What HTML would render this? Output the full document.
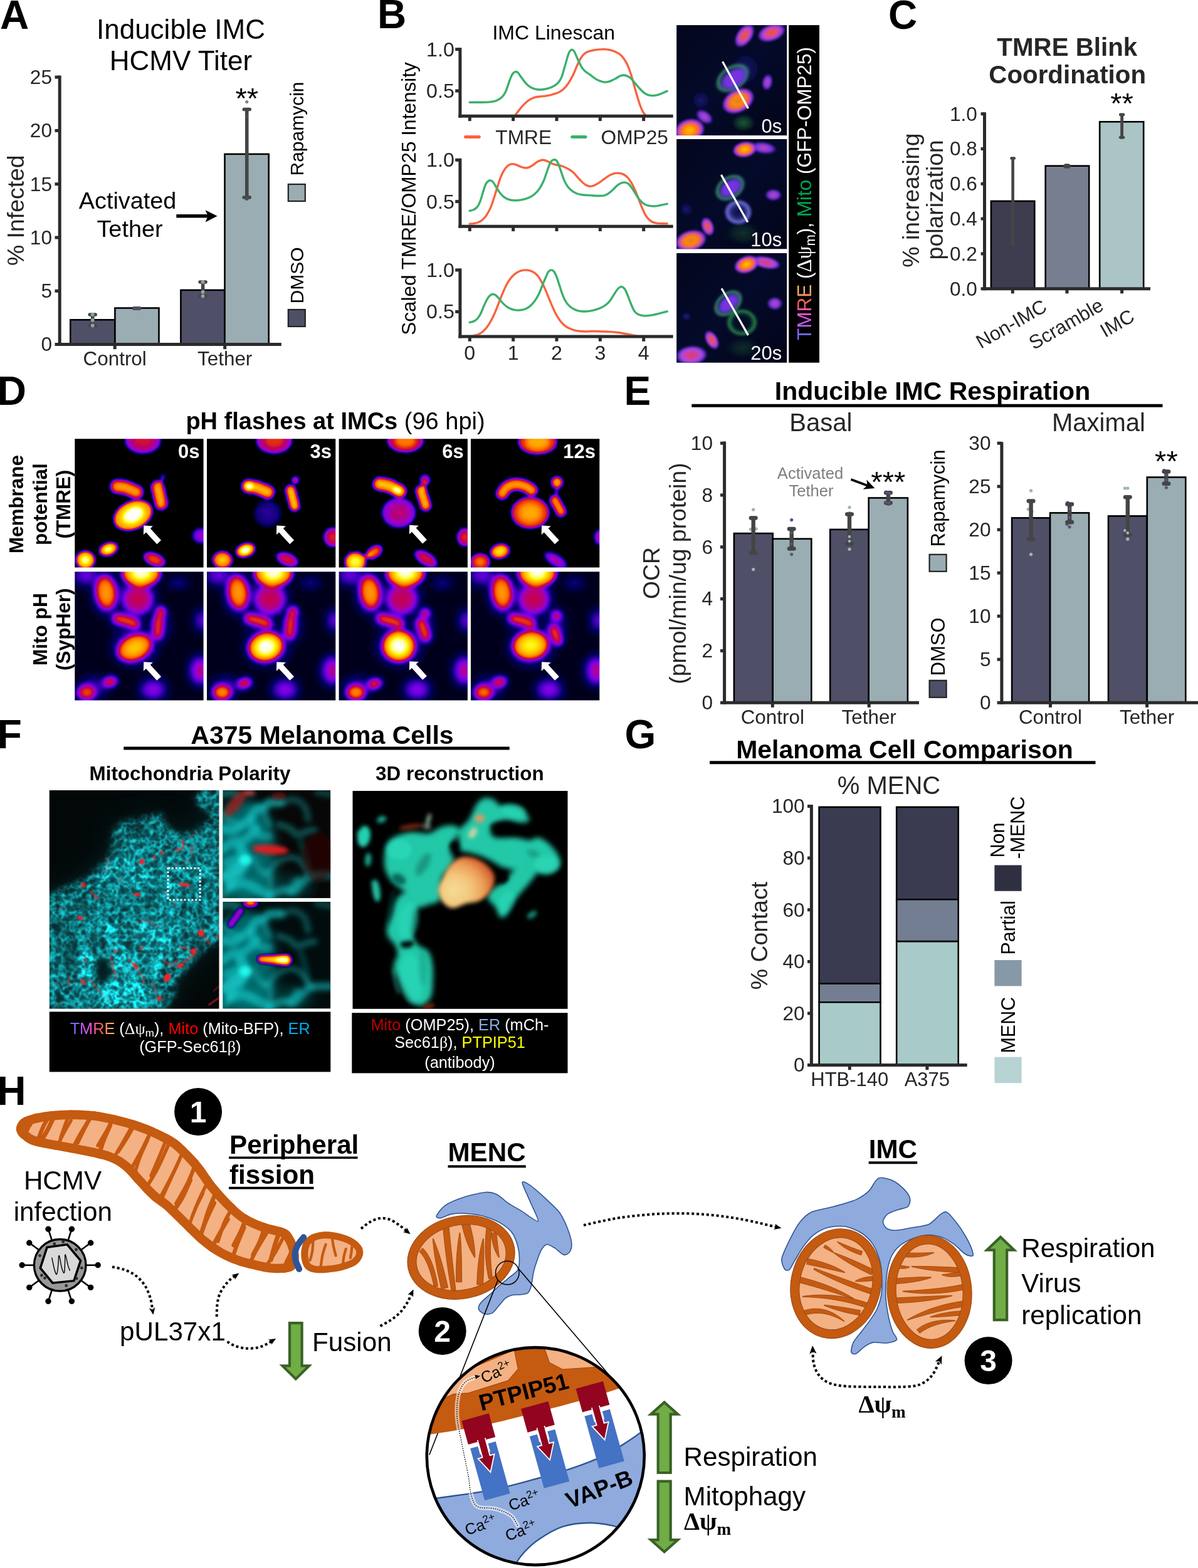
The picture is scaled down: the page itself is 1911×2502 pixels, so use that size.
<!DOCTYPE html>
<html lang="en">
<head>
<meta charset="utf-8">
<title>Figure</title>
<style>
html,body{margin:0;padding:0;background:#fff;}
body{width:1911px;height:2502px;overflow:hidden;}
svg{display:block;font-family:"Liberation Sans",sans-serif;}
</style>
</head>
<body>
<svg width="1911" height="2502" viewBox="0 0 1911 2502">
<defs>
<radialGradient id="bHot"><stop offset="0" stop-color="#ffc400"/><stop offset="0.3" stop-color="#ff9a00"/><stop offset="0.55" stop-color="#f56a20"/><stop offset="0.72" stop-color="#c840d0"/><stop offset="0.86" stop-color="#7a35e8" stop-opacity="0.85"/><stop offset="1" stop-color="#3a20c0" stop-opacity="0"/></radialGradient>
<radialGradient id="bOr"><stop offset="0" stop-color="#f07818"/><stop offset="0.35" stop-color="#f58a10"/><stop offset="0.58" stop-color="#ee6a30"/><stop offset="0.74" stop-color="#c040d0"/><stop offset="0.87" stop-color="#7a35e8" stop-opacity="0.8"/><stop offset="1" stop-color="#3a20c0" stop-opacity="0"/></radialGradient>
<radialGradient id="bRed"><stop offset="0" stop-color="#e8553c"/><stop offset="0.3" stop-color="#e25060"/><stop offset="0.55" stop-color="#c845c8"/><stop offset="0.78" stop-color="#8438e6" stop-opacity="0.9"/><stop offset="1" stop-color="#3a20c0" stop-opacity="0"/></radialGradient>
<radialGradient id="bMag"><stop offset="0" stop-color="#d83a70"/><stop offset="0.35" stop-color="#d040a0"/><stop offset="0.6" stop-color="#b048e0"/><stop offset="0.8" stop-color="#7c3ae8" stop-opacity="0.85"/><stop offset="1" stop-color="#3a20c0" stop-opacity="0"/></radialGradient>
<radialGradient id="bPur"><stop offset="0" stop-color="#7a30e0"/><stop offset="0.5" stop-color="#7434e0"/><stop offset="0.75" stop-color="#6a3ad8" stop-opacity="0.85"/><stop offset="1" stop-color="#3a30c0" stop-opacity="0"/></radialGradient>
<radialGradient id="bPurR"><stop offset="0" stop-color="#c04890"/><stop offset="0.3" stop-color="#a040d8"/><stop offset="0.65" stop-color="#7a35e8" stop-opacity="0.9"/><stop offset="1" stop-color="#3a20c0" stop-opacity="0"/></radialGradient>
<radialGradient id="bBlu"><stop offset="0" stop-color="#2a1ca8" stop-opacity="0.9"/><stop offset="0.6" stop-color="#1a1a80" stop-opacity="0.5"/><stop offset="1" stop-color="#101060" stop-opacity="0"/></radialGradient>
<radialGradient id="bGrn"><stop offset="0" stop-color="#1f6a38" stop-opacity="0.85"/><stop offset="0.6" stop-color="#185030" stop-opacity="0.5"/><stop offset="1" stop-color="#0a2a20" stop-opacity="0"/></radialGradient>
<radialGradient id="bGrnRim"><stop offset="0" stop-color="#4fa88a" stop-opacity="0"/><stop offset="0.55" stop-color="#4fa88a" stop-opacity="0"/><stop offset="0.78" stop-color="#4aa080" stop-opacity="0.75"/><stop offset="0.9" stop-color="#2f8060" stop-opacity="0.45"/><stop offset="1" stop-color="#104030" stop-opacity="0"/></radialGradient>
<radialGradient id="bRing"><stop offset="0" stop-color="#3030a0" stop-opacity="0.2"/><stop offset="0.45" stop-color="#4040b0" stop-opacity="0.5"/><stop offset="0.75" stop-color="#7070d8" stop-opacity="0.95"/><stop offset="0.9" stop-color="#5858c0" stop-opacity="0.6"/><stop offset="1" stop-color="#202080" stop-opacity="0"/></radialGradient>
<radialGradient id="bGRing"><stop offset="0" stop-color="#1a6a3a" stop-opacity="0"/><stop offset="0.5" stop-color="#1a6a3a" stop-opacity="0.1"/><stop offset="0.78" stop-color="#2c9650" stop-opacity="0.8"/><stop offset="0.9" stop-color="#207840" stop-opacity="0.5"/><stop offset="1" stop-color="#104030" stop-opacity="0"/></radialGradient>
<linearGradient id="bTM" gradientUnits="userSpaceOnUse" x1="0" y1="0" x2="89" y2="0"><stop offset="0.1" stop-color="#7669f8"/><stop offset="0.42" stop-color="#f050f0"/><stop offset="0.68" stop-color="#f25a52"/><stop offset="0.92" stop-color="#f6ba68"/></linearGradient>
<filter id="bBlur" x="-10%" y="-10%" width="120%" height="120%"><feGaussianBlur stdDeviation="1.7"/></filter>
<linearGradient id="bBg" x1="0" y1="0" x2="1" y2="1"><stop offset="0" stop-color="#03061c"/><stop offset="0.5" stop-color="#040a2a"/><stop offset="1" stop-color="#020418"/></linearGradient>
<clipPath id="bClip0"><rect x="1079.2" y="40.1" width="176" height="176"/></clipPath>
<clipPath id="bClip1"><rect x="1079.2" y="222" width="176" height="175.3"/></clipPath>
<clipPath id="bClip2"><rect x="1079.2" y="403.9" width="176" height="174.8"/></clipPath>
<filter id="fireA" filterUnits="userSpaceOnUse" x="0" y="680" width="980" height="460" color-interpolation-filters="sRGB"><feGaussianBlur stdDeviation="2.3"/><feComponentTransfer><feFuncR type="table" tableValues="0 0 0 0.1 0.19 0.29 0.38 0.48 0.57 0.64 0.68 0.72 0.76 0.81 0.85 0.9 0.94 0.99 1 1 1 1 1 1 1 1 1 1 1 1 1 1"/><feFuncG type="table" tableValues="0 0 0 0 0 0 0 0 0 0 0 0 0 0.05 0.14 0.22 0.31 0.4 0.46 0.52 0.58 0.63 0.69 0.75 0.8 0.86 0.92 0.97 1 1 1 1"/><feFuncB type="table" tableValues="0 0.24 0.38 0.51 0.65 0.75 0.86 0.89 0.82 0.71 0.59 0.48 0.36 0.25 0.14 0.02 0 0 0 0 0 0 0 0 0 0 0 0.14 0.38 0.63 0.87 1"/><feFuncA type="linear" slope="0" intercept="1"/></feComponentTransfer></filter>
<filter id="fireB" filterUnits="userSpaceOnUse" x="0" y="680" width="980" height="460" color-interpolation-filters="sRGB"><feGaussianBlur stdDeviation="4"/><feComponentTransfer><feFuncR type="table" tableValues="0 0 0 0.1 0.19 0.29 0.38 0.48 0.57 0.64 0.68 0.72 0.76 0.81 0.85 0.9 0.94 0.99 1 1 1 1 1 1 1 1 1 1 1 1 1 1"/><feFuncG type="table" tableValues="0 0 0 0 0 0 0 0 0 0 0 0 0 0.05 0.14 0.22 0.31 0.4 0.46 0.52 0.58 0.63 0.69 0.75 0.8 0.86 0.92 0.97 1 1 1 1"/><feFuncB type="table" tableValues="0 0.24 0.38 0.51 0.65 0.75 0.86 0.89 0.82 0.71 0.59 0.48 0.36 0.25 0.14 0.02 0 0 0 0 0 0 0 0 0 0 0 0.14 0.38 0.63 0.87 1"/><feFuncA type="linear" slope="0" intercept="1"/></feComponentTransfer></filter>
<filter id="dHaze" x="-50%" y="-50%" width="200%" height="200%"><feGaussianBlur stdDeviation="7"/></filter>
<filter id="dS1" x="-60%" y="-60%" width="220%" height="220%"><feGaussianBlur stdDeviation="1.6"/></filter>
<filter id="dS2" x="-60%" y="-60%" width="220%" height="220%"><feGaussianBlur stdDeviation="3"/></filter>
<filter id="dS3" x="-60%" y="-60%" width="220%" height="220%"><feGaussianBlur stdDeviation="5"/></filter>
<clipPath id="dc00"><rect x="119.3" y="700.3" width="205.3" height="205.3"/></clipPath>
<clipPath id="dc01"><rect x="330" y="700.3" width="205.3" height="205.3"/></clipPath>
<clipPath id="dc02"><rect x="540.6" y="700.3" width="205.3" height="205.3"/></clipPath>
<clipPath id="dc03"><rect x="751" y="700.3" width="205.3" height="205.3"/></clipPath>
<clipPath id="dc10"><rect x="119.3" y="912.2" width="205.3" height="205.3"/></clipPath>
<clipPath id="dc11"><rect x="330" y="912.2" width="205.3" height="205.3"/></clipPath>
<clipPath id="dc12"><rect x="540.6" y="912.2" width="205.3" height="205.3"/></clipPath>
<clipPath id="dc13"><rect x="751" y="912.2" width="205.3" height="205.3"/></clipPath>
<filter id="fER" filterUnits="userSpaceOnUse" x="48.8" y="1231" width="330.6" height="408.6" color-interpolation-filters="sRGB"><feTurbulence type="fractalNoise" baseFrequency="0.07" numOctaves="3" seed="11" result="n"/><feComponentTransfer in="n" result="l"><feFuncR type="table" tableValues="0 0 0 0 0 0 0 0 0 0 0 0 0 0 0 0 0 0 0.25 0.8 1 0.8 0.25 0 0 0 0 0 0 0 0 0 0 0 0 0 0 0 0 0 0"/><feFuncG type="table" tableValues="0 0 0 0 0 0 0 0 0 0 0 0 0 0 0 0 0 0 0.25 0.8 1 0.8 0.25 0 0 0 0 0 0 0 0 0 0 0 0 0 0 0 0 0 0"/><feFuncB type="table" tableValues="0 0 0 0.1 0.5 0.9 0.5 0.1 0 0 0"/><feFuncA type="linear" slope="0" intercept="1"/></feComponentTransfer><feColorMatrix in="l" type="matrix" values="0.04 0.04 0.02 0 0  0.5 0.5 0.25 0 0.06  0.52 0.52 0.26 0 0.07  0 0 0 0 1" result="c"/><feGaussianBlur in="c" stdDeviation="1.15" result="cb"/><feGaussianBlur in="SourceGraphic" stdDeviation="5" result="m"/><feGaussianBlur in="SourceGraphic" stdDeviation="22" result="m2"/><feComposite in="cb" in2="m" operator="arithmetic" k1="1.75" k2="0" k3="0.04" k4="0" result="r1"/><feColorMatrix in="m2" type="matrix" values="0.02 0 0 0 0.008  0 0.22 0 0 0.03  0 0 0.24 0 0.032  0 0 0 0 1" result="hz"/><feComposite in="r1" in2="hz" operator="arithmetic" k1="0" k2="1" k3="1" k4="0"/><feComponentTransfer><feFuncA type="linear" slope="0" intercept="1"/></feComponentTransfer></filter>
<filter id="fERz" filterUnits="userSpaceOnUse" x="345.3" y="1251" width="192" height="368.6" color-interpolation-filters="sRGB"><feTurbulence type="fractalNoise" baseFrequency="0.022" numOctaves="2" seed="5" result="n"/><feComponentTransfer in="n" result="l"><feFuncR type="table" tableValues="0 0 0 0 0 0 0 0 0.2 0.75 1 0.75 0.2 0 0 0 0 0 0 0 0"/><feFuncG type="table" tableValues="0 0 0 0 0 0 0 0 0.2 0.75 1 0.75 0.2 0 0 0 0 0 0 0 0"/><feFuncB type="table" tableValues="0 0 0 0.1 0.4 0.7 0.4 0.1 0 0 0"/><feFuncA type="linear" slope="0" intercept="1"/></feComponentTransfer><feColorMatrix in="l" type="matrix" values="0 0 0 0 0  0.6 0.6 0.18 0 0.03  0.62 0.62 0.19 0 0.04  0 0 0 0 1" result="c"/><feGaussianBlur in="c" stdDeviation="3" result="cb"/><feGaussianBlur in="SourceGraphic" stdDeviation="9" result="m"/><feComposite in="cb" in2="m" operator="arithmetic" k1="1.9" k2="0" k3="0.06" k4="0"/><feComponentTransfer><feFuncA type="linear" slope="0" intercept="1"/></feComponentTransfer></filter>
<linearGradient id="fTM" gradientUnits="userSpaceOnUse" x1="112" y1="0" x2="183" y2="0"><stop offset="0.1" stop-color="#7669f8"/><stop offset="0.42" stop-color="#f050f0"/><stop offset="0.68" stop-color="#f25a52"/><stop offset="0.92" stop-color="#f6ba68"/></linearGradient>
<filter id="fB1" x="-50%" y="-50%" width="200%" height="200%"><feGaussianBlur stdDeviation="0.9"/></filter>
<filter id="fB2" x="-50%" y="-50%" width="200%" height="200%"><feGaussianBlur stdDeviation="3"/></filter>
<filter id="fB4" x="-50%" y="-50%" width="200%" height="200%"><feGaussianBlur stdDeviation="4.5"/></filter>
<filter id="fB8" x="-50%" y="-50%" width="200%" height="200%"><feGaussianBlur stdDeviation="9"/></filter>
<filter id="fFire" filterUnits="userSpaceOnUse" x="345.3" y="1428.8" width="192" height="190.8" color-interpolation-filters="sRGB"><feGaussianBlur stdDeviation="2.7" result="b"/><feColorMatrix in="b" type="matrix" values="0 0 0 1 0  0 0 0 1 0  0 0 0 1 0  0 0 0 0 1" result="g"/><feComponentTransfer in="g" result="c"><feFuncR type="table" tableValues="0 0 0 0.1 0.19 0.29 0.38 0.48 0.57 0.64 0.68 0.72 0.76 0.81 0.85 0.9 0.94 0.99 1 1 1 1 1 1 1 1 1 1 1 1 1 1"/><feFuncG type="table" tableValues="0 0 0 0 0 0 0 0 0 0 0 0 0 0.05 0.14 0.22 0.31 0.4 0.46 0.52 0.58 0.63 0.69 0.75 0.8 0.86 0.92 0.97 1 1 1 1"/><feFuncB type="table" tableValues="0 0.24 0.38 0.51 0.65 0.75 0.86 0.89 0.82 0.71 0.59 0.48 0.36 0.25 0.14 0.02 0 0 0 0 0 0 0 0 0 0 0 0.14 0.38 0.63 0.87 1"/></feComponentTransfer><feComponentTransfer in="b" result="a"><feFuncA type="table" tableValues="0 0.9 1 1 1 1 1 1"/></feComponentTransfer><feComposite in="c" in2="a" operator="in"/></filter>
<clipPath id="fcM"><rect x="78.8" y="1261" width="270.6" height="348.6"/></clipPath>
<clipPath id="fcZ1"><rect x="355.3" y="1261" width="172" height="172.2"/></clipPath>
<clipPath id="fcZ2"><rect x="355.3" y="1438.8" width="172" height="170.8"/></clipPath>
<clipPath id="fcT"><rect x="562.5" y="1262" width="343" height="347.8"/></clipPath>
<linearGradient id="fTeal" x1="0" y1="0" x2="1" y2="1"><stop offset="0" stop-color="#3fd4b4"/><stop offset="0.5" stop-color="#2fbf9f"/><stop offset="1" stop-color="#239a84"/></linearGradient>
<radialGradient id="fOr" cx="0.28" cy="0.66" r="0.85"><stop offset="0" stop-color="#f5dc96"/><stop offset="0.35" stop-color="#f3c77c"/><stop offset="0.62" stop-color="#ec9f58"/><stop offset="0.82" stop-color="#d86a34"/><stop offset="1" stop-color="#a83418"/></radialGradient>
</defs>
<rect width="1911" height="2502" fill="#fff"/>
<g id="pA">
<text x="0" y="45.6" font-size="64" fill="#000" font-weight="bold">A</text>
<text x="288.5" y="61.6" font-size="44" fill="#000" text-anchor="middle">Inducible IMC</text>
<text x="288.4" y="111.9" font-size="44" fill="#000" text-anchor="middle">HCMV Titer</text>
<text font-size="37.4" fill="#262626" text-anchor="middle" transform="translate(38.4 335.7) rotate(-90)">% Infected</text>
<rect x="112.3" y="510.3" width="71.1" height="39.3" fill="#4f5067" stroke="#000" stroke-width="2.6"/>
<rect x="183.4" y="491.53" width="70.1" height="58.07" fill="#9aadb2" stroke="#000" stroke-width="2.6"/>
<rect x="288.4" y="462.87" width="70.1" height="86.73" fill="#4f5067" stroke="#000" stroke-width="2.6"/>
<rect x="358.5" y="245.87" width="70.2" height="303.73" fill="#9aadb2" stroke="#000" stroke-width="2.6"/>
<line x1="147.7" y1="502" x2="147.7" y2="519.5" stroke="#454545" stroke-width="5.6"/><line x1="143.25" y1="502" x2="152.15" y2="502" stroke="#454545" stroke-width="5.6" stroke-linecap="round"/><line x1="143.25" y1="519.5" x2="152.15" y2="519.5" stroke="#454545" stroke-width="5.6" stroke-linecap="round"/>
<circle cx="147.7" cy="502" r="2.9" fill="#8ca2a8"/>
<circle cx="147.7" cy="511" r="2.9" fill="#8ca2a8"/>
<circle cx="147.7" cy="519.5" r="2.9" fill="#8ca2a8"/>
<line x1="218.2" y1="492" x2="218.2" y2="492" stroke="#454545" stroke-width="5.6"/><line x1="213.75" y1="492" x2="222.65" y2="492" stroke="#454545" stroke-width="5.6" stroke-linecap="round"/><line x1="213.75" y1="492" x2="222.65" y2="492" stroke="#454545" stroke-width="5.6" stroke-linecap="round"/>
<circle cx="215.7" cy="492" r="2.9" fill="#4f5067"/>
<circle cx="220.7" cy="492" r="2.9" fill="#4f5067"/>
<line x1="323.6" y1="450" x2="323.6" y2="472.5" stroke="#454545" stroke-width="5.6"/><line x1="319.15" y1="450" x2="328.05" y2="450" stroke="#454545" stroke-width="5.6" stroke-linecap="round"/><line x1="319.15" y1="472.5" x2="328.05" y2="472.5" stroke="#454545" stroke-width="5.6" stroke-linecap="round"/>
<circle cx="323.6" cy="450" r="2.9" fill="#8ca2a8"/>
<circle cx="323.6" cy="466" r="2.9" fill="#8ca2a8"/>
<circle cx="323.6" cy="472.5" r="2.9" fill="#8ca2a8"/>
<line x1="393.75" y1="174.5" x2="393.75" y2="315" stroke="#454545" stroke-width="5.6"/><line x1="389.3" y1="174.5" x2="398.2" y2="174.5" stroke="#454545" stroke-width="5.6" stroke-linecap="round"/><line x1="389.3" y1="315" x2="398.2" y2="315" stroke="#454545" stroke-width="5.6" stroke-linecap="round"/>
<circle cx="393.75" cy="162.5" r="2.6" fill="#7d7f9b"/>
<circle cx="393.75" cy="186" r="2.4" fill="#4a4a66"/>
<circle cx="393.75" cy="317" r="2.9" fill="#4a4a66"/>
<line x1="95.2" y1="120.5" x2="95.2" y2="552.1" stroke="#2b2b2b" stroke-width="5"/>
<line x1="87.5" y1="549.6" x2="448.8" y2="549.6" stroke="#2b2b2b" stroke-width="5"/>
<text x="83" y="560.4" font-size="31.6" fill="#262626" text-anchor="end">0</text>
<line x1="87.5" y1="464.3" x2="95.2" y2="464.3" stroke="#2b2b2b" stroke-width="5"/>
<text x="83" y="475.1" font-size="31.6" fill="#262626" text-anchor="end">5</text>
<line x1="87.5" y1="379" x2="95.2" y2="379" stroke="#2b2b2b" stroke-width="5"/>
<text x="83" y="389.8" font-size="31.6" fill="#262626" text-anchor="end">10</text>
<line x1="87.5" y1="293.7" x2="95.2" y2="293.7" stroke="#2b2b2b" stroke-width="5"/>
<text x="83" y="304.5" font-size="31.6" fill="#262626" text-anchor="end">15</text>
<line x1="87.5" y1="208.4" x2="95.2" y2="208.4" stroke="#2b2b2b" stroke-width="5"/>
<text x="83" y="219.2" font-size="31.6" fill="#262626" text-anchor="end">20</text>
<line x1="87.5" y1="123.1" x2="95.2" y2="123.1" stroke="#2b2b2b" stroke-width="5"/>
<text x="83" y="133.9" font-size="31.6" fill="#262626" text-anchor="end">25</text>
<line x1="183.2" y1="549.6" x2="183.2" y2="557.2" stroke="#2b2b2b" stroke-width="5"/>
<text x="183.2" y="583.2" font-size="31.4" fill="#262626" text-anchor="middle">Control</text>
<line x1="358.7" y1="549.6" x2="358.7" y2="557.2" stroke="#2b2b2b" stroke-width="5"/>
<text x="358.7" y="583.2" font-size="31.4" fill="#262626" text-anchor="middle">Tether</text>
<text x="203.6" y="333" font-size="37.8" fill="#000" text-anchor="middle">Activated</text>
<text x="207" y="377.7" font-size="37.8" fill="#000" text-anchor="middle">Tether</text>
<line x1="281.3" y1="344.8" x2="333" y2="344.8" stroke="#000" stroke-width="5.4"/>
<path d="M346.6 344.8 L327.6 335.2 L331.8 344.8 L327.6 354.4 Z" fill="#000"/>
<text x="393.75" y="172.6" font-size="47" fill="#000" text-anchor="middle">**</text>
<rect x="459.8" y="494" width="27" height="27" fill="#4f5067" stroke="#222" stroke-width="2.2"/>
<text font-size="30" fill="#000" transform="translate(484 484.5) rotate(-90)">DMSO</text>
<rect x="459.8" y="294" width="27" height="27" fill="#9aadb2" stroke="#222" stroke-width="2.2"/>
<text font-size="30" fill="#000" transform="translate(484 280.5) rotate(-90)">Rapamycin</text>
</g>
<g id="pB">
<text x="602" y="45.4" font-size="64" fill="#000" font-weight="bold">B</text>
<text x="883.2" y="63.2" font-size="32" fill="#000" text-anchor="middle">IMC Linescan</text>
<text font-size="31.5" fill="#000" text-anchor="middle" transform="translate(662.6 317) rotate(-90)">Scaled TMRE/OMP25 Intensity</text>
<clipPath id="bpc1"><rect x="736" y="72.7" width="345" height="110.2"/></clipPath>
<g clip-path="url(#bpc1)" fill="none" stroke-width="3.4" stroke-linecap="round" stroke-linejoin="round">
<path d="M822.57 182.83C823.56 181.54 826.42 177.69 828.51 175.12C830.61 172.55 832.55 169.98 835.12 167.41C837.69 164.84 840.99 161.72 843.93 159.7C846.87 157.68 849.8 156.25 852.74 155.3C855.68 154.34 858.61 154.34 861.55 153.98C864.49 153.61 867.42 153.54 870.36 153.1C873.29 152.66 876.23 152.07 879.17 151.33C882.1 150.6 885.41 149.68 887.98 148.69C890.55 147.7 892.38 146.86 894.58 145.39C896.79 143.92 898.99 142.27 901.19 139.88C903.39 137.5 905.6 134.56 907.8 131.07C910 127.58 912.2 123.55 914.41 118.96C916.61 114.37 918.99 107.95 921.01 103.54C923.03 99.14 924.68 95.47 926.52 92.53C928.35 89.59 930.01 87.65 932.03 85.92C934.04 84.2 936.06 83.17 938.63 82.18C941.2 81.19 944.51 80.53 947.44 79.98C950.38 79.43 953.32 79.1 956.25 78.88C959.19 78.65 962.13 78.47 965.06 78.65C968 78.84 971.12 79.32 973.87 79.98C976.62 80.64 979.01 81.44 981.58 82.62C984.15 83.79 986.9 85.01 989.29 87.02C991.67 89.04 993.88 91.8 995.9 94.73C997.91 97.67 999.57 100.42 1001.4 104.64C1003.24 108.86 1005.26 114.92 1006.91 120.06C1008.56 125.2 1009.84 130.34 1011.31 135.48C1012.78 140.62 1014.07 145.39 1015.72 150.89C1017.37 156.4 1019.57 163.92 1021.22 168.51C1022.87 173.1 1024.34 176.04 1025.63 178.42C1026.91 180.81 1028.38 182.09 1028.93 182.83" stroke="#f9633f"/>
<path d="M749.23 163.23C752.53 163.23 763.54 163.34 769.05 163.23C774.55 163.12 778.59 162.97 782.26 162.57C785.93 162.16 788.14 161.94 791.07 160.8C794.01 159.67 797.31 158.12 799.88 155.74C802.45 153.35 804.47 150.6 806.49 146.49C808.51 142.38 810.34 135.48 811.99 131.07C813.65 126.67 815.11 122.63 816.4 120.06C817.68 117.49 818.6 116.57 819.7 115.66C820.8 114.74 821.91 114.48 823.01 114.55C824.11 114.63 825.03 114.81 826.31 116.1C827.6 117.38 828.88 119.77 830.72 122.26C832.55 124.76 835.12 128.5 837.32 131.07C839.52 133.64 841.73 135.99 843.93 137.68C846.13 139.37 848.33 140.36 850.54 141.2C852.74 142.05 854.57 142.49 857.14 142.74C859.71 143 863.02 143.04 865.95 142.74C868.89 142.45 871.83 141.9 874.76 140.98C877.7 140.07 881 138.71 883.57 137.24C886.14 135.77 888.16 134.49 890.18 132.17C892.2 129.86 894.03 127.22 895.69 123.36C897.34 119.51 898.62 114 900.09 109.05C901.56 104.09 903.21 97.85 904.5 93.63C905.78 89.41 906.59 86.11 907.8 83.72C909.01 81.33 910.48 79.68 911.76 79.32C913.05 78.95 914.33 80.05 915.51 81.52C916.68 82.99 917.53 85.37 918.81 88.13C920.1 90.88 921.75 94.92 923.22 98.04C924.68 101.16 925.97 104.28 927.62 106.85C929.27 109.42 930.92 111.43 933.13 113.45C935.33 115.47 938.08 116.94 940.84 118.96C943.59 120.98 947.08 123.91 949.64 125.57C952.21 127.22 953.87 127.95 956.25 128.87C958.64 129.79 961.76 130.78 963.96 131.07C966.16 131.37 967.45 131.07 969.47 130.63C971.49 130.19 973.87 129.38 976.07 128.43C978.28 127.47 980.48 126.12 982.68 124.91C984.88 123.69 987.16 121.97 989.29 121.16C991.42 120.35 993.44 119.95 995.45 120.06C997.47 120.17 999.49 120.9 1001.4 121.82C1003.31 122.74 1004.89 123.66 1006.91 125.57C1008.93 127.47 1011.31 130.7 1013.51 133.27C1015.72 135.84 1017.92 138.6 1020.12 140.98C1022.32 143.37 1024.53 145.86 1026.73 147.59C1028.93 149.32 1030.77 150.49 1033.34 151.33C1035.91 152.18 1039.21 152.73 1042.15 152.66C1045.08 152.58 1048.39 151.63 1050.96 150.89C1053.52 150.16 1055.36 149.17 1057.56 148.25C1059.76 147.33 1063.07 145.86 1064.17 145.39" stroke="#3bb06d"/>
</g>
<line x1="733.9" y1="76.2" x2="733.9" y2="187.8" stroke="#2b2b2b" stroke-width="5"/>
<line x1="731.4" y1="185.3" x2="1073.7" y2="185.3" stroke="#2b2b2b" stroke-width="5"/>
<line x1="726.2" y1="78.7" x2="733.9" y2="78.7" stroke="#2b2b2b" stroke-width="5"/>
<text x="724.8" y="89.6" font-size="32.2" fill="#262626" text-anchor="end">1.0</text>
<line x1="726.2" y1="145" x2="733.9" y2="145" stroke="#2b2b2b" stroke-width="5"/>
<text x="724.8" y="155.9" font-size="32.2" fill="#262626" text-anchor="end">0.5</text>
<line x1="749.3" y1="185.3" x2="749.3" y2="193.1" stroke="#2b2b2b" stroke-width="5"/>
<line x1="818.65" y1="185.3" x2="818.65" y2="193.1" stroke="#2b2b2b" stroke-width="5"/>
<line x1="888" y1="185.3" x2="888" y2="193.1" stroke="#2b2b2b" stroke-width="5"/>
<line x1="957.35" y1="185.3" x2="957.35" y2="193.1" stroke="#2b2b2b" stroke-width="5"/>
<line x1="1026.7" y1="185.3" x2="1026.7" y2="193.1" stroke="#2b2b2b" stroke-width="5"/>
<clipPath id="bpc2"><rect x="736" y="249.3" width="345" height="109.5"/></clipPath>
<g clip-path="url(#bpc2)" fill="none" stroke-width="3.4" stroke-linecap="round" stroke-linejoin="round">
<path d="M749.23 357.23C750.33 357.12 753.63 356.94 755.83 356.57C758.04 356.21 760.24 355.91 762.44 355.03C764.64 354.15 766.85 353.12 769.05 351.29C771.25 349.45 773.45 347.25 775.66 344.02C777.86 340.79 780.24 336.49 782.26 331.91C784.28 327.32 785.93 321.99 787.77 316.49C789.6 310.98 791.44 304.56 793.27 298.87C795.11 293.18 796.95 286.94 798.78 282.35C800.62 277.76 802.45 274.28 804.29 271.34C806.12 268.4 807.96 266.31 809.79 264.73C811.63 263.15 813.65 262.35 815.3 261.87C816.95 261.39 818.05 261.58 819.7 261.87C821.36 262.16 823.19 262.86 825.21 263.63C827.23 264.4 829.61 265.76 831.82 266.49C834.02 267.23 836.4 267.96 838.42 268.04C840.44 268.11 841.91 267.74 843.93 266.93C845.95 266.13 848.33 264.66 850.54 263.19C852.74 261.72 854.94 259.41 857.14 258.13C859.35 256.84 861.92 255.92 863.75 255.48C865.59 255.04 866.5 255.15 868.16 255.48C869.81 255.81 871.64 256.55 873.66 257.46C875.68 258.38 878.07 260.07 880.27 260.99C882.47 261.91 884.49 262.42 886.88 262.97C889.26 263.52 892.2 263.63 894.58 264.29C896.97 264.95 898.99 265.94 901.19 266.93C903.39 267.93 905.6 268.88 907.8 270.24C910 271.6 912.2 273.06 914.41 275.08C916.61 277.1 918.81 279.93 921.01 282.35C923.22 284.77 925.42 287.53 927.62 289.62C929.82 291.71 931.84 293.62 934.23 294.91C936.61 296.19 939.55 297.22 941.94 297.33C944.32 297.44 946.16 296.59 948.54 295.57C950.93 294.54 953.5 293 956.25 291.16C959.01 289.33 962.13 286.57 965.06 284.55C968 282.54 971.12 280.41 973.87 279.05C976.62 277.69 979.19 276.85 981.58 276.41C983.97 275.96 985.98 276.07 988.19 276.41C990.39 276.74 992.78 277.4 994.79 278.39C996.81 279.38 998.28 280.22 1000.3 282.35C1002.32 284.48 1004.89 287.86 1006.91 291.16C1008.93 294.46 1010.58 298.14 1012.41 302.17C1014.25 306.21 1016.08 310.8 1017.92 315.39C1019.75 319.98 1021.59 325.3 1023.43 329.7C1025.26 334.11 1027.1 338.51 1028.93 341.82C1030.77 345.12 1032.42 347.43 1034.44 349.52C1036.46 351.62 1038.66 353.23 1041.04 354.37C1043.43 355.51 1046 355.95 1048.75 356.35C1051.51 356.76 1054.99 356.72 1057.56 356.79C1060.13 356.87 1063.07 356.79 1064.17 356.79" stroke="#f9633f"/>
<path d="M749.23 336.31C750.33 336.02 753.81 335.58 755.83 334.55C757.85 333.52 759.69 332.24 761.34 330.14C762.99 328.05 764.28 325.74 765.74 321.99C767.21 318.25 768.68 312.27 770.15 307.68C771.62 303.09 773.09 297.58 774.55 294.46C776.02 291.34 777.67 290.06 778.96 288.96C780.24 287.86 781.05 287.67 782.26 287.86C783.47 288.04 784.76 288.41 786.23 290.06C787.7 291.71 789.35 295.02 791.07 297.77C792.8 300.52 794.56 303.9 796.58 306.58C798.6 309.26 800.8 311.94 803.19 313.85C805.57 315.75 808.14 317.04 810.89 318.03C813.65 319.02 816.77 319.57 819.7 319.79C822.64 320.01 825.58 319.72 828.51 319.35C831.45 318.98 834.39 318.43 837.32 317.59C840.26 316.75 843.38 315.75 846.13 314.29C848.89 312.82 851.45 310.98 853.84 308.78C856.23 306.58 858.25 304.38 860.45 301.07C862.65 297.77 865.04 293.55 867.05 288.96C869.07 284.37 870.91 278.13 872.56 273.54C874.21 268.95 875.68 264.26 876.97 261.43C878.25 258.6 878.98 257.68 880.27 256.58C881.55 255.48 883.32 254.75 884.67 254.82C886.03 254.9 887.21 255.37 888.42 257.02C889.63 258.68 890.73 261.61 891.94 264.73C893.15 267.85 894.33 271.89 895.69 275.74C897.04 279.6 898.44 284.19 900.09 287.86C901.74 291.53 903.58 295.02 905.6 297.77C907.62 300.52 909.82 302.54 912.2 304.38C914.59 306.21 916.98 307.68 919.91 308.78C922.85 309.88 926.34 310.51 929.82 310.98C933.31 311.46 936.8 311.39 940.84 311.64C944.87 311.9 950.38 312.45 954.05 312.52C957.72 312.6 960.29 312.6 962.86 312.08C965.43 311.57 967.08 310.91 969.47 309.44C971.85 307.97 974.79 305.4 977.17 303.27C979.56 301.15 981.58 298.5 983.78 296.67C985.98 294.83 988.19 293.18 990.39 292.26C992.59 291.34 994.98 290.98 997 291.16C999.02 291.34 1000.67 291.9 1002.5 293.36C1004.34 294.83 1006.17 297.4 1008.01 299.97C1009.84 302.54 1011.5 305.66 1013.51 308.78C1015.53 311.9 1017.92 316.01 1020.12 318.69C1022.32 321.37 1024.53 323.32 1026.73 324.86C1028.93 326.4 1030.77 327.24 1033.34 327.94C1035.91 328.64 1039.21 329.01 1042.15 329.04C1045.08 329.08 1048.39 328.57 1050.96 328.16C1053.52 327.76 1055.36 327.1 1057.56 326.62C1059.76 326.14 1063.07 325.52 1064.17 325.3" stroke="#3bb06d"/>
</g>
<line x1="733.9" y1="252.8" x2="733.9" y2="363.7" stroke="#2b2b2b" stroke-width="5"/>
<line x1="731.4" y1="361.2" x2="1073.7" y2="361.2" stroke="#2b2b2b" stroke-width="5"/>
<line x1="726.2" y1="255.3" x2="733.9" y2="255.3" stroke="#2b2b2b" stroke-width="5"/>
<text x="724.8" y="266.2" font-size="32.2" fill="#262626" text-anchor="end">1.0</text>
<line x1="726.2" y1="321.6" x2="733.9" y2="321.6" stroke="#2b2b2b" stroke-width="5"/>
<text x="724.8" y="332.5" font-size="32.2" fill="#262626" text-anchor="end">0.5</text>
<line x1="749.3" y1="361.2" x2="749.3" y2="369" stroke="#2b2b2b" stroke-width="5"/>
<line x1="818.65" y1="361.2" x2="818.65" y2="369" stroke="#2b2b2b" stroke-width="5"/>
<line x1="888" y1="361.2" x2="888" y2="369" stroke="#2b2b2b" stroke-width="5"/>
<line x1="957.35" y1="361.2" x2="957.35" y2="369" stroke="#2b2b2b" stroke-width="5"/>
<line x1="1026.7" y1="361.2" x2="1026.7" y2="369" stroke="#2b2b2b" stroke-width="5"/>
<clipPath id="bpc3"><rect x="736" y="424.9" width="345" height="109.6"/></clipPath>
<g clip-path="url(#bpc3)" fill="none" stroke-width="3.4" stroke-linecap="round" stroke-linejoin="round">
<path d="M754.73 535.54C756.02 535.24 760.05 534.69 762.44 533.77C764.83 532.86 766.85 531.76 769.05 530.03C771.25 528.31 773.45 526.18 775.66 523.42C777.86 520.67 780.06 517.37 782.26 513.51C784.46 509.66 786.67 505.25 788.87 500.3C791.07 495.34 793.27 489.29 795.48 483.78C797.68 478.27 799.88 472.4 802.08 467.26C804.29 462.12 806.49 456.98 808.69 452.95C810.89 448.91 812.91 445.9 815.3 443.04C817.68 440.17 820.44 437.6 823.01 435.77C825.58 433.93 828.15 432.83 830.72 432.02C833.28 431.22 835.85 430.92 838.42 430.92C840.99 430.92 843.75 431.29 846.13 432.02C848.52 432.76 850.72 433.86 852.74 435.33C854.76 436.8 856.41 438.45 858.25 440.83C860.08 443.22 861.92 446.34 863.75 449.64C865.59 452.95 867.42 456.62 869.26 460.66C871.09 464.69 872.93 469.46 874.76 473.87C876.6 478.27 878.43 482.86 880.27 487.08C882.1 491.31 883.76 495.34 885.78 499.2C887.79 503.05 890.18 507.09 892.38 510.21C894.58 513.33 896.79 515.83 898.99 517.92C901.19 520.01 903.03 521.37 905.6 522.76C908.17 524.16 911.47 525.37 914.41 526.29C917.34 527.2 919.91 527.83 923.22 528.27C926.52 528.71 930.56 528.89 934.23 528.93C937.9 528.97 941.2 528.49 945.24 528.49C949.28 528.49 954.05 528.78 958.45 528.93C962.86 529.08 967.26 529.11 971.67 529.37C976.07 529.63 980.85 529.99 984.88 530.47C988.92 530.95 992.22 531.57 995.9 532.23C999.57 532.89 1003.6 533.81 1006.91 534.44C1010.21 535.06 1014.25 535.72 1015.72 535.98" stroke="#f9633f"/>
<path d="M749.23 514.39C750.33 514.1 753.81 513.59 755.83 512.63C757.85 511.68 759.5 510.72 761.34 508.67C763.17 506.61 765.01 503.9 766.85 500.3C768.68 496.7 770.52 491.12 772.35 487.08C774.19 483.05 776.13 478.83 777.86 476.07C779.58 473.32 781.23 471.67 782.7 470.57C784.17 469.46 785.27 469.35 786.67 469.46C788.06 469.57 789.42 469.94 791.07 471.23C792.72 472.51 794.56 474.9 796.58 477.17C798.6 479.45 800.8 482.57 803.19 484.88C805.57 487.19 808.14 489.47 810.89 491.05C813.65 492.63 816.77 493.69 819.7 494.35C822.64 495.01 825.58 495.2 828.51 495.01C831.45 494.83 834.57 494.28 837.32 493.25C840.08 492.22 842.46 490.97 845.03 488.85C847.6 486.72 850.35 483.71 852.74 480.48C855.13 477.25 857.33 473.5 859.35 469.46C861.37 465.43 863.02 460.66 864.85 456.25C866.69 451.85 868.71 446.78 870.36 443.04C872.01 439.29 873.29 435.8 874.76 433.79C876.23 431.77 877.7 431.03 879.17 430.92C880.64 430.81 882.1 431.29 883.57 433.13C885.04 434.96 886.51 438.26 887.98 441.93C889.45 445.61 890.73 450.19 892.38 455.15C894.03 460.1 896.05 467.08 897.89 471.67C899.72 476.26 901.38 479.67 903.39 482.68C905.41 485.69 907.43 487.71 910 489.73C912.57 491.75 915.51 493.58 918.81 494.79C922.11 496 926.15 496.74 929.82 496.99C933.49 497.25 937.16 496.88 940.84 496.33C944.51 495.78 948.18 494.94 951.85 493.69C955.52 492.44 959.56 490.86 962.86 488.85C966.16 486.83 969.1 484.44 971.67 481.58C974.24 478.71 976.07 474.97 978.28 471.67C980.48 468.36 983.05 464.03 984.88 461.76C986.72 459.48 988 458.67 989.29 458.01C990.57 457.35 991.31 457.17 992.59 457.79C993.88 458.42 995.53 459.44 997 461.76C998.46 464.07 999.75 467.63 1001.4 471.67C1003.05 475.7 1005.07 481.76 1006.91 485.98C1008.74 490.2 1010.39 494.32 1012.41 496.99C1014.43 499.67 1016.27 500.89 1019.02 502.06C1021.77 503.23 1025.44 503.9 1028.93 504.04C1032.42 504.19 1036.27 503.57 1039.94 502.94C1043.61 502.32 1046.92 501.29 1050.96 500.3C1054.99 499.31 1061.97 497.55 1064.17 496.99" stroke="#3bb06d"/>
</g>
<line x1="733.9" y1="428.4" x2="733.9" y2="539.4" stroke="#2b2b2b" stroke-width="5"/>
<line x1="731.4" y1="536.9" x2="1073.7" y2="536.9" stroke="#2b2b2b" stroke-width="5"/>
<line x1="726.2" y1="430.9" x2="733.9" y2="430.9" stroke="#2b2b2b" stroke-width="5"/>
<text x="724.8" y="441.8" font-size="32.2" fill="#262626" text-anchor="end">1.0</text>
<line x1="726.2" y1="497.4" x2="733.9" y2="497.4" stroke="#2b2b2b" stroke-width="5"/>
<text x="724.8" y="508.3" font-size="32.2" fill="#262626" text-anchor="end">0.5</text>
<line x1="749.3" y1="536.9" x2="749.3" y2="544.7" stroke="#2b2b2b" stroke-width="5"/>
<line x1="818.65" y1="536.9" x2="818.65" y2="544.7" stroke="#2b2b2b" stroke-width="5"/>
<line x1="888" y1="536.9" x2="888" y2="544.7" stroke="#2b2b2b" stroke-width="5"/>
<line x1="957.35" y1="536.9" x2="957.35" y2="544.7" stroke="#2b2b2b" stroke-width="5"/>
<line x1="1026.7" y1="536.9" x2="1026.7" y2="544.7" stroke="#2b2b2b" stroke-width="5"/>
<text x="749.3" y="573.8" font-size="32.2" fill="#262626" text-anchor="middle">0</text>
<text x="818.65" y="573.8" font-size="32.2" fill="#262626" text-anchor="middle">1</text>
<text x="888" y="573.8" font-size="32.2" fill="#262626" text-anchor="middle">2</text>
<text x="957.35" y="573.8" font-size="32.2" fill="#262626" text-anchor="middle">3</text>
<text x="1026.7" y="573.8" font-size="32.2" fill="#262626" text-anchor="middle">4</text>
<line x1="742.5" y1="218.6" x2="764.3" y2="218.6" stroke="#f9633f" stroke-width="5" stroke-linecap="round"/>
<text x="790.3" y="229.8" font-size="31.7" fill="#262626">TMRE</text>
<line x1="912.7" y1="218.6" x2="934" y2="218.6" stroke="#3bb06d" stroke-width="5" stroke-linecap="round"/>
<text x="958.5" y="229.8" font-size="31.7" fill="#262626">OMP25</text>
<rect x="1258.2" y="40.1" width="48.8" height="538.6" fill="#000"/>
<rect x="1079.2" y="40.1" width="176" height="176" fill="url(#bBg)"/>
<rect x="1079.2" y="222" width="176" height="175.3" fill="url(#bBg)"/>
<rect x="1079.2" y="403.9" width="176" height="174.8" fill="url(#bBg)"/>
<g clip-path="url(#bClip0)"><g filter="url(#bBlur)">
<ellipse cx="1190" cy="110" rx="26" ry="30" fill="url(#bBlu)" opacity="0.6"/>
<ellipse cx="1118" cy="160" rx="16" ry="16" fill="url(#bBlu)" opacity="0.7"/>
<ellipse cx="1186" cy="196" rx="20" ry="15" fill="url(#bGrn)"/>
<ellipse cx="1168.5" cy="124.5" rx="32" ry="21" fill="url(#bGrnRim)" transform="rotate(-35 1168.5 124.5)"/>
<ellipse cx="1187.6" cy="56.8" rx="22" ry="13" fill="url(#bRed)" transform="rotate(-55 1187.6 56.8)"/>
<ellipse cx="1230.7" cy="52.3" rx="24" ry="14" fill="url(#bRed)" transform="rotate(-20 1230.7 52.3)"/>
<ellipse cx="1170.5" cy="125.5" rx="26" ry="15.5" fill="url(#bPur)" transform="rotate(-35 1170.5 125.5)"/>
<ellipse cx="1224" cy="131.2" rx="14" ry="9" fill="url(#bPurR)" transform="rotate(-80 1224 131.2)"/>
<ellipse cx="1177.5" cy="161" rx="28" ry="19" fill="url(#bOr)" transform="rotate(-28 1177.5 161)"/>
<ellipse cx="1123.6" cy="186.3" rx="16" ry="10" fill="url(#bPurR)" transform="rotate(35 1123.6 186.3)"/>
<ellipse cx="1100" cy="208" rx="25" ry="19" fill="url(#bHot)" transform="rotate(-15 1100 208)"/>
</g></g>
<g clip-path="url(#bClip1)"><g filter="url(#bBlur)">
<ellipse cx="1095" cy="334" rx="12" ry="12" fill="url(#bBlu)" opacity="0.7"/>
<ellipse cx="1185" cy="372" rx="30" ry="20" fill="url(#bGrn)" opacity="0.5"/>
<ellipse cx="1164.5" cy="299.5" rx="28" ry="20" fill="url(#bGrnRim)" transform="rotate(-35 1164.5 299.5)"/>
<ellipse cx="1177.5" cy="338.5" rx="23" ry="21" fill="url(#bRing)"/>
<ellipse cx="1165.5" cy="300" rx="22" ry="14" fill="url(#bPur)" transform="rotate(-35 1165.5 300)"/>
<ellipse cx="1218" cy="236" rx="22" ry="10" fill="url(#bPurR)" transform="rotate(8 1218 236)"/>
<ellipse cx="1188" cy="238.5" rx="20" ry="13" fill="url(#bHot)" transform="rotate(-10 1188 238.5)"/>
<ellipse cx="1233.7" cy="311" rx="14" ry="10" fill="url(#bPurR)"/>
<ellipse cx="1128.8" cy="361.5" rx="16" ry="10" fill="url(#bRed)" transform="rotate(70 1128.8 361.5)"/>
<ellipse cx="1102" cy="384" rx="26" ry="17" fill="url(#bOr)" transform="rotate(-15 1102 384)"/>
</g></g>
<g clip-path="url(#bClip2)"><g filter="url(#bBlur)">
<ellipse cx="1095" cy="505" rx="8" ry="7" fill="url(#bBlu)"/>
<ellipse cx="1185" cy="555" rx="30" ry="18" fill="url(#bGrn)" opacity="0.45"/>
<ellipse cx="1161.5" cy="484" rx="28" ry="19" fill="url(#bGrnRim)" transform="rotate(-40 1161.5 484)"/>
<ellipse cx="1183.5" cy="514.5" rx="26" ry="23" fill="url(#bGRing)"/>
<ellipse cx="1162.3" cy="484.3" rx="22" ry="13" fill="url(#bPur)" transform="rotate(-40 1162.3 484.3)"/>
<ellipse cx="1222" cy="419" rx="24" ry="10" fill="url(#bMag)" transform="rotate(12 1222 419)"/>
<ellipse cx="1191" cy="422" rx="21" ry="14" fill="url(#bHot)" transform="rotate(-20 1191 422)"/>
<ellipse cx="1236" cy="484.3" rx="13" ry="11" fill="url(#bPurR)"/>
<ellipse cx="1135.5" cy="542.5" rx="17" ry="10" fill="url(#bRed)" transform="rotate(60 1135.5 542.5)"/>
<ellipse cx="1103" cy="567" rx="26" ry="16" fill="url(#bMag)" transform="rotate(-5 1103 567)"/>
</g></g>
<line x1="1152.6" y1="98.2" x2="1193.5" y2="172.9" stroke="#fff" stroke-width="3.2"/>
<line x1="1150.4" y1="278.9" x2="1192.8" y2="354.5" stroke="#fff" stroke-width="3.2"/>
<line x1="1151.1" y1="460.2" x2="1193.5" y2="534.9" stroke="#fff" stroke-width="3.2"/>
<text x="1247.3" y="212.3" font-size="31" fill="#fff" text-anchor="end">0s</text>
<text x="1247.3" y="392.8" font-size="31" fill="#fff" text-anchor="end">10s</text>
<text x="1247.3" y="573.6" font-size="31" fill="#fff" text-anchor="end">20s</text>
<text transform="translate(1294 543) rotate(-90)" font-size="31.5" fill="#fff"><tspan fill="url(#bTM)">TMRE</tspan><tspan> (</tspan><tspan font-family="'Liberation Serif', serif" font-size="33">Δψ</tspan><tspan font-size="22" dy="6">m</tspan><tspan dy="-6">), </tspan><tspan fill="#00a651">Mito</tspan><tspan> (GFP-OMP25)</tspan></text>
</g>
<g id="pC">
<text x="1417" y="46.1" font-size="64" fill="#000" font-weight="bold">C</text>
<text x="1702.3" y="89.3" font-size="40.3" fill="#262626" text-anchor="middle" font-weight="bold">TMRE Blink</text>
<text x="1702.7" y="133.3" font-size="40.3" fill="#262626" text-anchor="middle" font-weight="bold">Coordination</text>
<text font-size="37.4" fill="#262626" text-anchor="middle" transform="translate(1466.4 319.6) rotate(-90)">% increasing</text>
<text font-size="37.4" fill="#262626" text-anchor="middle" transform="translate(1503.9 318.8) rotate(-90)">polarization</text>
<rect x="1580.9" y="320.9" width="69.4" height="139.8" fill="#3d3d4f" stroke="#000" stroke-width="2.6"/>
<rect x="1667.7" y="264.7" width="69.5" height="196" fill="#767e8f" stroke="#000" stroke-width="2.6"/>
<rect x="1754.2" y="194.3" width="70" height="266.4" fill="#abc4c5" stroke="#000" stroke-width="2.6"/>
<line x1="1615.6" y1="252.5" x2="1615.6" y2="390" stroke="#454545" stroke-width="4.6"/><line x1="1613.4" y1="252.5" x2="1617.8" y2="252.5" stroke="#454545" stroke-width="4.6" stroke-linecap="round"/><line x1="1613.4" y1="390" x2="1617.8" y2="390" stroke="#454545" stroke-width="4.6" stroke-linecap="round"/>
<line x1="1702" y1="265" x2="1702" y2="265" stroke="#454545" stroke-width="7"/><line x1="1700" y1="265" x2="1704" y2="265" stroke="#454545" stroke-width="7" stroke-linecap="round"/><line x1="1700" y1="265" x2="1704" y2="265" stroke="#454545" stroke-width="7" stroke-linecap="round"/>
<line x1="1789.6" y1="183" x2="1789.6" y2="219.3" stroke="#454545" stroke-width="4.8"/><line x1="1787.25" y1="183" x2="1791.95" y2="183" stroke="#454545" stroke-width="4.8" stroke-linecap="round"/><line x1="1787.25" y1="219.3" x2="1791.95" y2="219.3" stroke="#454545" stroke-width="4.8" stroke-linecap="round"/>
<line x1="1570.5" y1="179.2" x2="1570.5" y2="463.2" stroke="#2b2b2b" stroke-width="5"/>
<line x1="1564.6" y1="460.7" x2="1835" y2="460.7" stroke="#2b2b2b" stroke-width="5"/>
<text x="1558.8" y="471.5" font-size="31.6" fill="#262626" text-anchor="end">0.0</text>
<line x1="1564.6" y1="404.9" x2="1570.5" y2="404.9" stroke="#2b2b2b" stroke-width="5"/>
<text x="1558.8" y="415.7" font-size="31.6" fill="#262626" text-anchor="end">0.2</text>
<line x1="1564.6" y1="349.1" x2="1570.5" y2="349.1" stroke="#2b2b2b" stroke-width="5"/>
<text x="1558.8" y="359.9" font-size="31.6" fill="#262626" text-anchor="end">0.4</text>
<line x1="1564.6" y1="293.3" x2="1570.5" y2="293.3" stroke="#2b2b2b" stroke-width="5"/>
<text x="1558.8" y="304.1" font-size="31.6" fill="#262626" text-anchor="end">0.6</text>
<line x1="1564.6" y1="237.5" x2="1570.5" y2="237.5" stroke="#2b2b2b" stroke-width="5"/>
<text x="1558.8" y="248.3" font-size="31.6" fill="#262626" text-anchor="end">0.8</text>
<line x1="1564.6" y1="181.7" x2="1570.5" y2="181.7" stroke="#2b2b2b" stroke-width="5"/>
<text x="1558.8" y="192.5" font-size="31.6" fill="#262626" text-anchor="end">1.0</text>
<line x1="1615.3" y1="460.7" x2="1615.3" y2="468.3" stroke="#2b2b2b" stroke-width="5"/>
<text transform="translate(1613 516.5) rotate(-30)" font-size="31" fill="#262626" text-anchor="middle" y="11">Non-IMC</text>
<line x1="1702" y1="460.7" x2="1702" y2="468.3" stroke="#2b2b2b" stroke-width="5"/>
<text transform="translate(1700.3 516.5) rotate(-30)" font-size="31" fill="#262626" text-anchor="middle" y="11">Scramble</text>
<line x1="1789.6" y1="460.7" x2="1789.6" y2="468.3" stroke="#2b2b2b" stroke-width="5"/>
<text transform="translate(1781.8 515.5) rotate(-30)" font-size="31" fill="#262626" text-anchor="middle" y="11">IMC</text>
<text x="1789.5" y="180.6" font-size="47" fill="#000" text-anchor="middle">**</text>
</g>
<g id="pD">
<text x="-4.2" y="645.6" font-size="64" fill="#000" font-weight="bold">D</text>
<text x="296.4" y="684.9" font-size="38"><tspan font-weight="bold">pH flashes at IMCs</tspan> (96 hpi)</text>
<text font-size="31.4" fill="#000" text-anchor="middle" font-weight="bold" transform="translate(37 804.6) rotate(-90)">Membrane</text>
<text font-size="31.4" fill="#000" text-anchor="middle" font-weight="bold" transform="translate(74.8 804.6) rotate(-90)">potential</text>
<text font-size="31.4" fill="#000" text-anchor="middle" font-weight="bold" transform="translate(112 804.6) rotate(-90)">(TMRE)</text>
<text font-size="31.6" fill="#000" text-anchor="middle" font-weight="bold" transform="translate(74.6 1004.2) rotate(-90)">Mito pH</text>
<text font-size="31.6" fill="#000" text-anchor="middle" font-weight="bold" transform="translate(112.2 1004.2) rotate(-90)">(SypHer)</text>
<g clip-path="url(#dc00)">
<g filter="url(#fireA)">
<rect x="107.3" y="688.3" width="229.3" height="229.3" fill="#000"/>
<g transform="translate(119.3 700.3)">
<ellipse cx="108.7" cy="3" rx="28" ry="20" fill="#fff" fill-opacity="0.28"/><ellipse cx="108.7" cy="3" rx="17.36" ry="12.4" fill="#fff" fill-opacity="0.2" filter="url(#dS2)"/><path d="M68 76C70 76.25 75 76 80 77.5C85 79 95 83.75 98 85" fill="none" stroke="#fff" stroke-opacity="0.44" stroke-width="22" stroke-linecap="round" stroke-linejoin="round"/><path d="M68 76C70 76.25 75 76 80 77.5C85 79 95 83.75 98 85" fill="none" stroke="#fff" stroke-opacity="0.4" stroke-width="11" stroke-linecap="round" filter="url(#dS1)"/><path d="M132 77 L138 103" fill="none" stroke="#fff" stroke-opacity="0.46" stroke-width="20" stroke-linecap="round" stroke-linejoin="round"/><path d="M132 77 L138 103" fill="none" stroke="#fff" stroke-opacity="0.44" stroke-width="10" stroke-linecap="round" filter="url(#dS1)"/><path d="M136 72 L141.5 59" fill="none" stroke="#fff" stroke-opacity="0.2" stroke-width="4" stroke-linecap="round" stroke-linejoin="round"/><path d="M136 72 L141.5 59" fill="none" stroke="#fff" stroke-opacity="0.13" stroke-width="2" stroke-linecap="round" filter="url(#dS1)"/><ellipse cx="93" cy="121.8" rx="31.5" ry="21.5" fill="#fff" fill-opacity="0.66" transform="rotate(-24 93 121.8)"/><ellipse cx="93" cy="121.8" rx="19.53" ry="13.33" fill="#fff" fill-opacity="1" transform="rotate(-24 93 121.8)" filter="url(#dS3)"/><ellipse cx="95" cy="119" rx="12" ry="7" fill="#fff" fill-opacity="0.66" transform="rotate(-30 95 119)"/><ellipse cx="95" cy="119" rx="12" ry="7" fill="#fff" fill-opacity="1" transform="rotate(-30 95 119)" filter="url(#dS2)"/><ellipse cx="17" cy="193.3" rx="14.5" ry="13.5" fill="#fff" fill-opacity="0.64"/><ellipse cx="17" cy="193.3" rx="8.7" ry="8.1" fill="#fff" fill-opacity="0.92" filter="url(#dS2)"/><ellipse cx="53.7" cy="176" rx="14.5" ry="9.5" fill="#fff" fill-opacity="0.61" transform="rotate(-20 53.7 176)"/><ellipse cx="53.7" cy="176" rx="8.7" ry="5.7" fill="#fff" fill-opacity="0.82" transform="rotate(-20 53.7 176)" filter="url(#dS1)"/><ellipse cx="127" cy="192.5" rx="18" ry="10" fill="#fff" fill-opacity="0.33" transform="rotate(22 127 192.5)"/><ellipse cx="127" cy="192.5" rx="11.16" ry="6.2" fill="#fff" fill-opacity="0.25" transform="rotate(22 127 192.5)" filter="url(#dS1)"/><ellipse cx="202" cy="154.5" rx="14" ry="12" fill="#fff" fill-opacity="0.18"/><ellipse cx="202" cy="154.5" rx="8.68" ry="7.44" fill="#fff" fill-opacity="0.11" filter="url(#dS2)"/>
</g></g>
<g transform="translate(229.3 838.6) rotate(-42.5)"><path d="M0 0 L10.2 10.5 L4.6 10.5 L4.6 36 L-4.6 36 L-4.6 10.5 L-10.2 10.5 Z" fill="#fff"/></g>
<text x="318.4" y="730.7" font-size="31" fill="#fff" text-anchor="end" font-weight="bold">0s</text>
</g>
<g clip-path="url(#dc01)">
<g filter="url(#fireA)">
<rect x="318" y="688.3" width="229.3" height="229.3" fill="#000"/>
<g transform="translate(330 700.3)">
<ellipse cx="107.4" cy="3" rx="28" ry="20" fill="#fff" fill-opacity="0.31"/><ellipse cx="107.4" cy="3" rx="17.36" ry="12.4" fill="#fff" fill-opacity="0.23" filter="url(#dS2)"/><path d="M66 75.5C68.33 75.92 74.83 76.42 80 78C85.17 79.58 94.17 83.83 97 85" fill="none" stroke="#fff" stroke-opacity="0.49" stroke-width="21" stroke-linecap="round" stroke-linejoin="round"/><path d="M66 75.5C68.33 75.92 74.83 76.42 80 78C85.17 79.58 94.17 83.83 97 85" fill="none" stroke="#fff" stroke-opacity="0.49" stroke-width="10.5" stroke-linecap="round" filter="url(#dS1)"/><ellipse cx="67.5" cy="75.5" rx="7" ry="6" fill="#fff" fill-opacity="0.59"/><ellipse cx="67.5" cy="75.5" rx="7" ry="6" fill="#fff" fill-opacity="0.75" filter="url(#dS1)"/><path d="M133.5 82 L140 107" fill="none" stroke="#fff" stroke-opacity="0.5" stroke-width="16" stroke-linecap="round" stroke-linejoin="round"/><path d="M133.5 82 L140 107" fill="none" stroke="#fff" stroke-opacity="0.52" stroke-width="8" stroke-linecap="round" filter="url(#dS1)"/><ellipse cx="141" cy="66" rx="5.5" ry="5.5" fill="#fff" fill-opacity="0.28"/><ellipse cx="141" cy="66" rx="3.41" ry="3.41" fill="#fff" fill-opacity="0.2" filter="url(#dS1)"/><ellipse cx="97" cy="119" rx="21" ry="21" fill="#fff" fill-opacity="0.08"/><ellipse cx="97" cy="119" rx="13.02" ry="13.02" fill="#fff" fill-opacity="0.04" filter="url(#dS3)"/><ellipse cx="24.9" cy="193.3" rx="15" ry="13" fill="#fff" fill-opacity="0.51"/><ellipse cx="24.9" cy="193.3" rx="9.3" ry="8.06" fill="#fff" fill-opacity="0.55" filter="url(#dS2)"/><ellipse cx="61.5" cy="177.6" rx="15" ry="10" fill="#fff" fill-opacity="0.66" transform="rotate(-20 61.5 177.6)"/><ellipse cx="61.5" cy="177.6" rx="9" ry="6" fill="#fff" fill-opacity="1" transform="rotate(-20 61.5 177.6)" filter="url(#dS1)"/><ellipse cx="128.3" cy="192.5" rx="18" ry="10" fill="#fff" fill-opacity="0.28" transform="rotate(22 128.3 192.5)"/><ellipse cx="128.3" cy="192.5" rx="11.16" ry="6.2" fill="#fff" fill-opacity="0.2" transform="rotate(22 128.3 192.5)" filter="url(#dS1)"/><ellipse cx="201" cy="157" rx="14" ry="15" fill="#fff" fill-opacity="0.3"/><ellipse cx="201" cy="157" rx="8.68" ry="9.3" fill="#fff" fill-opacity="0.22" filter="url(#dS2)"/>
</g></g>
<g transform="translate(441.3 838.6) rotate(-42.5)"><path d="M0 0 L10.2 10.5 L4.6 10.5 L4.6 36 L-4.6 36 L-4.6 10.5 L-10.2 10.5 Z" fill="#fff"/></g>
<text x="529.1" y="730.7" font-size="31" fill="#fff" text-anchor="end" font-weight="bold">3s</text>
</g>
<g clip-path="url(#dc02)">
<g filter="url(#fireA)">
<rect x="528.6" y="688.3" width="229.3" height="229.3" fill="#000"/>
<g transform="translate(540.6 700.3)">
<ellipse cx="106" cy="3" rx="28" ry="18" fill="#fff" fill-opacity="0.38"/><ellipse cx="106" cy="3" rx="17.36" ry="11.16" fill="#fff" fill-opacity="0.32" filter="url(#dS2)"/><path d="M65 72C67.5 72.5 74.67 73.08 80 75C85.33 76.92 94.17 82.08 97 83.5" fill="none" stroke="#fff" stroke-opacity="0.5" stroke-width="21" stroke-linecap="round" stroke-linejoin="round"/><path d="M65 72C67.5 72.5 74.67 73.08 80 75C85.33 76.92 94.17 82.08 97 83.5" fill="none" stroke="#fff" stroke-opacity="0.52" stroke-width="10.5" stroke-linecap="round" filter="url(#dS1)"/><ellipse cx="93" cy="82" rx="7" ry="5" fill="#fff" fill-opacity="0.59" transform="rotate(20 93 82)"/><ellipse cx="93" cy="82" rx="7" ry="5" fill="#fff" fill-opacity="0.75" transform="rotate(20 93 82)" filter="url(#dS1)"/><path d="M131 83 L138.5 106" fill="none" stroke="#fff" stroke-opacity="0.48" stroke-width="17" stroke-linecap="round" stroke-linejoin="round"/><path d="M131 83 L138.5 106" fill="none" stroke="#fff" stroke-opacity="0.47" stroke-width="8.5" stroke-linecap="round" filter="url(#dS1)"/><ellipse cx="137.5" cy="65.5" rx="8" ry="8" fill="#fff" fill-opacity="0.24"/><ellipse cx="137.5" cy="65.5" rx="4.96" ry="4.96" fill="#fff" fill-opacity="0.16" filter="url(#dS1)"/><path d="M137 70 L134 80" fill="none" stroke="#fff" stroke-opacity="0.24" stroke-width="8" stroke-linecap="round" stroke-linejoin="round"/><path d="M137 70 L134 80" fill="none" stroke="#fff" stroke-opacity="0.16" stroke-width="4" stroke-linecap="round" filter="url(#dS1)"/><ellipse cx="95.6" cy="117.9" rx="26.5" ry="23.5" fill="#fff" fill-opacity="0.24"/><ellipse cx="95.6" cy="117.9" rx="16.43" ry="14.57" fill="#fff" fill-opacity="0.16" filter="url(#dS3)"/><ellipse cx="26.2" cy="196.4" rx="16" ry="15" fill="#fff" fill-opacity="0.59"/><ellipse cx="26.2" cy="196.4" rx="11.2" ry="10.5" fill="#fff" fill-opacity="0.75" filter="url(#dS2)"/><ellipse cx="56.3" cy="180.7" rx="14" ry="9" fill="#fff" fill-opacity="0.37" transform="rotate(-35 56.3 180.7)"/><ellipse cx="56.3" cy="180.7" rx="8.68" ry="5.58" fill="#fff" fill-opacity="0.3" transform="rotate(-35 56.3 180.7)" filter="url(#dS1)"/><path d="M40 190 L50 184" fill="none" stroke="#fff" stroke-opacity="0.26" stroke-width="7" stroke-linecap="round" stroke-linejoin="round"/><path d="M40 190 L50 184" fill="none" stroke="#fff" stroke-opacity="0.18" stroke-width="3.5" stroke-linecap="round" filter="url(#dS1)"/><ellipse cx="138.8" cy="191.2" rx="20" ry="10" fill="#fff" fill-opacity="0.28" transform="rotate(32 138.8 191.2)"/><ellipse cx="138.8" cy="191.2" rx="12.4" ry="6.2" fill="#fff" fill-opacity="0.2" transform="rotate(32 138.8 191.2)" filter="url(#dS1)"/><ellipse cx="201" cy="157" rx="12" ry="14" fill="#fff" fill-opacity="0.31"/><ellipse cx="201" cy="157" rx="7.44" ry="8.68" fill="#fff" fill-opacity="0.23" filter="url(#dS2)"/>
</g></g>
<g transform="translate(653.2 837.8) rotate(-42.5)"><path d="M0 0 L10.2 10.5 L4.6 10.5 L4.6 36 L-4.6 36 L-4.6 10.5 L-10.2 10.5 Z" fill="#fff"/></g>
<text x="739.7" y="730.7" font-size="31" fill="#fff" text-anchor="end" font-weight="bold">6s</text>
</g>
<g clip-path="url(#dc03)">
<g filter="url(#fireA)">
<rect x="739" y="688.3" width="229.3" height="229.3" fill="#000"/>
<g transform="translate(751 700.3)">
<ellipse cx="106.6" cy="5" rx="30" ry="19" fill="#fff" fill-opacity="0.46"/><ellipse cx="106.6" cy="5" rx="18.6" ry="11.78" fill="#fff" fill-opacity="0.44" filter="url(#dS2)"/><path d="M50 87C51.33 85.33 54.33 79.42 58 77C61.67 74.58 67 72.67 72 72.5C77 72.33 83.83 74.42 88 76C92.17 77.58 95.5 81 97 82" fill="none" stroke="#fff" stroke-opacity="0.44" stroke-width="19" stroke-linecap="round" stroke-linejoin="round"/><path d="M50 87C51.33 85.33 54.33 79.42 58 77C61.67 74.58 67 72.67 72 72.5C77 72.33 83.83 74.42 88 76C92.17 77.58 95.5 81 97 82" fill="none" stroke="#fff" stroke-opacity="0.4" stroke-width="9.5" stroke-linecap="round" filter="url(#dS1)"/><ellipse cx="137.5" cy="69.4" rx="9" ry="9" fill="#fff" fill-opacity="0.45"/><ellipse cx="137.5" cy="69.4" rx="5.58" ry="5.58" fill="#fff" fill-opacity="0.42" filter="url(#dS1)"/><path d="M134 98 L144 116" fill="none" stroke="#fff" stroke-opacity="0.41" stroke-width="16" stroke-linecap="round" stroke-linejoin="round"/><path d="M134 98 L144 116" fill="none" stroke="#fff" stroke-opacity="0.36" stroke-width="8" stroke-linecap="round" filter="url(#dS1)"/><path d="M138 78 L136 90" fill="none" stroke="#fff" stroke-opacity="0.2" stroke-width="4" stroke-linecap="round" stroke-linejoin="round"/><path d="M138 78 L136 90" fill="none" stroke="#fff" stroke-opacity="0.13" stroke-width="2" stroke-linecap="round" filter="url(#dS1)"/><ellipse cx="94.8" cy="117.9" rx="29.5" ry="24.5" fill="#fff" fill-opacity="0.46"/><ellipse cx="94.8" cy="117.9" rx="18.29" ry="15.19" fill="#fff" fill-opacity="0.44" filter="url(#dS3)"/><ellipse cx="15" cy="196.4" rx="15" ry="13" fill="#fff" fill-opacity="0.38"/><ellipse cx="15" cy="196.4" rx="9.3" ry="8.06" fill="#fff" fill-opacity="0.32" filter="url(#dS2)"/><ellipse cx="46.4" cy="179.4" rx="15" ry="11" fill="#fff" fill-opacity="0.54" transform="rotate(-15 46.4 179.4)"/><ellipse cx="46.4" cy="179.4" rx="9.3" ry="6.82" fill="#fff" fill-opacity="0.61" transform="rotate(-15 46.4 179.4)" filter="url(#dS1)"/><ellipse cx="135.4" cy="193.8" rx="20" ry="9" fill="#fff" fill-opacity="0.2" transform="rotate(32 135.4 193.8)"/><ellipse cx="135.4" cy="193.8" rx="12.4" ry="5.58" fill="#fff" fill-opacity="0.13" transform="rotate(32 135.4 193.8)" filter="url(#dS1)"/><ellipse cx="205" cy="157" rx="8" ry="12" fill="#fff" fill-opacity="0.2"/><ellipse cx="205" cy="157" rx="4.96" ry="7.44" fill="#fff" fill-opacity="0.13" filter="url(#dS1)"/>
</g></g>
<g transform="translate(864.1 838.6) rotate(-42.5)"><path d="M0 0 L10.2 10.5 L4.6 10.5 L4.6 36 L-4.6 36 L-4.6 10.5 L-10.2 10.5 Z" fill="#fff"/></g>
<text x="950.1" y="730.7" font-size="31" fill="#fff" text-anchor="end" font-weight="bold">12s</text>
</g>
<g clip-path="url(#dc10)">
<g filter="url(#fireB)">
<rect x="107.3" y="900.2" width="229.3" height="229.3" fill="#040404"/>
<g transform="translate(119.3 912.2)">
<ellipse cx="100" cy="40" rx="26" ry="24" fill="#fff" fill-opacity="0.2" filter="url(#dHaze)"/><ellipse cx="50" cy="35" rx="18" ry="30" fill="#fff" fill-opacity="0.2" filter="url(#dHaze)"/><ellipse cx="18" cy="6" rx="18" ry="12" fill="#fff" fill-opacity="0.22" filter="url(#dHaze)"/><ellipse cx="96" cy="120" rx="34" ry="28" fill="#fff" fill-opacity="0.12" filter="url(#dHaze)"/><ellipse cx="125" cy="188" rx="18" ry="13" fill="#fff" fill-opacity="0.27" filter="url(#dHaze)"/><ellipse cx="200" cy="158" rx="13" ry="20" fill="#fff" fill-opacity="0.36" filter="url(#dHaze)"/><ellipse cx="204" cy="78" rx="9" ry="14" fill="#fff" fill-opacity="0.26" filter="url(#dHaze)"/><ellipse cx="165" cy="18" rx="12" ry="5" fill="#fff" fill-opacity="0.18" filter="url(#dHaze)"/><ellipse cx="135" cy="86" rx="12" ry="24" fill="#fff" fill-opacity="0.14" filter="url(#dHaze)"/><ellipse cx="82" cy="78" rx="24" ry="10" fill="#fff" fill-opacity="0.14" filter="url(#dHaze)"/><ellipse cx="30" cy="185" rx="20" ry="14" fill="#fff" fill-opacity="0.14" filter="url(#dHaze)"/><ellipse cx="101" cy="46" rx="23" ry="23" fill="#fff" fill-opacity="0.17"/><ellipse cx="101" cy="46" rx="13.8" ry="13.8" fill="#fff" fill-opacity="0.09" filter="url(#dS3)"/><ellipse cx="106" cy="2" rx="30" ry="21" fill="#fff" fill-opacity="0.64"/><ellipse cx="106" cy="2" rx="18" ry="12.6" fill="#fff" fill-opacity="0.92" filter="url(#dS2)"/><ellipse cx="49.8" cy="33" rx="16" ry="27" fill="#fff" fill-opacity="0.38" transform="rotate(-8 49.8 33)"/><ellipse cx="49.8" cy="33" rx="9.92" ry="16.74" fill="#fff" fill-opacity="0.31" transform="rotate(-8 49.8 33)" filter="url(#dS2)"/><path d="M68 74.5C70.33 75.08 77.33 76.5 82 78C86.67 79.5 93.67 82.58 96 83.5" fill="none" stroke="#fff" stroke-opacity="0.33" stroke-width="16" stroke-linecap="round" stroke-linejoin="round"/><path d="M68 74.5C70.33 75.08 77.33 76.5 82 78C86.67 79.5 93.67 82.58 96 83.5" fill="none" stroke="#fff" stroke-opacity="0.25" stroke-width="8" stroke-linecap="round" filter="url(#dS1)"/><ellipse cx="137.5" cy="63.6" rx="8" ry="8" fill="#fff" fill-opacity="0.33"/><ellipse cx="137.5" cy="63.6" rx="4.96" ry="4.96" fill="#fff" fill-opacity="0.25" filter="url(#dS1)"/><path d="M134 76 L131.5 100" fill="none" stroke="#fff" stroke-opacity="0.32" stroke-width="16" stroke-linecap="round" stroke-linejoin="round"/><path d="M134 76 L131.5 100" fill="none" stroke="#fff" stroke-opacity="0.24" stroke-width="8" stroke-linecap="round" filter="url(#dS1)"/><ellipse cx="95.6" cy="121.3" rx="28.5" ry="19.5" fill="#fff" fill-opacity="0.48" transform="rotate(-25 95.6 121.3)"/><ellipse cx="95.6" cy="121.3" rx="17.67" ry="12.09" fill="#fff" fill-opacity="0.47" transform="rotate(-25 95.6 121.3)" filter="url(#dS2)"/><ellipse cx="18.3" cy="193" rx="15" ry="12" fill="#fff" fill-opacity="0.33"/><ellipse cx="18.3" cy="193" rx="9.3" ry="7.44" fill="#fff" fill-opacity="0.25" filter="url(#dS2)"/><ellipse cx="56.3" cy="175.7" rx="12" ry="8" fill="#fff" fill-opacity="0.33" transform="rotate(-15 56.3 175.7)"/><ellipse cx="56.3" cy="175.7" rx="7.44" ry="4.96" fill="#fff" fill-opacity="0.25" transform="rotate(-15 56.3 175.7)" filter="url(#dS1)"/>
</g></g>
<g transform="translate(229.3 1056.2) rotate(-42.5)"><path d="M0 0 L10.2 10.5 L4.6 10.5 L4.6 36 L-4.6 36 L-4.6 10.5 L-10.2 10.5 Z" fill="#fff"/></g>
</g>
<g clip-path="url(#dc11)">
<g filter="url(#fireB)">
<rect x="318" y="900.2" width="229.3" height="229.3" fill="#040404"/>
<g transform="translate(330 912.2)">
<ellipse cx="100" cy="40" rx="26" ry="24" fill="#fff" fill-opacity="0.2" filter="url(#dHaze)"/><ellipse cx="50" cy="35" rx="18" ry="30" fill="#fff" fill-opacity="0.2" filter="url(#dHaze)"/><ellipse cx="18" cy="6" rx="18" ry="12" fill="#fff" fill-opacity="0.22" filter="url(#dHaze)"/><ellipse cx="96" cy="120" rx="34" ry="28" fill="#fff" fill-opacity="0.12" filter="url(#dHaze)"/><ellipse cx="125" cy="188" rx="18" ry="13" fill="#fff" fill-opacity="0.27" filter="url(#dHaze)"/><ellipse cx="200" cy="158" rx="13" ry="20" fill="#fff" fill-opacity="0.36" filter="url(#dHaze)"/><ellipse cx="204" cy="78" rx="9" ry="14" fill="#fff" fill-opacity="0.26" filter="url(#dHaze)"/><ellipse cx="165" cy="18" rx="12" ry="5" fill="#fff" fill-opacity="0.18" filter="url(#dHaze)"/><ellipse cx="135" cy="86" rx="12" ry="24" fill="#fff" fill-opacity="0.14" filter="url(#dHaze)"/><ellipse cx="82" cy="78" rx="24" ry="10" fill="#fff" fill-opacity="0.14" filter="url(#dHaze)"/><ellipse cx="30" cy="185" rx="20" ry="14" fill="#fff" fill-opacity="0.14" filter="url(#dHaze)"/><ellipse cx="101" cy="46" rx="23" ry="23" fill="#fff" fill-opacity="0.17"/><ellipse cx="101" cy="46" rx="13.8" ry="13.8" fill="#fff" fill-opacity="0.09" filter="url(#dS3)"/><ellipse cx="106" cy="2" rx="30" ry="21" fill="#fff" fill-opacity="0.64"/><ellipse cx="106" cy="2" rx="18" ry="12.6" fill="#fff" fill-opacity="0.92" filter="url(#dS2)"/><ellipse cx="49.8" cy="33" rx="16" ry="27" fill="#fff" fill-opacity="0.38" transform="rotate(-8 49.8 33)"/><ellipse cx="49.8" cy="33" rx="9.92" ry="16.74" fill="#fff" fill-opacity="0.31" transform="rotate(-8 49.8 33)" filter="url(#dS2)"/><path d="M68 74.5C70.33 75.08 77.33 76.5 82 78C86.67 79.5 93.67 82.58 96 83.5" fill="none" stroke="#fff" stroke-opacity="0.33" stroke-width="16" stroke-linecap="round" stroke-linejoin="round"/><path d="M68 74.5C70.33 75.08 77.33 76.5 82 78C86.67 79.5 93.67 82.58 96 83.5" fill="none" stroke="#fff" stroke-opacity="0.25" stroke-width="8" stroke-linecap="round" filter="url(#dS1)"/><ellipse cx="137.5" cy="63.6" rx="8" ry="8" fill="#fff" fill-opacity="0.33"/><ellipse cx="137.5" cy="63.6" rx="4.96" ry="4.96" fill="#fff" fill-opacity="0.25" filter="url(#dS1)"/><path d="M134 76 L131.5 100" fill="none" stroke="#fff" stroke-opacity="0.32" stroke-width="16" stroke-linecap="round" stroke-linejoin="round"/><path d="M134 76 L131.5 100" fill="none" stroke="#fff" stroke-opacity="0.24" stroke-width="8" stroke-linecap="round" filter="url(#dS1)"/><ellipse cx="94.3" cy="120" rx="27" ry="22" fill="#fff" fill-opacity="0.66" transform="rotate(-15 94.3 120)"/><ellipse cx="94.3" cy="120" rx="16.74" ry="13.64" fill="#fff" fill-opacity="1" transform="rotate(-15 94.3 120)" filter="url(#dS3)"/><ellipse cx="94.3" cy="120" rx="10" ry="9" fill="#fff" fill-opacity="0.66"/><ellipse cx="94.3" cy="120" rx="10" ry="9" fill="#fff" fill-opacity="1" filter="url(#dS2)"/><ellipse cx="24" cy="193" rx="15" ry="12" fill="#fff" fill-opacity="0.41"/><ellipse cx="24" cy="193" rx="9.3" ry="7.44" fill="#fff" fill-opacity="0.36" filter="url(#dS2)"/><ellipse cx="60" cy="178" rx="12" ry="8" fill="#fff" fill-opacity="0.33" transform="rotate(-15 60 178)"/><ellipse cx="60" cy="178" rx="7.44" ry="4.96" fill="#fff" fill-opacity="0.25" transform="rotate(-15 60 178)" filter="url(#dS1)"/>
</g></g>
<g transform="translate(441.3 1056.2) rotate(-42.5)"><path d="M0 0 L10.2 10.5 L4.6 10.5 L4.6 36 L-4.6 36 L-4.6 10.5 L-10.2 10.5 Z" fill="#fff"/></g>
</g>
<g clip-path="url(#dc12)">
<g filter="url(#fireB)">
<rect x="528.6" y="900.2" width="229.3" height="229.3" fill="#040404"/>
<g transform="translate(540.6 912.2)">
<ellipse cx="100" cy="40" rx="26" ry="24" fill="#fff" fill-opacity="0.2" filter="url(#dHaze)"/><ellipse cx="50" cy="35" rx="18" ry="30" fill="#fff" fill-opacity="0.2" filter="url(#dHaze)"/><ellipse cx="18" cy="6" rx="18" ry="12" fill="#fff" fill-opacity="0.22" filter="url(#dHaze)"/><ellipse cx="96" cy="120" rx="34" ry="28" fill="#fff" fill-opacity="0.12" filter="url(#dHaze)"/><ellipse cx="125" cy="188" rx="18" ry="13" fill="#fff" fill-opacity="0.27" filter="url(#dHaze)"/><ellipse cx="200" cy="158" rx="13" ry="20" fill="#fff" fill-opacity="0.36" filter="url(#dHaze)"/><ellipse cx="204" cy="78" rx="9" ry="14" fill="#fff" fill-opacity="0.26" filter="url(#dHaze)"/><ellipse cx="165" cy="18" rx="12" ry="5" fill="#fff" fill-opacity="0.18" filter="url(#dHaze)"/><ellipse cx="135" cy="86" rx="12" ry="24" fill="#fff" fill-opacity="0.14" filter="url(#dHaze)"/><ellipse cx="82" cy="78" rx="24" ry="10" fill="#fff" fill-opacity="0.14" filter="url(#dHaze)"/><ellipse cx="30" cy="185" rx="20" ry="14" fill="#fff" fill-opacity="0.14" filter="url(#dHaze)"/><ellipse cx="101" cy="46" rx="23" ry="23" fill="#fff" fill-opacity="0.17"/><ellipse cx="101" cy="46" rx="13.8" ry="13.8" fill="#fff" fill-opacity="0.09" filter="url(#dS3)"/><ellipse cx="106" cy="2" rx="30" ry="21" fill="#fff" fill-opacity="0.64"/><ellipse cx="106" cy="2" rx="18" ry="12.6" fill="#fff" fill-opacity="0.92" filter="url(#dS2)"/><ellipse cx="49.8" cy="33" rx="16" ry="27" fill="#fff" fill-opacity="0.38" transform="rotate(-8 49.8 33)"/><ellipse cx="49.8" cy="33" rx="9.92" ry="16.74" fill="#fff" fill-opacity="0.31" transform="rotate(-8 49.8 33)" filter="url(#dS2)"/><path d="M68 74.5C70.33 75.08 77.33 76.5 82 78C86.67 79.5 93.67 82.58 96 83.5" fill="none" stroke="#fff" stroke-opacity="0.33" stroke-width="16" stroke-linecap="round" stroke-linejoin="round"/><path d="M68 74.5C70.33 75.08 77.33 76.5 82 78C86.67 79.5 93.67 82.58 96 83.5" fill="none" stroke="#fff" stroke-opacity="0.25" stroke-width="8" stroke-linecap="round" filter="url(#dS1)"/><ellipse cx="138" cy="66" rx="7" ry="7" fill="#fff" fill-opacity="0.3"/><ellipse cx="138" cy="66" rx="4.34" ry="4.34" fill="#fff" fill-opacity="0.22" filter="url(#dS1)"/><path d="M131 82 L139 104" fill="none" stroke="#fff" stroke-opacity="0.32" stroke-width="16" stroke-linecap="round" stroke-linejoin="round"/><path d="M131 82 L139 104" fill="none" stroke="#fff" stroke-opacity="0.24" stroke-width="8" stroke-linecap="round" filter="url(#dS1)"/><ellipse cx="95.5" cy="118.5" rx="25" ry="24" fill="#fff" fill-opacity="0.66"/><ellipse cx="95.5" cy="118.5" rx="15.5" ry="14.88" fill="#fff" fill-opacity="1" filter="url(#dS3)"/><ellipse cx="95.5" cy="118.5" rx="10" ry="9" fill="#fff" fill-opacity="0.66"/><ellipse cx="95.5" cy="118.5" rx="10" ry="9" fill="#fff" fill-opacity="1" filter="url(#dS2)"/><ellipse cx="27" cy="193" rx="15" ry="12" fill="#fff" fill-opacity="0.41"/><ellipse cx="27" cy="193" rx="9.3" ry="7.44" fill="#fff" fill-opacity="0.36" filter="url(#dS2)"/><ellipse cx="57" cy="179" rx="12" ry="8" fill="#fff" fill-opacity="0.34" transform="rotate(-15 57 179)"/><ellipse cx="57" cy="179" rx="7.44" ry="4.96" fill="#fff" fill-opacity="0.27" transform="rotate(-15 57 179)" filter="url(#dS1)"/>
</g></g>
<g transform="translate(653.2 1055.2) rotate(-42.5)"><path d="M0 0 L10.2 10.5 L4.6 10.5 L4.6 36 L-4.6 36 L-4.6 10.5 L-10.2 10.5 Z" fill="#fff"/></g>
</g>
<g clip-path="url(#dc13)">
<g filter="url(#fireB)">
<rect x="739" y="900.2" width="229.3" height="229.3" fill="#040404"/>
<g transform="translate(751 912.2)">
<ellipse cx="100" cy="40" rx="26" ry="24" fill="#fff" fill-opacity="0.2" filter="url(#dHaze)"/><ellipse cx="50" cy="35" rx="18" ry="30" fill="#fff" fill-opacity="0.2" filter="url(#dHaze)"/><ellipse cx="18" cy="6" rx="18" ry="12" fill="#fff" fill-opacity="0.22" filter="url(#dHaze)"/><ellipse cx="96" cy="120" rx="34" ry="28" fill="#fff" fill-opacity="0.12" filter="url(#dHaze)"/><ellipse cx="125" cy="188" rx="18" ry="13" fill="#fff" fill-opacity="0.27" filter="url(#dHaze)"/><ellipse cx="200" cy="158" rx="13" ry="20" fill="#fff" fill-opacity="0.36" filter="url(#dHaze)"/><ellipse cx="204" cy="78" rx="9" ry="14" fill="#fff" fill-opacity="0.26" filter="url(#dHaze)"/><ellipse cx="165" cy="18" rx="12" ry="5" fill="#fff" fill-opacity="0.18" filter="url(#dHaze)"/><ellipse cx="135" cy="86" rx="12" ry="24" fill="#fff" fill-opacity="0.14" filter="url(#dHaze)"/><ellipse cx="82" cy="78" rx="24" ry="10" fill="#fff" fill-opacity="0.14" filter="url(#dHaze)"/><ellipse cx="30" cy="185" rx="20" ry="14" fill="#fff" fill-opacity="0.14" filter="url(#dHaze)"/><ellipse cx="101" cy="46" rx="23" ry="23" fill="#fff" fill-opacity="0.17"/><ellipse cx="101" cy="46" rx="13.8" ry="13.8" fill="#fff" fill-opacity="0.09" filter="url(#dS3)"/><ellipse cx="106" cy="2" rx="30" ry="21" fill="#fff" fill-opacity="0.64"/><ellipse cx="106" cy="2" rx="18" ry="12.6" fill="#fff" fill-opacity="0.92" filter="url(#dS2)"/><ellipse cx="49.8" cy="33" rx="16" ry="27" fill="#fff" fill-opacity="0.38" transform="rotate(-8 49.8 33)"/><ellipse cx="49.8" cy="33" rx="9.92" ry="16.74" fill="#fff" fill-opacity="0.31" transform="rotate(-8 49.8 33)" filter="url(#dS2)"/><path d="M68 74.5C70.33 75.08 77.33 76.5 82 78C86.67 79.5 93.67 82.58 96 83.5" fill="none" stroke="#fff" stroke-opacity="0.33" stroke-width="16" stroke-linecap="round" stroke-linejoin="round"/><path d="M68 74.5C70.33 75.08 77.33 76.5 82 78C86.67 79.5 93.67 82.58 96 83.5" fill="none" stroke="#fff" stroke-opacity="0.25" stroke-width="8" stroke-linecap="round" filter="url(#dS1)"/><ellipse cx="137" cy="70" rx="7.5" ry="7.5" fill="#fff" fill-opacity="0.28"/><ellipse cx="137" cy="70" rx="4.65" ry="4.65" fill="#fff" fill-opacity="0.2" filter="url(#dS1)"/><path d="M132 93 L139 110" fill="none" stroke="#fff" stroke-opacity="0.32" stroke-width="16" stroke-linecap="round" stroke-linejoin="round"/><path d="M132 93 L139 110" fill="none" stroke="#fff" stroke-opacity="0.24" stroke-width="8" stroke-linecap="round" filter="url(#dS1)"/><ellipse cx="95.5" cy="117.5" rx="28" ry="22" fill="#fff" fill-opacity="0.57" transform="rotate(-8 95.5 117.5)"/><ellipse cx="95.5" cy="117.5" rx="17.36" ry="13.64" fill="#fff" fill-opacity="0.68" transform="rotate(-8 95.5 117.5)" filter="url(#dS3)"/><ellipse cx="20" cy="193" rx="15" ry="12" fill="#fff" fill-opacity="0.37"/><ellipse cx="20" cy="193" rx="9.3" ry="7.44" fill="#fff" fill-opacity="0.3" filter="url(#dS2)"/><ellipse cx="46" cy="176" rx="12" ry="8" fill="#fff" fill-opacity="0.3" transform="rotate(-15 46 176)"/><ellipse cx="46" cy="176" rx="7.44" ry="4.96" fill="#fff" fill-opacity="0.22" transform="rotate(-15 46 176)" filter="url(#dS1)"/>
</g></g>
<g transform="translate(864.1 1056.2) rotate(-42.5)"><path d="M0 0 L10.2 10.5 L4.6 10.5 L4.6 36 L-4.6 36 L-4.6 10.5 L-10.2 10.5 Z" fill="#fff"/></g>
</g>
</g>
<g id="pE">
<text x="995.4" y="646" font-size="64" fill="#000" font-weight="bold">E</text>
<text x="1487.5" y="637.6" font-size="41" fill="#000" text-anchor="middle" font-weight="bold">Inducible IMC Respiration</text>
<line x1="1103.3" y1="647.2" x2="1854.5" y2="647.2" stroke="#000" stroke-width="4.9"/>
<text x="1309.3" y="688.2" font-size="40" fill="#262626" text-anchor="middle">Basal</text>
<text x="1752.5" y="688.2" font-size="40" fill="#262626" text-anchor="middle">Maximal</text>
<text font-size="37.4" fill="#262626" text-anchor="middle" transform="translate(1052 914.5) rotate(-90)">OCR</text>
<text font-size="37.4" fill="#262626" text-anchor="middle" transform="translate(1093.6 915) rotate(-90)">(pmol/min/ug protein)</text>
<rect x="1170.9" y="851.1" width="61.8" height="270.1" fill="#4f5067" stroke="#000" stroke-width="2.6"/>
<rect x="1232.7" y="859.8" width="61.6" height="261.4" fill="#9aadb2" stroke="#000" stroke-width="2.6"/>
<rect x="1324.2" y="844.9" width="61.5" height="276.3" fill="#4f5067" stroke="#000" stroke-width="2.6"/>
<rect x="1385.7" y="794.5" width="62.2" height="326.7" fill="#9aadb2" stroke="#000" stroke-width="2.6"/>
<circle cx="1201.7" cy="813.2" r="2.6" fill="#9db5ba"/>
<circle cx="1197.3" cy="844.6" r="2.6" fill="#9db5ba"/>
<circle cx="1206.2" cy="843.8" r="2.6" fill="#9db5ba"/>
<circle cx="1201.7" cy="908.6" r="2.6" fill="#9db5ba"/>
<circle cx="1262.7" cy="829.6" r="2.6" fill="#55567a"/>
<circle cx="1262.7" cy="884.6" r="2.6" fill="#55567a"/>
<circle cx="1355" cy="809.6" r="2.6" fill="#9db5ba"/>
<circle cx="1355" cy="818.5" r="2.6" fill="#9db5ba"/>
<circle cx="1355" cy="876.3" r="2.6" fill="#9db5ba"/>
<circle cx="1413.5" cy="785" r="2.6" fill="#55567a"/>
<circle cx="1417" cy="804.5" r="2.6" fill="#55567a"/>
<line x1="1201.7" y1="826.5" x2="1201.7" y2="882.5" stroke="#454545" stroke-width="6.4"/><line x1="1197.9" y1="826.5" x2="1205.5" y2="826.5" stroke="#454545" stroke-width="6.4" stroke-linecap="round"/><line x1="1197.9" y1="882.5" x2="1205.5" y2="882.5" stroke="#454545" stroke-width="6.4" stroke-linecap="round"/>
<line x1="1262.7" y1="844" x2="1262.7" y2="875.5" stroke="#454545" stroke-width="6.4"/><line x1="1258.9" y1="844" x2="1266.5" y2="844" stroke="#454545" stroke-width="6.4" stroke-linecap="round"/><line x1="1258.9" y1="875.5" x2="1266.5" y2="875.5" stroke="#454545" stroke-width="6.4" stroke-linecap="round"/>
<line x1="1355" y1="820.5" x2="1355" y2="867.5" stroke="#454545" stroke-width="6.4"/><line x1="1351.2" y1="820.5" x2="1358.8" y2="820.5" stroke="#454545" stroke-width="6.4" stroke-linecap="round"/><line x1="1351.2" y1="867.5" x2="1358.8" y2="867.5" stroke="#454545" stroke-width="6.4" stroke-linecap="round"/>
<line x1="1416.9" y1="786.3" x2="1416.9" y2="802.5" stroke="#454545" stroke-width="6.4"/><line x1="1413.1" y1="786.3" x2="1420.7" y2="786.3" stroke="#454545" stroke-width="6.4" stroke-linecap="round"/><line x1="1413.1" y1="802.5" x2="1420.7" y2="802.5" stroke="#454545" stroke-width="6.4" stroke-linecap="round"/>
<circle cx="1262.7" cy="850" r="2.3" fill="#55567a"/>
<circle cx="1262.7" cy="868" r="2.3" fill="#55567a"/>
<circle cx="1355" cy="856.4" r="2.3" fill="#9db5ba"/>
<circle cx="1355" cy="863.5" r="2.3" fill="#9db5ba"/>
<circle cx="1415" cy="786" r="2.3" fill="#55567a"/>
<circle cx="1418.5" cy="787" r="2.3" fill="#55567a"/>
<circle cx="1413.5" cy="801.5" r="2.3" fill="#55567a"/>
<circle cx="1418" cy="802.5" r="2.3" fill="#55567a"/>
<line x1="1155.6" y1="704.6" x2="1155.6" y2="1123.7" stroke="#2b2b2b" stroke-width="5"/>
<line x1="1149" y1="1121.2" x2="1466" y2="1121.2" stroke="#2b2b2b" stroke-width="5"/>
<text x="1137" y="1132" font-size="31.6" fill="#262626" text-anchor="end">0</text>
<line x1="1149" y1="1038.4" x2="1155.6" y2="1038.4" stroke="#2b2b2b" stroke-width="5"/>
<text x="1137" y="1049.2" font-size="31.6" fill="#262626" text-anchor="end">2</text>
<line x1="1149" y1="955.6" x2="1155.6" y2="955.6" stroke="#2b2b2b" stroke-width="5"/>
<text x="1137" y="966.4" font-size="31.6" fill="#262626" text-anchor="end">4</text>
<line x1="1149" y1="872.8" x2="1155.6" y2="872.8" stroke="#2b2b2b" stroke-width="5"/>
<text x="1137" y="883.6" font-size="31.6" fill="#262626" text-anchor="end">6</text>
<line x1="1149" y1="790" x2="1155.6" y2="790" stroke="#2b2b2b" stroke-width="5"/>
<text x="1137" y="800.8" font-size="31.6" fill="#262626" text-anchor="end">8</text>
<line x1="1149" y1="707.2" x2="1155.6" y2="707.2" stroke="#2b2b2b" stroke-width="5"/>
<text x="1137" y="718" font-size="31.6" fill="#262626" text-anchor="end">10</text>
<line x1="1232.3" y1="1121.2" x2="1232.3" y2="1128.8" stroke="#2b2b2b" stroke-width="5"/>
<text x="1232.3" y="1155.3" font-size="31.4" fill="#262626" text-anchor="middle">Control</text>
<line x1="1386.2" y1="1121.2" x2="1386.2" y2="1128.8" stroke="#2b2b2b" stroke-width="5"/>
<text x="1386.2" y="1155.3" font-size="31.4" fill="#262626" text-anchor="middle">Tether</text>
<text x="1292.5" y="764.1" font-size="25.6" fill="#7f7f7f" text-anchor="middle">Activated</text>
<text x="1294" y="791.8" font-size="25.6" fill="#7f7f7f" text-anchor="middle">Tether</text>
<line x1="1357.4" y1="765" x2="1385" y2="775.2" stroke="#000" stroke-width="3.6"/>
<g transform="translate(1395.4 779) rotate(20.3)"><path d="M0 0 L-17 -8.2 L-12.5 0 L-17 8.2 Z" fill="#000"/></g>
<text x="1416.8" y="784.8" font-size="47" fill="#000" text-anchor="middle">***</text>
<rect x="1482.6" y="884.8" width="27" height="27" fill="#9aadb2" stroke="#222" stroke-width="2.2"/>
<text font-size="31" fill="#000" transform="translate(1506.8 872.5) rotate(-90)">Rapamycin</text>
<rect x="1482.6" y="1085.8" width="27" height="27" fill="#4f5067" stroke="#222" stroke-width="2.2"/>
<text font-size="31" fill="#000" transform="translate(1506.8 1078.5) rotate(-90)">DMSO</text>
<rect x="1614.1" y="826.4" width="60.9" height="294.8" fill="#4f5067" stroke="#000" stroke-width="2.6"/>
<rect x="1675.1" y="818.4" width="62" height="302.8" fill="#9aadb2" stroke="#000" stroke-width="2.6"/>
<rect x="1768" y="823.4" width="61.7" height="297.8" fill="#4f5067" stroke="#000" stroke-width="2.6"/>
<rect x="1829.8" y="761.5" width="61.5" height="359.7" fill="#9aadb2" stroke="#000" stroke-width="2.6"/>
<circle cx="1644.6" cy="782.9" r="2.6" fill="#9db5ba"/>
<circle cx="1640.2" cy="812.6" r="2.6" fill="#9db5ba"/>
<circle cx="1646.1" cy="816.2" r="2.6" fill="#9db5ba"/>
<circle cx="1644.6" cy="837" r="2.6" fill="#9db5ba"/>
<circle cx="1644.6" cy="884.6" r="2.6" fill="#9db5ba"/>
<circle cx="1703" cy="802" r="2.6" fill="#55567a"/>
<circle cx="1709.5" cy="805" r="2.6" fill="#55567a"/>
<circle cx="1702" cy="836.5" r="2.6" fill="#55567a"/>
<circle cx="1706" cy="840.8" r="2.6" fill="#55567a"/>
<circle cx="1794.3" cy="779" r="2.6" fill="#9db5ba"/>
<circle cx="1798.8" cy="779" r="2.6" fill="#9db5ba"/>
<circle cx="1798.8" cy="860.2" r="2.6" fill="#9db5ba"/>
<circle cx="1857" cy="750.5" r="2.6" fill="#55567a"/>
<circle cx="1862" cy="752" r="2.6" fill="#55567a"/>
<circle cx="1860.4" cy="778" r="2.6" fill="#55567a"/>
<line x1="1644.6" y1="799.5" x2="1644.6" y2="860.5" stroke="#454545" stroke-width="6.4"/><line x1="1640.8" y1="799.5" x2="1648.4" y2="799.5" stroke="#454545" stroke-width="6.4" stroke-linecap="round"/><line x1="1640.8" y1="860.5" x2="1648.4" y2="860.5" stroke="#454545" stroke-width="6.4" stroke-linecap="round"/>
<line x1="1706.2" y1="804.5" x2="1706.2" y2="833.3" stroke="#454545" stroke-width="6.4"/><line x1="1702.4" y1="804.5" x2="1710" y2="804.5" stroke="#454545" stroke-width="6.4" stroke-linecap="round"/><line x1="1702.4" y1="833.3" x2="1710" y2="833.3" stroke="#454545" stroke-width="6.4" stroke-linecap="round"/>
<line x1="1798.8" y1="793.2" x2="1798.8" y2="853.2" stroke="#454545" stroke-width="6.4"/><line x1="1795" y1="793.2" x2="1802.6" y2="793.2" stroke="#454545" stroke-width="6.4" stroke-linecap="round"/><line x1="1795" y1="853.2" x2="1802.6" y2="853.2" stroke="#454545" stroke-width="6.4" stroke-linecap="round"/>
<line x1="1860.4" y1="752.5" x2="1860.4" y2="771.8" stroke="#454545" stroke-width="6.4"/><line x1="1856.6" y1="752.5" x2="1864.2" y2="752.5" stroke="#454545" stroke-width="6.4" stroke-linecap="round"/><line x1="1856.6" y1="771.8" x2="1864.2" y2="771.8" stroke="#454545" stroke-width="6.4" stroke-linecap="round"/>
<circle cx="1794.3" cy="846.5" r="2.3" fill="#9db5ba"/>
<circle cx="1798.8" cy="850.4" r="2.3" fill="#9db5ba"/>
<circle cx="1706.2" cy="812" r="2.3" fill="#55567a"/>
<circle cx="1706.2" cy="826" r="2.3" fill="#55567a"/>
<circle cx="1860.4" cy="758" r="2.3" fill="#55567a"/>
<circle cx="1860.4" cy="766" r="2.3" fill="#55567a"/>
<line x1="1597.9" y1="705.2" x2="1597.9" y2="1123.7" stroke="#2b2b2b" stroke-width="5"/>
<line x1="1590.6" y1="1121.2" x2="1911" y2="1121.2" stroke="#2b2b2b" stroke-width="5"/>
<text x="1580.5" y="1132" font-size="31.6" fill="#262626" text-anchor="end">0</text>
<line x1="1590.6" y1="1052.2" x2="1597.9" y2="1052.2" stroke="#2b2b2b" stroke-width="5"/>
<text x="1580.5" y="1063" font-size="31.6" fill="#262626" text-anchor="end">5</text>
<line x1="1590.6" y1="983.2" x2="1597.9" y2="983.2" stroke="#2b2b2b" stroke-width="5"/>
<text x="1580.5" y="994" font-size="31.6" fill="#262626" text-anchor="end">10</text>
<line x1="1590.6" y1="914.2" x2="1597.9" y2="914.2" stroke="#2b2b2b" stroke-width="5"/>
<text x="1580.5" y="925" font-size="31.6" fill="#262626" text-anchor="end">15</text>
<line x1="1590.6" y1="845.2" x2="1597.9" y2="845.2" stroke="#2b2b2b" stroke-width="5"/>
<text x="1580.5" y="856" font-size="31.6" fill="#262626" text-anchor="end">20</text>
<line x1="1590.6" y1="776.2" x2="1597.9" y2="776.2" stroke="#2b2b2b" stroke-width="5"/>
<text x="1580.5" y="787" font-size="31.6" fill="#262626" text-anchor="end">25</text>
<line x1="1590.6" y1="707.2" x2="1597.9" y2="707.2" stroke="#2b2b2b" stroke-width="5"/>
<text x="1580.5" y="718" font-size="31.6" fill="#262626" text-anchor="end">30</text>
<line x1="1675.5" y1="1121.2" x2="1675.5" y2="1128.8" stroke="#2b2b2b" stroke-width="5"/>
<text x="1675.5" y="1155.3" font-size="31.4" fill="#262626" text-anchor="middle">Control</text>
<line x1="1829.6" y1="1121.2" x2="1829.6" y2="1128.8" stroke="#2b2b2b" stroke-width="5"/>
<text x="1829.6" y="1155.3" font-size="31.4" fill="#262626" text-anchor="middle">Tether</text>
<text x="1860.4" y="752.2" font-size="47" fill="#000" text-anchor="middle">**</text>
</g>
<g id="pF">
<text x="-4.2" y="1194.1" font-size="64" fill="#000" font-weight="bold">F</text>
<text x="514" y="1186.7" font-size="41" fill="#000" text-anchor="middle" font-weight="bold">A375 Melanoma Cells</text>
<line x1="197.3" y1="1194" x2="812.7" y2="1194" stroke="#000" stroke-width="4.9"/>
<text x="303" y="1245" font-size="31.4" fill="#000" text-anchor="middle" font-weight="bold">Mitochondria Polarity</text>
<text x="733.4" y="1245" font-size="31.4" fill="#000" text-anchor="middle" font-weight="bold">3D reconstruction</text>
<g clip-path="url(#fcM)">
<rect x="78.8" y="1261" width="270.6" height="348.6" fill="#020b0d"/>
<g filter="url(#fER)">
<rect x="48.8" y="1231" width="330.6" height="408.6" fill="#000"/>
<path d="M63.1 1437.98C65.4 1412.34 74.83 1430.73 80.36 1427.62C85.88 1424.51 98.31 1417.67 104.52 1414.68C110.74 1411.68 120.52 1408.29 126.97 1405.18C133.41 1402.07 147.56 1395.51 152.86 1391.37C158.15 1387.23 163.22 1379.4 166.67 1374.11C170.12 1368.82 176.91 1357.88 178.75 1351.67C180.59 1345.45 178.41 1332.8 180.48 1327.5C182.55 1322.21 188.76 1314.73 194.29 1311.97C199.81 1309.2 213.85 1308.63 221.91 1306.79C229.96 1304.95 248.95 1296.77 254.71 1298.16C260.46 1299.54 260.92 1312.77 265.06 1317.14C269.21 1321.52 279.56 1330.03 285.78 1330.95C291.99 1331.87 305.92 1326.58 311.67 1324.05C317.43 1321.52 325.25 1315.42 328.93 1311.97C332.62 1308.51 340.67 1301.38 339.29 1298.16C337.91 1294.93 322.26 1291.25 318.58 1287.8C314.89 1284.35 310.75 1275.94 311.67 1272.26C312.59 1268.58 321.8 1263.17 325.48 1260.18C329.16 1257.19 333.77 1251.2 339.29 1249.82C344.81 1248.44 363.23 1218.89 366.91 1249.82C370.59 1280.75 368.75 1448.56 366.91 1481.79C365.07 1515.02 358.85 1494.22 353.1 1499.05C347.35 1503.88 330.89 1512.05 323.75 1518.04C316.62 1524.02 305.34 1537.26 299.59 1543.93C293.83 1550.61 283.59 1561.88 280.6 1568.1C277.61 1574.31 279.45 1585.24 277.15 1590.54C274.84 1595.83 266.79 1603.89 263.34 1607.8C259.88 1611.71 277.95 1618.27 251.25 1619.88C224.55 1621.5 88.18 1644.14 63.1 1619.88C38.01 1595.63 60.79 1463.61 63.1 1437.98Z" fill="#6e6e6e"/>
<ellipse cx="199.47" cy="1585.36" rx="40" ry="22" fill="#fff" fill-opacity="0.5"/>
<ellipse cx="139.05" cy="1540.48" rx="14" ry="26" fill="#fff" fill-opacity="0.5"/>
<ellipse cx="190.84" cy="1537.03" rx="16" ry="18" fill="#fff" fill-opacity="0.35"/>
<ellipse cx="177.03" cy="1480.06" rx="14" ry="12" fill="#fff" fill-opacity="0.4"/>
<ellipse cx="208.1" cy="1389.65" rx="36" ry="22" fill="#fff" fill-opacity="0.25"/>
<ellipse cx="163.22" cy="1393.1" rx="14" ry="12" fill="#fff" fill-opacity="0.3"/>
<ellipse cx="277.15" cy="1418.99" rx="10" ry="10" fill="#fff" fill-opacity="0.4"/>
<ellipse cx="225.36" cy="1516.31" rx="60" ry="40" fill="#fff" fill-opacity="0.15"/>
<ellipse cx="259.88" cy="1481.79" rx="40" ry="30" fill="#fff" fill-opacity="0.12"/>
<ellipse cx="164.08" cy="1547.38" rx="14" ry="21" fill="#000" fill-opacity="1"/>
<ellipse cx="111.43" cy="1526.67" rx="10" ry="30" fill="#000" fill-opacity="0.55"/>
<ellipse cx="189.11" cy="1486.97" rx="6" ry="6" fill="#000" fill-opacity="0.8"/>
<ellipse cx="133.87" cy="1443.81" rx="7" ry="6" fill="#000" fill-opacity="0.7"/>
<ellipse cx="221.91" cy="1512.86" rx="6" ry="6" fill="#000" fill-opacity="0.7"/>
<ellipse cx="173.57" cy="1467.98" rx="6" ry="5" fill="#000" fill-opacity="0.7"/>
<ellipse cx="92.44" cy="1481.79" rx="10" ry="14" fill="#000" fill-opacity="0.5"/>
<ellipse cx="242.62" cy="1447.26" rx="5" ry="4" fill="#000" fill-opacity="0.6"/>
<ellipse cx="244.35" cy="1427.62" rx="7" ry="5" fill="#000" fill-opacity="0.6"/>
<ellipse cx="294.41" cy="1447.26" rx="8" ry="5" fill="#000" fill-opacity="0.5"/>
<ellipse cx="225.36" cy="1324.05" rx="12" ry="8" fill="#000" fill-opacity="0.6"/>
<ellipse cx="334.11" cy="1344.76" rx="8" ry="8" fill="#000" fill-opacity="0.5"/>
</g>
<g filter="url(#fB1)" fill="#f2212a" stroke="#e8262e" stroke-linecap="round" fill-opacity="0.95">
<ellipse cx="226.22" cy="1374.97" rx="4.4" ry="3.8" fill-opacity="1" stroke="none" transform="rotate(-30 226.22 1374.97)"/>
<ellipse cx="246.07" cy="1368.07" rx="2.6" ry="2.6" fill-opacity="0.9" stroke="none" transform="rotate(0 246.07 1368.07)"/>
<ellipse cx="258.16" cy="1360.64" rx="2.4" ry="3.4" fill-opacity="0.9" stroke="none" transform="rotate(20 258.16 1360.64)"/>
<ellipse cx="218.46" cy="1427.1" rx="6" ry="2.8" fill-opacity="0.9" stroke="none" transform="rotate(8 218.46 1427.1)"/>
<ellipse cx="133.01" cy="1412.43" rx="4.2" ry="4.6" fill-opacity="0.7" stroke="none" transform="rotate(0 133.01 1412.43)"/>
<ellipse cx="294.41" cy="1411.74" rx="9.5" ry="2.8" fill-opacity="1" stroke="none" transform="rotate(8 294.41 1411.74)"/>
<ellipse cx="127.83" cy="1464.87" rx="5" ry="3" fill-opacity="0.95" stroke="none" transform="rotate(15 127.83 1464.87)"/>
<ellipse cx="320.65" cy="1488.69" rx="5.5" ry="5" fill-opacity="1" stroke="none" transform="rotate(0 320.65 1488.69)"/>
<ellipse cx="309.08" cy="1518.04" rx="4.5" ry="5" fill-opacity="0.95" stroke="none" transform="rotate(0 309.08 1518.04)"/>
<ellipse cx="287.85" cy="1540.48" rx="6" ry="3.6" fill-opacity="1" stroke="none" transform="rotate(-25 287.85 1540.48)"/>
<ellipse cx="266.79" cy="1559.81" rx="5" ry="7" fill-opacity="1" stroke="none" transform="rotate(30 266.79 1559.81)"/>
<ellipse cx="254.19" cy="1593.3" rx="3.6" ry="3.6" fill-opacity="1" stroke="none" transform="rotate(0 254.19 1593.3)"/>
<ellipse cx="132.49" cy="1566.72" rx="5.5" ry="3" fill-opacity="0.9" stroke="none" transform="rotate(40 132.49 1566.72)"/>
<ellipse cx="215.87" cy="1541.34" rx="7" ry="2.6" fill-opacity="0.9" stroke="none" transform="rotate(50 215.87 1541.34)"/>
<ellipse cx="228.81" cy="1566.37" rx="2" ry="2.6" fill-opacity="0.9" stroke="none" transform="rotate(0 228.81 1566.37)"/>
<ellipse cx="279.22" cy="1442.43" rx="2" ry="2" fill-opacity="0.7" stroke="none" transform="rotate(0 279.22 1442.43)"/>
<ellipse cx="190.84" cy="1403.8" rx="2" ry="1.6" fill-opacity="0.8" stroke="none" transform="rotate(0 190.84 1403.8)"/>
<ellipse cx="263.34" cy="1425.03" rx="1.6" ry="2" fill-opacity="0.7" stroke="none" transform="rotate(0 263.34 1425.03)"/>
<ellipse cx="135.6" cy="1531.85" rx="2.5" ry="3.5" fill-opacity="0.5" stroke="none" transform="rotate(0 135.6 1531.85)"/>
<ellipse cx="183.93" cy="1517.17" rx="2.5" ry="3" fill-opacity="0.8" stroke="none" transform="rotate(0 183.93 1517.17)"/>
<ellipse cx="225.36" cy="1512.86" rx="2" ry="4" fill-opacity="0.8" stroke="none" transform="rotate(20 225.36 1512.86)"/>
<path d="M290.96 1341.31C291.3 1342.75 293.55 1347.64 293.03 1349.94C292.51 1352.24 290.06 1354.03 287.85 1355.12C285.63 1356.21 281.09 1356.27 279.74 1356.5" fill="none" stroke-width="2.8" stroke-opacity="0.9"/>
<path d="M306.49 1349.94C306.35 1351.81 305.77 1359.29 305.63 1361.16" fill="none" stroke-width="2.2" stroke-opacity="0.8"/>
<path d="M301.31 1337.86C303.62 1335.99 312.82 1328.51 315.12 1326.64" fill="none" stroke-width="1.2" stroke-opacity="0.5"/>
<path d="M169.26 1368.93C170.03 1370.94 174.29 1376.99 173.92 1381.01C173.54 1385.04 168.16 1391.08 167.01 1393.1" fill="none" stroke-width="1.5" stroke-opacity="0.7"/>
<path d="M144.23 1423.31C146.24 1424.89 154.3 1431.22 156.31 1432.8" fill="none" stroke-width="2.4" stroke-opacity="0.8"/>
<path d="M218.46 1470.57C221.33 1470.48 230.11 1468.7 235.72 1470.05C241.33 1471.4 249.38 1477.24 252.12 1478.68" fill="none" stroke-width="1.6" stroke-opacity="0.7"/>
<path d="M177.03 1526.67C177.6 1529.55 179.1 1538.46 180.48 1543.93C181.86 1549.4 184.51 1556.88 185.31 1559.47" fill="none" stroke-width="2.2" stroke-opacity="0.8"/>
<path d="M204.65 1530.12C207.23 1533.29 215.87 1543.93 220.18 1549.11C224.5 1554.29 228.81 1559.18 230.54 1561.19" fill="none" stroke-width="1.6" stroke-opacity="0.7"/>
<path d="M261.61 1530.12C263.19 1531.85 267.51 1540.19 271.1 1540.48C274.7 1540.77 281.17 1533.29 283.19 1531.85" fill="none" stroke-width="2" stroke-opacity="0.8"/>
<path d="M284.91 1511.13C287.07 1511.56 293.69 1511.56 297.86 1513.72C302.03 1515.88 307.93 1522.35 309.94 1524.08" fill="none" stroke-width="2" stroke-opacity="0.75"/>
<path d="M294.41 1535.3C296.71 1533.43 305.92 1525.95 308.22 1524.08" fill="none" stroke-width="2.6" stroke-opacity="0.8"/>
<path d="M142.5 1562.92C144.23 1564.93 149.26 1571.12 152.86 1575C156.45 1578.89 162.21 1584.35 164.08 1586.22" fill="none" stroke-width="1.8" stroke-opacity="0.75"/>
<path d="M109.7 1557.74C109.88 1560.33 110.57 1570.69 110.74 1573.28" fill="none" stroke-width="2" stroke-opacity="0.7"/>
<path d="M242.62 1566.37C243.77 1569.54 248.38 1582.2 249.53 1585.36" fill="none" stroke-width="1.8" stroke-opacity="0.75"/>
<path d="M325.48 1493.87C326.92 1495.88 332.67 1503.94 334.11 1505.95" fill="none" stroke-width="3" stroke-opacity="0.55"/>
<path d="M333.25 1603.49C336.13 1601.47 347.63 1593.42 350.51 1591.4" fill="none" stroke-width="2.2" stroke-opacity="0.8"/>
<path d="M340.15 1581.91C341.88 1580.33 348.78 1574 350.51 1572.41" fill="none" stroke-width="1.6" stroke-opacity="0.6"/>
<path d="M346.2 1492.14C346.48 1493.01 347.63 1496.46 347.92 1497.32" fill="none" stroke-width="2" stroke-opacity="0.8"/>
<path d="M215 1488.69C216.15 1488.98 220.76 1490.13 221.91 1490.42" fill="none" stroke-width="1.6" stroke-opacity="0.5"/>
<path d="M90.71 1452.44C93.02 1451.29 102.22 1446.69 104.52 1445.54" fill="none" stroke-width="1.2" stroke-opacity="0.4"/>
<path d="M278.87 1382.74C279.74 1381.93 283.19 1378.71 284.05 1377.91" fill="none" stroke-width="1.8" stroke-opacity="0.5"/>
<path d="M292.68 1374.11C294.12 1374.4 299.88 1375.55 301.31 1375.84" fill="none" stroke-width="2.4" stroke-opacity="0.4"/>
<path d="M85.54 1568.1C87.26 1568.53 94.17 1570.26 95.89 1570.69" fill="none" stroke-width="1.4" stroke-opacity="0.5"/>
<path d="M170.12 1590.54C170.41 1591.4 171.56 1594.85 171.85 1595.72" fill="none" stroke-width="1.6" stroke-opacity="0.6"/>
<path d="M87.26 1602.62C88.99 1602.33 95.89 1601.18 97.62 1600.9" fill="none" stroke-width="1.4" stroke-opacity="0.4"/>
<path d="M151.13 1431.73C152 1432.01 155.45 1433.16 156.31 1433.45" fill="none" stroke-width="2" stroke-opacity="0.7"/>
</g>
</g>
<rect x="268" y="1385.3" width="51.1" height="50.6" fill="none" stroke="#fff" stroke-width="2.8" stroke-dasharray="2.9 3.02"/>
<g clip-path="url(#fcZ1)">
<rect x="355.3" y="1261" width="172" height="172.2" fill="#070707"/>
<ellipse cx="387.19" cy="1359.96" rx="52" ry="85" fill="#0a9a9c" fill-opacity="0.62" filter="url(#fB8)"/>
<ellipse cx="440.35" cy="1416.51" rx="60" ry="22" fill="#0a8a8c" fill-opacity="0.3" filter="url(#fB8)"/>
<g filter="url(#fB4)" fill="none" stroke="#14c4c4" stroke-linecap="round" stroke-linejoin="round">
<path d="M354.4 1322.64C357.41 1323.01 367.21 1325.94 372.49 1324.9C377.77 1323.86 381.73 1319.43 386.06 1316.42C390.4 1313.4 394.73 1311.04 398.5 1306.8C402.27 1302.56 405.1 1293.89 408.68 1290.97C412.26 1288.05 416.6 1290.88 419.99 1289.27C423.38 1287.67 424.51 1282.87 429.04 1281.36C433.56 1279.85 444.12 1280.41 447.13 1280.23" stroke-width="14.5" stroke-opacity="0.68"/>
<path d="M354.4 1354.87C357.41 1352.98 367.02 1345.73 372.49 1343.56C377.96 1341.39 382.48 1343.84 387.19 1341.86C391.91 1339.88 397.09 1334.98 400.76 1331.68C404.44 1328.39 407.83 1323.67 409.25 1322.07" stroke-width="14.5" stroke-opacity="0.66"/>
<path d="M383.8 1354.3C384.74 1356.19 388.14 1362.6 389.45 1365.61C390.77 1368.63 391.34 1371.27 391.72 1372.4" stroke-width="17.4" stroke-opacity="0.77"/>
<path d="M391.72 1372.4C389.45 1374.66 383.42 1381.63 378.15 1385.97C372.87 1390.31 363.07 1396.34 360.05 1398.41" stroke-width="18.85" stroke-opacity="0.88"/>
<path d="M392.85 1374.66C391.34 1377.49 388.14 1385.22 383.8 1391.63C379.46 1398.03 369.66 1409.53 366.84 1413.11" stroke-width="14.5" stroke-opacity="0.61"/>
<path d="M366.84 1414.24C370.61 1413.53 381.92 1409 389.45 1409.95C396.99 1410.89 405.48 1416.64 412.07 1419.9C418.67 1423.16 426.21 1427.91 429.04 1429.51" stroke-width="15.95" stroke-opacity="0.66"/>
<path d="M429.04 1429.51C432.81 1427.95 445.06 1421.35 451.66 1420.13C458.25 1418.9 463.91 1423.71 468.62 1422.16C473.33 1420.62 475.22 1414.96 479.93 1410.85C484.64 1406.74 488.79 1399.99 496.9 1397.51C505 1395.02 523.28 1396.19 528.56 1395.92" stroke-width="13.05" stroke-opacity="0.55"/>
<path d="M422.25 1393.89C423.76 1392.94 428.28 1391.06 431.3 1388.23C434.32 1385.4 435.07 1380.28 440.35 1376.92C445.63 1373.57 456.37 1368.48 462.97 1368.1C469.56 1367.72 475.22 1370.93 479.93 1374.66C484.64 1378.39 488.41 1386.54 491.24 1390.49C494.07 1394.45 495.95 1397.09 496.9 1398.41" stroke-width="10.15" stroke-opacity="0.36"/>
<path d="M446 1315.85C448.83 1316.98 458.25 1320 462.97 1322.64C467.68 1325.28 469.56 1331.12 474.28 1331.68C478.99 1332.25 486.72 1327.16 491.24 1326.03C495.76 1324.9 499.72 1325.09 501.42 1324.9" stroke-width="11.6" stroke-opacity="0.36"/>
<path d="M451.66 1280.79C454.48 1279.94 462.97 1274.76 468.62 1275.7C474.28 1276.64 481.82 1281.26 485.59 1286.45C489.36 1291.63 490.3 1303.41 491.24 1306.8" stroke-width="11.6" stroke-opacity="0.31"/>
<path d="M429.04 1393.89C429.42 1396.71 431.3 1405.01 431.3 1410.85C431.3 1416.69 429.42 1425.93 429.04 1428.95" stroke-width="11.6" stroke-opacity="0.39"/>
<path d="M474.28 1405.2C472.39 1408.02 464.85 1419.33 462.97 1422.16" stroke-width="13.05" stroke-opacity="0.5"/>
<path d="M400.76 1306.8C401.33 1309.44 402.08 1318.4 404.16 1322.64C406.23 1326.88 409.06 1330.33 413.2 1332.25C417.35 1334.17 426.4 1333.85 429.04 1334.17" stroke-width="13.05" stroke-opacity="0.5"/>
<path d="M354.4 1267.22C356.47 1266.75 362.69 1264.2 366.84 1264.39C370.98 1264.58 377.2 1267.69 379.28 1268.35" stroke-width="13.05" stroke-opacity="0.44"/>
<path d="M505.94 1263.83C509.71 1264.49 524.79 1267.13 528.56 1267.79" stroke-width="11.6" stroke-opacity="0.28"/>
<path d="M417.73 1288.71C418.48 1290.59 420.37 1295.49 422.25 1300.02C424.14 1304.54 427.91 1313.21 429.04 1315.85" stroke-width="11.6" stroke-opacity="0.39"/>
<path d="M356.66 1300.02C358.92 1301.9 365.7 1308.69 370.23 1311.33C374.75 1313.97 381.54 1315.1 383.8 1315.85" stroke-width="11.6" stroke-opacity="0.39"/>
<path d="M361.18 1376.92C363.44 1375.98 370.23 1372.21 374.75 1371.27C379.28 1370.33 386.06 1371.27 388.32 1371.27" stroke-width="14.5" stroke-opacity="0.61"/>
<path d="M404.16 1370.14C405.67 1372.78 410.19 1382.01 413.2 1385.97C416.22 1389.93 420.74 1392.57 422.25 1393.89" stroke-width="11.6" stroke-opacity="0.33"/>
<path d="M479.93 1342.99C480.87 1345.82 483.7 1352.04 485.59 1359.96C487.47 1367.88 490.3 1385.4 491.24 1390.49" stroke-width="10.15" stroke-opacity="0.24"/>
<path d="M356.66 1428.95C358.35 1426.5 365.14 1416.69 366.84 1414.24" stroke-width="13.05" stroke-opacity="0.44"/>
</g>
<ellipse cx="391.15" cy="1372.17" rx="9" ry="8" fill="#20fff0" fill-opacity="0.9" filter="url(#fB2)"/>
<g filter="url(#fB2)">
<ellipse cx="431.3" cy="1355.66" rx="29" ry="7.6" fill="#de1f22" fill-opacity="0.97" transform="rotate(4 431.3 1355.66)"/>
<ellipse cx="375.88" cy="1281.92" rx="9" ry="26" fill="#a81818" fill-opacity="0.75" transform="rotate(38 375.88 1281.92)"/>
<ellipse cx="398.5" cy="1264.96" rx="9" ry="5" fill="#c05050" fill-opacity="0.8"/>
<ellipse cx="444.87" cy="1270.61" rx="12" ry="6" fill="#7a1010" fill-opacity="0.7"/>
<ellipse cx="508.2" cy="1367.88" rx="26" ry="40" fill="#300404" fill-opacity="0.6"/>
</g>
</g>
<g clip-path="url(#fcZ2)">
<rect x="355.3" y="1438.8" width="172" height="170.8" fill="#010c0d"/>
<ellipse cx="387.19" cy="1537.76" rx="52" ry="85" fill="#0a9a9c" fill-opacity="0.62" filter="url(#fB8)"/>
<ellipse cx="440.35" cy="1594.31" rx="60" ry="22" fill="#0a8a8c" fill-opacity="0.3" filter="url(#fB8)"/>
<g filter="url(#fB4)" fill="none" stroke="#14c4c4" stroke-linecap="round" stroke-linejoin="round">
<path d="M354.4 1500.44C357.41 1500.81 367.21 1503.74 372.49 1502.7C377.77 1501.66 381.73 1497.23 386.06 1494.22C390.4 1491.2 394.73 1488.84 398.5 1484.6C402.27 1480.36 405.1 1471.69 408.68 1468.77C412.26 1465.85 416.6 1468.68 419.99 1467.07C423.38 1465.47 424.51 1460.67 429.04 1459.16C433.56 1457.65 444.12 1458.21 447.13 1458.03" stroke-width="14.5" stroke-opacity="0.68"/>
<path d="M354.4 1532.67C357.41 1530.78 367.02 1523.53 372.49 1521.36C377.96 1519.19 382.48 1521.64 387.19 1519.66C391.91 1517.68 397.09 1512.78 400.76 1509.48C404.44 1506.19 407.83 1501.47 409.25 1499.87" stroke-width="14.5" stroke-opacity="0.66"/>
<path d="M383.8 1532.1C384.74 1533.99 388.14 1540.4 389.45 1543.41C390.77 1546.43 391.34 1549.07 391.72 1550.2" stroke-width="17.4" stroke-opacity="0.77"/>
<path d="M391.72 1550.2C389.45 1552.46 383.42 1559.43 378.15 1563.77C372.87 1568.11 363.07 1574.14 360.05 1576.21" stroke-width="18.85" stroke-opacity="0.88"/>
<path d="M392.85 1552.46C391.34 1555.29 388.14 1563.02 383.8 1569.43C379.46 1575.83 369.66 1587.33 366.84 1590.91" stroke-width="14.5" stroke-opacity="0.61"/>
<path d="M366.84 1592.04C370.61 1591.33 381.92 1586.8 389.45 1587.75C396.99 1588.69 405.48 1594.44 412.07 1597.7C418.67 1600.96 426.21 1605.71 429.04 1607.31" stroke-width="15.95" stroke-opacity="0.66"/>
<path d="M429.04 1607.31C432.81 1605.75 445.06 1599.15 451.66 1597.93C458.25 1596.7 463.91 1601.51 468.62 1599.96C473.33 1598.42 475.22 1592.76 479.93 1588.65C484.64 1584.54 488.79 1577.79 496.9 1575.31C505 1572.82 523.28 1573.99 528.56 1573.72" stroke-width="13.05" stroke-opacity="0.55"/>
<path d="M422.25 1571.69C423.76 1570.74 428.28 1568.86 431.3 1566.03C434.32 1563.2 435.07 1558.08 440.35 1554.72C445.63 1551.37 456.37 1546.28 462.97 1545.9C469.56 1545.52 475.22 1548.73 479.93 1552.46C484.64 1556.19 488.41 1564.34 491.24 1568.29C494.07 1572.25 495.95 1574.89 496.9 1576.21" stroke-width="10.15" stroke-opacity="0.36"/>
<path d="M446 1493.65C448.83 1494.78 458.25 1497.8 462.97 1500.44C467.68 1503.08 469.56 1508.92 474.28 1509.48C478.99 1510.05 486.72 1504.96 491.24 1503.83C495.76 1502.7 499.72 1502.89 501.42 1502.7" stroke-width="11.6" stroke-opacity="0.36"/>
<path d="M451.66 1458.59C454.48 1457.74 462.97 1452.56 468.62 1453.5C474.28 1454.44 481.82 1459.06 485.59 1464.25C489.36 1469.43 490.3 1481.21 491.24 1484.6" stroke-width="11.6" stroke-opacity="0.31"/>
<path d="M429.04 1571.69C429.42 1574.51 431.3 1582.81 431.3 1588.65C431.3 1594.49 429.42 1603.73 429.04 1606.75" stroke-width="11.6" stroke-opacity="0.39"/>
<path d="M474.28 1583C472.39 1585.82 464.85 1597.13 462.97 1599.96" stroke-width="13.05" stroke-opacity="0.5"/>
<path d="M400.76 1484.6C401.33 1487.24 402.08 1496.2 404.16 1500.44C406.23 1504.68 409.06 1508.13 413.2 1510.05C417.35 1511.97 426.4 1511.65 429.04 1511.97" stroke-width="13.05" stroke-opacity="0.5"/>
<path d="M354.4 1445.02C356.47 1444.55 362.69 1442 366.84 1442.19C370.98 1442.38 377.2 1445.49 379.28 1446.15" stroke-width="13.05" stroke-opacity="0.44"/>
<path d="M505.94 1441.63C509.71 1442.29 524.79 1444.93 528.56 1445.59" stroke-width="11.6" stroke-opacity="0.28"/>
<path d="M417.73 1466.51C418.48 1468.39 420.37 1473.29 422.25 1477.82C424.14 1482.34 427.91 1491.01 429.04 1493.65" stroke-width="11.6" stroke-opacity="0.39"/>
<path d="M356.66 1477.82C358.92 1479.7 365.7 1486.49 370.23 1489.13C374.75 1491.77 381.54 1492.9 383.8 1493.65" stroke-width="11.6" stroke-opacity="0.39"/>
<path d="M361.18 1554.72C363.44 1553.78 370.23 1550.01 374.75 1549.07C379.28 1548.13 386.06 1549.07 388.32 1549.07" stroke-width="14.5" stroke-opacity="0.61"/>
<path d="M404.16 1547.94C405.67 1550.58 410.19 1559.81 413.2 1563.77C416.22 1567.73 420.74 1570.37 422.25 1571.69" stroke-width="11.6" stroke-opacity="0.33"/>
<path d="M479.93 1520.79C480.87 1523.62 483.7 1529.84 485.59 1537.76C487.47 1545.68 490.3 1563.2 491.24 1568.29" stroke-width="10.15" stroke-opacity="0.24"/>
<path d="M356.66 1606.75C358.35 1604.3 365.14 1594.49 366.84 1592.04" stroke-width="13.05" stroke-opacity="0.44"/>
</g>
<ellipse cx="391.15" cy="1549.97" rx="9" ry="8" fill="#20fff0" fill-opacity="0.9" filter="url(#fB2)"/>
<g filter="url(#fFire)">
<path d="M416.2 1529.91 L457.97 1527.88 L457.97 1535.88 L416.2 1530.91 Z" fill="#fff" fill-opacity="0.64" stroke="#fff" stroke-opacity="0.64" stroke-width="9" stroke-linejoin="round"/>
<ellipse cx="451.66" cy="1531.76" rx="13" ry="6" fill="#fff" fill-opacity="0.8" filter="url(#fB1)"/>
<ellipse cx="451.66" cy="1531.76" rx="5" ry="4" fill="#fff" filter="url(#fB1)"/>
<path d="M367.97 1475.56 L383.8 1452.94" stroke="#fff" stroke-opacity="0.3" stroke-width="9" stroke-linecap="round" fill="none"/>
<ellipse cx="399.63" cy="1441.06" rx="12" ry="6.5" fill="#fff" fill-opacity="0.36"/>
<ellipse cx="399.63" cy="1440.06" rx="7" ry="3.5" fill="#fff" fill-opacity="0.5"/>
</g>
</g>
<rect x="562.5" y="1262" width="343" height="347.8" fill="#000"/>
<g clip-path="url(#fcT)">
<g filter="url(#fB4)" fill="#22c8a8">
<path d="M612.86 1375C612.86 1367.14 613.93 1353.93 617.14 1347.14C620.36 1340.36 625.36 1337.5 632.14 1334.29C638.93 1331.07 649.29 1328.57 657.86 1327.86C666.43 1327.14 675.71 1331.43 683.57 1330C691.43 1328.57 698.21 1321.43 705 1319.29C711.78 1317.14 719.64 1316.07 724.28 1317.14C728.93 1318.21 732.86 1321.79 732.86 1325.71C732.86 1329.64 726.78 1335.36 724.28 1340.71C721.78 1346.07 717.86 1352.86 717.86 1357.86C717.86 1362.86 724.28 1366.43 724.28 1370.71C724.28 1375 721.07 1378.57 717.86 1383.57C714.64 1388.57 707.5 1394.28 705 1400.71C702.5 1407.14 703.57 1416.07 702.86 1422.14C702.14 1428.21 703.93 1433.57 700.71 1437.14C697.5 1440.71 689.28 1441.78 683.57 1443.57C677.86 1445.36 670.71 1449.64 666.43 1447.86C662.14 1446.07 661.43 1437.14 657.86 1432.86C654.29 1428.57 650 1426.07 645 1422.14C640 1418.21 632.5 1413.93 627.86 1409.28C623.21 1404.64 619.64 1400 617.14 1394.28C614.64 1388.57 612.86 1382.86 612.86 1375Z"/>
<path d="M732.86 1325.71C735 1317.86 743.21 1315.71 747.86 1308.57C752.5 1301.43 756.43 1288.75 760.71 1282.86C765 1276.96 768.93 1274.29 773.57 1273.21C778.21 1272.14 784.64 1274.46 788.57 1276.43C792.5 1278.39 792.14 1283.57 797.14 1285C802.14 1286.43 812.5 1283.93 818.57 1285C824.64 1286.07 829.28 1287.5 833.57 1291.43C837.86 1295.36 845 1305 844.28 1308.57C843.57 1312.14 835.36 1312.86 829.28 1312.86C823.21 1312.86 814.64 1308.21 807.86 1308.57C801.07 1308.93 792.86 1312.14 788.57 1315C784.28 1317.86 781.78 1322.14 782.14 1325.71C782.5 1329.29 783.93 1334.64 790.71 1336.43C797.5 1338.21 813.93 1335.71 822.86 1336.43C831.78 1337.14 838.21 1340.71 844.28 1340.71C850.36 1340.71 853.93 1335.36 859.28 1336.43C864.64 1337.5 871.07 1342.14 876.43 1347.14C881.78 1352.14 888.93 1360.36 891.43 1366.43C893.93 1372.5 893.93 1378.93 891.43 1383.57C888.93 1388.21 882.5 1392.86 876.43 1394.28C870.35 1395.71 861.07 1393.93 855 1392.14C848.93 1390.36 845.36 1384.28 840 1383.57C834.64 1382.86 829.28 1387.86 822.86 1387.86C816.43 1387.86 807.5 1385.71 801.43 1383.57C795.36 1381.43 791.78 1377.86 786.43 1375C781.07 1372.14 775.71 1368.93 769.28 1366.43C762.86 1363.93 753.57 1361.78 747.86 1360C742.14 1358.21 737.5 1361.43 735 1355.71C732.5 1350 730.71 1333.57 732.86 1325.71Z"/>
<path d="M822.86 1387.86C827.5 1385.71 834.64 1382.86 840 1383.57C845.36 1384.28 854.28 1387.86 855 1392.14C855.71 1396.43 848.57 1403.57 844.28 1409.28C840 1415 833.93 1420.71 829.28 1426.43C824.64 1432.14 820 1437.86 816.43 1443.57C812.86 1449.28 811.07 1457.5 807.86 1460.71C804.64 1463.93 800 1465 797.14 1462.86C794.28 1460.71 793.21 1451.78 790.71 1447.86C788.21 1443.93 784.28 1442.14 782.14 1439.28C780 1436.43 777.14 1434.28 777.86 1430.71C778.57 1427.14 782.5 1421.43 786.43 1417.86C790.36 1414.28 797.14 1412.86 801.43 1409.28C805.71 1405.71 808.57 1400 812.14 1396.43C815.71 1392.86 818.21 1390 822.86 1387.86Z"/>
<path d="M666.43 1443.57C665.36 1438.93 660 1429.28 655.71 1426.43C651.43 1423.57 645 1424.28 640.71 1426.43C636.43 1428.57 632.68 1433.93 630 1439.28C627.32 1444.64 626.79 1451.78 624.64 1458.57C622.5 1465.36 618.04 1473.93 617.14 1480C616.25 1486.07 617.14 1490.36 619.29 1495C621.43 1499.64 627.5 1503.21 630 1507.86C632.5 1512.5 634.64 1517.14 634.29 1522.86C633.93 1528.57 627.86 1536.07 627.86 1542.14C627.86 1548.21 631.43 1552.86 634.29 1559.28C637.14 1565.71 641.07 1573.93 645 1580.71C648.93 1587.5 652.86 1596.07 657.86 1600C662.86 1603.93 670 1606.07 675 1604.28C680 1602.5 685.28 1595.71 687.86 1589.28C690.43 1582.85 690.07 1573.93 690.43 1565.71C690.78 1557.5 691.14 1547.86 690 1540C688.86 1532.14 687.5 1523.93 683.57 1518.57C679.64 1513.21 670.71 1512.5 666.43 1507.86C662.14 1503.21 658.93 1497.14 657.86 1490.71C656.78 1484.28 659.28 1475.36 660 1469.28C660.71 1463.21 661.07 1458.57 662.14 1454.28C663.21 1450 667.5 1448.21 666.43 1443.57Z"/>
</g>
<g filter="url(#fB2)">
<ellipse cx="580.71" cy="1334.71" rx="10" ry="17" fill="#22d0b0" fill-opacity="1" transform="rotate(8 580.71 1334.71)"/>
<ellipse cx="608.57" cy="1307.5" rx="8" ry="5" fill="#1fb89c" fill-opacity="0.9" transform="rotate(-20 608.57 1307.5)"/>
<ellipse cx="587.14" cy="1371.78" rx="5" ry="11" fill="#1fb89c" fill-opacity="0.9" transform="rotate(5 587.14 1371.78)"/>
<ellipse cx="600.43" cy="1421.07" rx="6" ry="18" fill="#22c8a8" fill-opacity="0.95" transform="rotate(-8 600.43 1421.07)"/>
<ellipse cx="848.57" cy="1459.64" rx="9" ry="5" fill="#1a9a84" fill-opacity="0.85" transform="rotate(-35 848.57 1459.64)"/>
<ellipse cx="636.43" cy="1355.71" rx="20" ry="16" fill="#2fe0c0" fill-opacity="0.6" transform="rotate(0 636.43 1355.71)"/>
<ellipse cx="651.43" cy="1469.28" rx="16" ry="30" fill="#2fe0c0" fill-opacity="0.45" transform="rotate(10 651.43 1469.28)"/>
<ellipse cx="655.71" cy="1561.43" rx="18" ry="40" fill="#2fe0c0" fill-opacity="0.45" transform="rotate(-5 655.71 1561.43)"/>
<ellipse cx="872.14" cy="1379.28" rx="20" ry="14" fill="#2fe0c0" fill-opacity="0.5" transform="rotate(0 872.14 1379.28)"/>
<ellipse cx="818.57" cy="1293.57" rx="20" ry="10" fill="#2fe0c0" fill-opacity="0.45" transform="rotate(10 818.57 1293.57)"/>
<ellipse cx="807.86" cy="1439.28" rx="12" ry="18" fill="#2fe0c0" fill-opacity="0.4" transform="rotate(20 807.86 1439.28)"/>
<ellipse cx="724.28" cy="1349.29" rx="7" ry="7" fill="#000" fill-opacity="0.95" transform="rotate(0 724.28 1349.29)"/>
<ellipse cx="801.43" cy="1400.71" rx="10" ry="9" fill="#000" fill-opacity="0.95" transform="rotate(0 801.43 1400.71)"/>
<ellipse cx="649.29" cy="1506.14" rx="11" ry="7" fill="#000" fill-opacity="0.9" transform="rotate(-10 649.29 1506.14)"/>
<ellipse cx="675" cy="1379.28" rx="8" ry="20" fill="#0e7a68" fill-opacity="0.6" transform="rotate(30 675 1379.28)"/>
<ellipse cx="850.71" cy="1362.14" rx="10" ry="6" fill="#0e7a68" fill-opacity="0.5" transform="rotate(20 850.71 1362.14)"/>
<ellipse cx="675" cy="1544.28" rx="7" ry="30" fill="#159a84" fill-opacity="0.45" transform="rotate(0 675 1544.28)"/>
<ellipse cx="636.43" cy="1402.86" rx="12" ry="8" fill="#08403a" fill-opacity="0.7" transform="rotate(30 636.43 1402.86)"/>
<ellipse cx="807.86" cy="1321.43" rx="26" ry="9" fill="#000" fill-opacity="0.75" transform="rotate(8 807.86 1321.43)"/>
<ellipse cx="623.57" cy="1447.86" rx="5" ry="30" fill="#08403a" fill-opacity="0.5" transform="rotate(10 623.57 1447.86)"/>
<ellipse cx="655.71" cy="1319.29" rx="20" ry="4" fill="#8a3018" fill-opacity="0.85" transform="rotate(-8 655.71 1319.29)"/>
<ellipse cx="683.57" cy="1307.5" rx="3" ry="10" fill="#a8d8b8" fill-opacity="0.85" transform="rotate(15 683.57 1307.5)"/>
<ellipse cx="681.43" cy="1319.29" rx="6" ry="4" fill="#98c0a0" fill-opacity="0.7" transform="rotate(0 681.43 1319.29)"/>
<ellipse cx="765" cy="1306" rx="8" ry="7" fill="#e89860" fill-opacity="0.9" transform="rotate(0 765 1306)"/>
<ellipse cx="754.28" cy="1328.93" rx="6" ry="10" fill="#d8d8a0" fill-opacity="0.85" transform="rotate(30 754.28 1328.93)"/>
<ellipse cx="683.57" cy="1606.43" rx="10" ry="5" fill="#7a2a10" fill-opacity="0.9" transform="rotate(-20 683.57 1606.43)"/>
<path d="M627.43 1546.43C627.93 1549.64 628.93 1559.28 630.43 1565.71C631.93 1572.14 635.43 1581.78 636.43 1585" fill="none" stroke="#40f0d0" stroke-width="2.2" stroke-opacity="0.95"/>
<path d="M571.07 1325.71C571.25 1327.5 571.32 1332.5 572.14 1336.43C572.96 1340.36 575.36 1347.14 576 1349.29" fill="none" stroke="#40f0d0" stroke-width="2" stroke-opacity="0.95"/>
<path d="M593.14 1405C593.57 1407.86 594.64 1416.78 595.71 1422.14C596.79 1427.5 598.93 1434.64 599.57 1437.14" fill="none" stroke="#40f0d0" stroke-width="1.6" stroke-opacity="0.9"/>
</g>
<g filter="url(#fB2)">
<path d="M706.07 1400.71C709.21 1394.11 712.68 1385.89 717.86 1380.36C723.03 1374.82 730 1369.11 737.14 1367.5C744.28 1365.89 753.57 1368.03 760.71 1370.71C767.86 1373.39 775.28 1378.57 780 1383.57C784.71 1388.57 788.64 1394.28 789 1400.71C789.36 1407.14 786.14 1416.07 782.14 1422.14C778.14 1428.21 771.43 1433.86 765 1437.14C758.57 1440.43 750.71 1439.89 743.57 1441.86C736.43 1443.82 728.39 1449.36 722.14 1448.93C715.89 1448.5 709.93 1444.11 706.07 1439.28C702.21 1434.46 699 1426.43 699 1420C699 1413.57 702.93 1407.32 706.07 1400.71Z" fill="url(#fOr)"/>
</g>
</g>
<rect x="78.8" y="1614.4" width="448.5" height="96" fill="#000"/>
<rect x="561.3" y="1616.2" width="344.2" height="96.2" fill="#000"/>
<text x="303.2" y="1650.2" font-size="25.3" fill="#fff" text-anchor="middle"><tspan fill="url(#fTM)">TMRE</tspan> (<tspan font-family="'Liberation Serif', serif" font-size="26">Δψ</tspan><tspan font-size="17" dy="4">m</tspan><tspan dy="-4">), </tspan><tspan fill="#ff0000">Mito</tspan> (Mito-BFP), <tspan fill="#00a8ec">ER</tspan></text>
<text x="303.3" y="1679" font-size="25.3" fill="#fff" text-anchor="middle">(GFP-Sec61<tspan font-family="'Liberation Serif', serif" font-size="26">β</tspan>)</text>
<text x="733.5" y="1644.4" font-size="25.3" fill="#fff" text-anchor="middle"><tspan fill="#c00000">Mito</tspan> (OMP25), <tspan fill="#8eaadb">ER</tspan> (mCh-</text>
<text x="733.5" y="1672.4" font-size="25.3" fill="#fff" text-anchor="middle">Sec61<tspan font-family="'Liberation Serif', serif" font-size="26">β</tspan>), <tspan fill="#ffff00">PTPIP51</tspan></text>
<text x="733.5" y="1703.6" font-size="25.3" fill="#fff" text-anchor="middle">(antibody)</text>
</g>
<g id="pG">
<text x="996.6" y="1193.6" font-size="64" fill="#000" font-weight="bold">G</text>
<text x="1443" y="1209.5" font-size="41" fill="#000" text-anchor="middle" font-weight="bold">Melanoma Cell Comparison</text>
<line x1="1132.1" y1="1216.7" x2="1747.5" y2="1216.7" stroke="#000" stroke-width="4.9"/>
<text x="1418" y="1266.7" font-size="40" fill="#262626" text-anchor="middle">% MENC</text>
<text font-size="37.4" fill="#262626" text-anchor="middle" transform="translate(1223.8 1493) rotate(-90)">% Contact</text>
<rect x="1306.6" y="1287.8" width="97.9" height="281.67" fill="#3a3b50"/>
<rect x="1306.6" y="1569.47" width="97.9" height="29.74" fill="#747e92"/>
<rect x="1306.6" y="1599.22" width="97.9" height="100.38" fill="#a8cac8"/>
<rect x="1306.6" y="1287.8" width="97.9" height="411.8" fill="none" stroke="#000" stroke-width="2.6"/>
<line x1="1305.3" y1="1569.47" x2="1405.8" y2="1569.47" stroke="#000" stroke-width="2.6"/>
<line x1="1305.3" y1="1599.22" x2="1405.8" y2="1599.22" stroke="#000" stroke-width="2.6"/>
<rect x="1430.2" y="1287.8" width="98.5" height="147.42" fill="#3a3b50"/>
<rect x="1430.2" y="1435.22" width="98.5" height="66.92" fill="#747e92"/>
<rect x="1430.2" y="1502.14" width="98.5" height="197.46" fill="#a8cac8"/>
<rect x="1430.2" y="1287.8" width="98.5" height="411.8" fill="none" stroke="#000" stroke-width="2.6"/>
<line x1="1428.9" y1="1435.22" x2="1530" y2="1435.22" stroke="#000" stroke-width="2.6"/>
<line x1="1428.9" y1="1502.14" x2="1530" y2="1502.14" stroke="#000" stroke-width="2.6"/>
<line x1="1294.4" y1="1284" x2="1294.4" y2="1702.1" stroke="#2b2b2b" stroke-width="5"/>
<line x1="1288" y1="1699.6" x2="1542.7" y2="1699.6" stroke="#2b2b2b" stroke-width="5"/>
<text x="1283.6" y="1710.4" font-size="31.6" fill="#262626" text-anchor="end">0</text>
<line x1="1288" y1="1616.98" x2="1294.4" y2="1616.98" stroke="#2b2b2b" stroke-width="5"/>
<text x="1283.6" y="1627.78" font-size="31.6" fill="#262626" text-anchor="end">20</text>
<line x1="1288" y1="1534.36" x2="1294.4" y2="1534.36" stroke="#2b2b2b" stroke-width="5"/>
<text x="1283.6" y="1545.16" font-size="31.6" fill="#262626" text-anchor="end">40</text>
<line x1="1288" y1="1451.74" x2="1294.4" y2="1451.74" stroke="#2b2b2b" stroke-width="5"/>
<text x="1283.6" y="1462.54" font-size="31.6" fill="#262626" text-anchor="end">60</text>
<line x1="1288" y1="1369.12" x2="1294.4" y2="1369.12" stroke="#2b2b2b" stroke-width="5"/>
<text x="1283.6" y="1379.92" font-size="31.6" fill="#262626" text-anchor="end">80</text>
<line x1="1288" y1="1286.5" x2="1294.4" y2="1286.5" stroke="#2b2b2b" stroke-width="5"/>
<text x="1283.6" y="1297.3" font-size="31.6" fill="#262626" text-anchor="end">100</text>
<line x1="1355.3" y1="1699.6" x2="1355.3" y2="1707.2" stroke="#2b2b2b" stroke-width="5"/>
<text x="1355.3" y="1733.2" font-size="31" fill="#262626" text-anchor="middle">HTB-140</text>
<line x1="1478.9" y1="1699.6" x2="1478.9" y2="1707.2" stroke="#2b2b2b" stroke-width="5"/>
<text x="1478.9" y="1733.2" font-size="31" fill="#262626" text-anchor="middle">A375</text>
<rect x="1586.4" y="1380.5" width="43.2" height="41.3" fill="#2f2f42"/>
<rect x="1586.4" y="1532" width="43.2" height="41.4" fill="#8798a6"/>
<rect x="1586.4" y="1686.6" width="43.2" height="41.6" fill="#b8d3d4"/>
<text font-size="30.5" fill="#000" transform="translate(1602.3 1368.6) rotate(-90)">Non</text>
<text font-size="30.5" fill="#000" transform="translate(1634.1 1370.6) rotate(-90)">-MENC</text>
<text font-size="30.5" fill="#000" transform="translate(1619.3 1523.5) rotate(-90)">Partial</text>
<text font-size="30.5" fill="#000" transform="translate(1619.3 1680.6) rotate(-90)">MENC</text>
</g>
<g id="pH">
<text x="-4.8" y="1762.5" font-size="64" fill="#000" font-weight="bold">H</text>
<clipPath id="hLM"><path d="M26.43 1797.14C27.56 1793.57 30 1788.75 33.93 1785.71C37.86 1782.68 42.56 1780.95 50 1778.93C57.44 1776.9 67.86 1774.82 78.57 1773.57C89.29 1772.32 102.38 1771.49 114.29 1771.43C126.19 1771.37 138.1 1771.79 150 1773.21C161.9 1774.64 173.81 1777.2 185.71 1780C197.62 1782.8 210.71 1786.43 221.43 1790C232.14 1793.57 240.24 1796.9 250 1801.43C259.76 1805.95 271.67 1811.55 280 1817.14C288.33 1822.74 293.1 1828.1 300 1835C306.9 1841.9 314.29 1849.64 321.43 1858.57C328.57 1867.5 335.12 1878.93 342.86 1888.57C350.6 1898.21 359.76 1908.33 367.86 1916.43C375.95 1924.52 382.74 1931.43 391.43 1937.14C400.12 1942.86 410.48 1947.14 420 1950.71C429.52 1954.29 441.79 1956.31 448.57 1958.57C455.36 1960.83 457.38 1961.43 460.71 1964.29C464.05 1967.14 466.31 1971.43 468.57 1975.71C470.83 1980 472.92 1984.64 474.29 1990C475.65 1995.36 477.26 2002.26 476.79 2007.86C476.31 2013.45 474.7 2019.82 471.43 2023.57C468.15 2027.32 464.29 2029.23 457.14 2030.36C450 2031.49 439.29 2031.67 428.57 2030.36C417.86 2029.05 401.43 2024.58 392.86 2022.5C384.29 2020.42 384.52 2020.77 377.14 2017.86C369.76 2014.94 358.1 2010.48 348.57 2005C339.05 1999.52 329.52 1992.86 320 1985C310.48 1977.14 300.95 1967.02 291.43 1957.86C281.9 1948.69 270.36 1936.67 262.86 1930C255.36 1923.33 251.25 1921.79 246.43 1917.86C241.61 1913.93 238.69 1911.19 233.93 1906.43C229.17 1901.67 224.11 1895.95 217.86 1889.29C211.61 1882.62 204.17 1872.62 196.43 1866.43C188.69 1860.24 183.93 1856.43 171.43 1852.14C158.93 1847.86 140.48 1844.64 121.43 1840.71C102.38 1836.79 71.43 1832.5 57.14 1828.57C42.86 1824.64 40.71 1820.71 35.71 1817.14C30.71 1813.57 28.69 1810.48 27.14 1807.14C25.6 1803.81 25.3 1800.71 26.43 1797.14Z"/></clipPath>
<path d="M26.43 1797.14C27.56 1793.57 30 1788.75 33.93 1785.71C37.86 1782.68 42.56 1780.95 50 1778.93C57.44 1776.9 67.86 1774.82 78.57 1773.57C89.29 1772.32 102.38 1771.49 114.29 1771.43C126.19 1771.37 138.1 1771.79 150 1773.21C161.9 1774.64 173.81 1777.2 185.71 1780C197.62 1782.8 210.71 1786.43 221.43 1790C232.14 1793.57 240.24 1796.9 250 1801.43C259.76 1805.95 271.67 1811.55 280 1817.14C288.33 1822.74 293.1 1828.1 300 1835C306.9 1841.9 314.29 1849.64 321.43 1858.57C328.57 1867.5 335.12 1878.93 342.86 1888.57C350.6 1898.21 359.76 1908.33 367.86 1916.43C375.95 1924.52 382.74 1931.43 391.43 1937.14C400.12 1942.86 410.48 1947.14 420 1950.71C429.52 1954.29 441.79 1956.31 448.57 1958.57C455.36 1960.83 457.38 1961.43 460.71 1964.29C464.05 1967.14 466.31 1971.43 468.57 1975.71C470.83 1980 472.92 1984.64 474.29 1990C475.65 1995.36 477.26 2002.26 476.79 2007.86C476.31 2013.45 474.7 2019.82 471.43 2023.57C468.15 2027.32 464.29 2029.23 457.14 2030.36C450 2031.49 439.29 2031.67 428.57 2030.36C417.86 2029.05 401.43 2024.58 392.86 2022.5C384.29 2020.42 384.52 2020.77 377.14 2017.86C369.76 2014.94 358.1 2010.48 348.57 2005C339.05 1999.52 329.52 1992.86 320 1985C310.48 1977.14 300.95 1967.02 291.43 1957.86C281.9 1948.69 270.36 1936.67 262.86 1930C255.36 1923.33 251.25 1921.79 246.43 1917.86C241.61 1913.93 238.69 1911.19 233.93 1906.43C229.17 1901.67 224.11 1895.95 217.86 1889.29C211.61 1882.62 204.17 1872.62 196.43 1866.43C188.69 1860.24 183.93 1856.43 171.43 1852.14C158.93 1847.86 140.48 1844.64 121.43 1840.71C102.38 1836.79 71.43 1832.5 57.14 1828.57C42.86 1824.64 40.71 1820.71 35.71 1817.14C30.71 1813.57 28.69 1810.48 27.14 1807.14C25.6 1803.81 25.3 1800.71 26.43 1797.14Z" fill="#f4b183"/>
<g clip-path="url(#hLM)">
<g fill="none" stroke="#c55a11" stroke-width="4.4" stroke-linecap="round" stroke-linejoin="round">
<path d="M56.33 1777.74C55.17 1779.53 51.95 1784.18 49.39 1788.47C46.82 1792.75 42.34 1800.97 40.93 1803.47" stroke-width="6.38"/>
<path d="M39.28 1818.85C40.07 1816.14 41.67 1807.89 44.03 1802.57C46.38 1797.25 51.83 1789.55 53.39 1786.95" stroke-width="5.35"/>
<path d="M83.95 1773.25C81.68 1776.86 74.24 1787.23 70.33 1794.91C66.42 1802.59 62.12 1815.27 60.48 1819.34" stroke-width="6.58"/>
<path d="M60.38 1829C62.72 1825.12 70.52 1812.73 74.4 1805.73C78.28 1798.73 82.12 1790.12 83.66 1787" stroke-width="7.09"/>
<path d="M112.77 1771.69C111.29 1775.56 106.54 1787.68 103.9 1794.89C101.27 1802.09 98.11 1811.59 96.96 1814.93" stroke-width="5.6"/>
<path d="M88.68 1834.53C90.77 1830.29 97.11 1816.83 101.2 1809.07C105.3 1801.32 111.24 1791.51 113.25 1787.99" stroke-width="5.33"/>
<path d="M149.77 1773.5C147.45 1777.72 140.16 1790.53 135.82 1798.83C131.48 1807.13 125.74 1819.22 123.73 1823.3" stroke-width="6.2"/>
<path d="M112.78 1839.08C115.06 1834.69 121.48 1821.66 126.48 1812.76C131.47 1803.86 140.02 1790.2 142.73 1785.69" stroke-width="6.36"/>
<path d="M182.38 1779.39C180.61 1783.12 176.11 1793.65 171.78 1801.73C167.44 1809.81 158.94 1823.52 156.37 1827.88" stroke-width="6.12"/>
<path d="M156.99 1848.84C158.17 1844.53 160.96 1831.86 164.09 1822.96C167.23 1814.05 173.85 1799.98 175.81 1795.39" stroke-width="6.88"/>
<path d="M216.97 1788.75C214.74 1792.89 208.36 1805.48 203.57 1813.6C198.77 1821.73 190.77 1833.52 188.21 1837.51" stroke-width="6.48"/>
<path d="M176.86 1855.26C179.63 1850.56 187.92 1836.72 193.52 1827.05C199.11 1817.37 207.61 1802.17 210.43 1797.2" stroke-width="5.33"/>
<path d="M244.02 1799.06C241.39 1804.43 234.03 1820.2 228.22 1831.3C222.42 1842.41 212.37 1859.97 209.2 1865.7" stroke-width="6.05"/>
<path d="M212.26 1883.31C213.93 1877.62 218.38 1859.89 222.28 1849.14C226.17 1838.39 233.4 1823.86 235.62 1818.8" stroke-width="5.33"/>
<path d="M268.26 1810.99C265.89 1816.73 258.59 1834.57 254.03 1845.43C249.46 1856.28 243.08 1871.03 240.89 1876.15" stroke-width="5.38"/>
<path d="M229.32 1901.51C232.84 1895.62 243.93 1878.56 250.44 1866.18C256.95 1853.8 265.39 1833.7 268.38 1827.21" stroke-width="5.81"/>
<path d="M294.91 1830.46C292.16 1836.62 284.68 1854.55 278.42 1867.47C272.16 1880.39 260.87 1901.23 257.36 1907.98" stroke-width="5.59"/>
<path d="M253.53 1923.11C256.28 1917.02 264.68 1898.36 270.03 1886.58C275.38 1874.79 283.04 1858.11 285.64 1852.42" stroke-width="5.21"/>
<path d="M314.44 1850.89C312.06 1856.82 305.67 1874.92 300.15 1886.46C294.63 1898 284.46 1914.52 281.32 1920.13" stroke-width="6.33"/>
<path d="M272.23 1939.14C275.16 1934.69 284.63 1921.81 289.83 1912.45C295.03 1903.09 301.16 1887.88 303.43 1882.96" stroke-width="7.12"/>
<path d="M335.59 1878.4C332.84 1883.78 323.91 1900.12 319.06 1910.65C314.21 1921.17 308.59 1936.4 306.5 1941.55" stroke-width="5.34"/>
<path d="M298.44 1964.52C300.42 1959.09 306.08 1942.06 310.3 1931.96C314.52 1921.85 321.52 1908.55 323.76 1903.87" stroke-width="5.2"/>
<path d="M348.11 1894.41C345.71 1900.06 337.72 1917.6 333.72 1928.26C329.71 1938.92 325.68 1953.35 324.07 1958.37" stroke-width="6.55"/>
<path d="M316.18 1981.37C318.18 1975.9 323.97 1958.84 328.2 1948.52C332.44 1938.2 339.36 1924.3 341.59 1919.45" stroke-width="7.07"/>
<path d="M373.8 1921.65C371.27 1926.24 362.97 1939.34 358.59 1949.17C354.21 1959.01 349.36 1975.42 347.52 1980.67" stroke-width="5.95"/>
<path d="M335.8 1996.06C337.73 1992.23 342.72 1981.5 347.38 1973.09C352.03 1964.69 361 1950.2 363.72 1945.62" stroke-width="6.36"/>
<path d="M394.89 1938.79C393.08 1943.19 387.69 1957.2 384.01 1965.21C380.34 1973.22 374.71 1983.24 372.85 1986.84" stroke-width="7.1"/>
<path d="M368.78 2014.1C370.23 2009.73 374 1997.07 377.44 1987.88C380.89 1978.69 387.44 1963.76 389.43 1958.94" stroke-width="6.37"/>
<path d="M423.88 1951.72C422.46 1956.34 418.73 1971 415.38 1979.42C412.03 1987.85 405.7 1998.46 403.76 2002.27" stroke-width="7.08"/>
<path d="M394.78 2022.84C397.16 2018.15 403.83 2004.11 409.04 1994.7C414.24 1985.29 423.19 1971.1 426.02 1966.38" stroke-width="5.98"/>
<path d="M448.1 1958.75C446.57 1963.18 441.58 1976.8 438.92 1985.34C436.26 1993.88 433.27 2005.89 432.14 2010" stroke-width="7.3"/>
<path d="M419 2028.25C422.24 2023.42 432.73 2008.68 438.46 1999.24C444.19 1989.79 450.89 1976.18 453.38 1971.57" stroke-width="5.69"/>
<path d="M469.54 1978.72C468.68 1982.09 466.3 1992.86 464.36 1998.92C462.43 2004.99 459.01 2012.42 457.94 2015.12" stroke-width="7.05"/>
<path d="M451.3 2030.36C452.43 2027.37 455.14 2018.69 458.1 2012.45C461.05 2006.22 467.22 1996.2 469.04 1992.94" stroke-width="7.2"/>
</g>
<path d="M26.43 1797.14C27.56 1793.57 30 1788.75 33.93 1785.71C37.86 1782.68 42.56 1780.95 50 1778.93C57.44 1776.9 67.86 1774.82 78.57 1773.57C89.29 1772.32 102.38 1771.49 114.29 1771.43C126.19 1771.37 138.1 1771.79 150 1773.21C161.9 1774.64 173.81 1777.2 185.71 1780C197.62 1782.8 210.71 1786.43 221.43 1790C232.14 1793.57 240.24 1796.9 250 1801.43C259.76 1805.95 271.67 1811.55 280 1817.14C288.33 1822.74 293.1 1828.1 300 1835C306.9 1841.9 314.29 1849.64 321.43 1858.57C328.57 1867.5 335.12 1878.93 342.86 1888.57C350.6 1898.21 359.76 1908.33 367.86 1916.43C375.95 1924.52 382.74 1931.43 391.43 1937.14C400.12 1942.86 410.48 1947.14 420 1950.71C429.52 1954.29 441.79 1956.31 448.57 1958.57C455.36 1960.83 457.38 1961.43 460.71 1964.29C464.05 1967.14 466.31 1971.43 468.57 1975.71C470.83 1980 472.92 1984.64 474.29 1990C475.65 1995.36 477.26 2002.26 476.79 2007.86C476.31 2013.45 474.7 2019.82 471.43 2023.57C468.15 2027.32 464.29 2029.23 457.14 2030.36C450 2031.49 439.29 2031.67 428.57 2030.36C417.86 2029.05 401.43 2024.58 392.86 2022.5C384.29 2020.42 384.52 2020.77 377.14 2017.86C369.76 2014.94 358.1 2010.48 348.57 2005C339.05 1999.52 329.52 1992.86 320 1985C310.48 1977.14 300.95 1967.02 291.43 1957.86C281.9 1948.69 270.36 1936.67 262.86 1930C255.36 1923.33 251.25 1921.79 246.43 1917.86C241.61 1913.93 238.69 1911.19 233.93 1906.43C229.17 1901.67 224.11 1895.95 217.86 1889.29C211.61 1882.62 204.17 1872.62 196.43 1866.43C188.69 1860.24 183.93 1856.43 171.43 1852.14C158.93 1847.86 140.48 1844.64 121.43 1840.71C102.38 1836.79 71.43 1832.5 57.14 1828.57C42.86 1824.64 40.71 1820.71 35.71 1817.14C30.71 1813.57 28.69 1810.48 27.14 1807.14C25.6 1803.81 25.3 1800.71 26.43 1797.14Z" fill="none" stroke="#c55a11" stroke-width="29"/>
</g>
<clipPath id="hFR"><path d="M480.36 2002.86C480.06 1996.31 481.25 1988.27 483.93 1982.86C486.61 1977.44 490.77 1973.27 496.43 1970.36C502.08 1967.44 510.12 1965.65 517.86 1965.36C525.6 1965.06 535.12 1966.61 542.86 1968.57C550.6 1970.54 558.63 1973.69 564.29 1977.14C569.94 1980.6 574.4 1984.88 576.79 1989.29C579.17 1993.69 579.94 1998.81 578.57 2003.57C577.2 2008.33 573.93 2013.99 568.57 2017.86C563.21 2021.73 554.29 2024.64 546.43 2026.79C538.57 2028.93 529.17 2030.12 521.43 2030.71C513.69 2031.31 505.95 2031.79 500 2030.36C494.05 2028.93 488.99 2026.73 485.71 2022.14C482.44 2017.56 480.65 2009.4 480.36 2002.86Z"/></clipPath>
<path d="M480.36 2002.86C480.06 1996.31 481.25 1988.27 483.93 1982.86C486.61 1977.44 490.77 1973.27 496.43 1970.36C502.08 1967.44 510.12 1965.65 517.86 1965.36C525.6 1965.06 535.12 1966.61 542.86 1968.57C550.6 1970.54 558.63 1973.69 564.29 1977.14C569.94 1980.6 574.4 1984.88 576.79 1989.29C579.17 1993.69 579.94 1998.81 578.57 2003.57C577.2 2008.33 573.93 2013.99 568.57 2017.86C563.21 2021.73 554.29 2024.64 546.43 2026.79C538.57 2028.93 529.17 2030.12 521.43 2030.71C513.69 2031.31 505.95 2031.79 500 2030.36C494.05 2028.93 488.99 2026.73 485.71 2022.14C482.44 2017.56 480.65 2009.4 480.36 2002.86Z" fill="#f4b183"/>
<g clip-path="url(#hFR)"><g fill="none" stroke="#c55a11" stroke-width="4.2" stroke-linecap="round">
<path d="M500 1971.43C499.7 1975.6 499.11 1989.88 498.21 1996.43C497.32 2002.98 495.24 2008.33 494.64 2010.71"/>
<path d="M510.71 2028.57C511.31 2024.4 512.8 2010.71 514.29 2003.57C515.77 1996.43 518.75 1988.69 519.64 1985.71"/>
<path d="M528.57 1967.86C529.17 1971.43 530.95 1983.33 532.14 1989.29C533.33 1995.24 535.12 2001.19 535.71 2003.57"/>
<path d="M546.43 2026.79C546.73 2023.51 547.32 2012.8 548.21 2007.14C549.11 2001.49 551.19 1995.24 551.79 1992.86"/>
<path d="M562.5 1978.57C562.2 1981.55 561.31 1991.67 560.71 1996.43C560.12 2001.19 559.23 2005.36 558.93 2007.14"/>
</g><path d="M480.36 2002.86C480.06 1996.31 481.25 1988.27 483.93 1982.86C486.61 1977.44 490.77 1973.27 496.43 1970.36C502.08 1967.44 510.12 1965.65 517.86 1965.36C525.6 1965.06 535.12 1966.61 542.86 1968.57C550.6 1970.54 558.63 1973.69 564.29 1977.14C569.94 1980.6 574.4 1984.88 576.79 1989.29C579.17 1993.69 579.94 1998.81 578.57 2003.57C577.2 2008.33 573.93 2013.99 568.57 2017.86C563.21 2021.73 554.29 2024.64 546.43 2026.79C538.57 2028.93 529.17 2030.12 521.43 2030.71C513.69 2031.31 505.95 2031.79 500 2030.36C494.05 2028.93 488.99 2026.73 485.71 2022.14C482.44 2017.56 480.65 2009.4 480.36 2002.86Z" fill="none" stroke="#c55a11" stroke-width="22"/></g>
<path d="M484.29 1974.29C482.44 1976.9 475.48 1984.4 473.21 1990C470.95 1995.6 470.06 2002.02 470.71 2007.86C471.37 2013.69 476.07 2022.14 477.14 2025" fill="none" stroke="#2f5597" stroke-width="10" stroke-linecap="round"/>
<circle cx="316.1" cy="1773.9" r="38" fill="#000"/><text x="316.1" y="1790.7" font-size="48" fill="#fff" text-anchor="middle" font-weight="bold">1</text>
<text x="366" y="1841" font-size="42.2" fill="#000" font-weight="bold">Peripheral</text>
<line x1="365" y1="1847.3" x2="570.5" y2="1847.3" stroke="#000" stroke-width="3.6"/>
<text x="366" y="1889.3" font-size="42.2" fill="#000" font-weight="bold">fission</text>
<line x1="365" y1="1895.6" x2="500.5" y2="1895.6" stroke="#000" stroke-width="3.6"/>
<text x="100" y="1898.2" font-size="42.2" fill="#000" text-anchor="middle">HCMV</text>
<text x="100.3" y="1948.2" font-size="42.2" fill="#000" text-anchor="middle">infection</text>
<line x1="83.34" y1="1980.76" x2="77" y2="1961.26" stroke="#000" stroke-width="2.6"/>
<circle cx="77" cy="1961.26" r="4.7" fill="#000"/>
<line x1="108.06" y1="1980.76" x2="114.4" y2="1961.26" stroke="#000" stroke-width="2.6"/>
<circle cx="114.4" cy="1961.26" r="4.7" fill="#000"/>
<line x1="128.06" y1="1995.29" x2="144.65" y2="1983.24" stroke="#000" stroke-width="2.6"/>
<circle cx="144.65" cy="1983.24" r="4.7" fill="#000"/>
<line x1="135.7" y1="2018.8" x2="156.2" y2="2018.8" stroke="#000" stroke-width="2.6"/>
<circle cx="156.2" cy="2018.8" r="4.7" fill="#000"/>
<line x1="128.06" y1="2042.31" x2="144.65" y2="2054.36" stroke="#000" stroke-width="2.6"/>
<circle cx="144.65" cy="2054.36" r="4.7" fill="#000"/>
<line x1="108.06" y1="2056.84" x2="114.4" y2="2076.34" stroke="#000" stroke-width="2.6"/>
<circle cx="114.4" cy="2076.34" r="4.7" fill="#000"/>
<line x1="83.34" y1="2056.84" x2="77" y2="2076.34" stroke="#000" stroke-width="2.6"/>
<circle cx="77" cy="2076.34" r="4.7" fill="#000"/>
<line x1="63.34" y1="2042.31" x2="46.75" y2="2054.36" stroke="#000" stroke-width="2.6"/>
<circle cx="46.75" cy="2054.36" r="4.7" fill="#000"/>
<line x1="55.7" y1="2018.8" x2="35.2" y2="2018.8" stroke="#000" stroke-width="2.6"/>
<circle cx="35.2" cy="2018.8" r="4.7" fill="#000"/>
<line x1="63.34" y1="1995.29" x2="46.75" y2="1983.24" stroke="#000" stroke-width="2.6"/>
<circle cx="46.75" cy="1983.24" r="4.7" fill="#000"/>
<circle cx="95.7" cy="2018.8" r="41.3" fill="#999" stroke="#000" stroke-width="3.4"/>
<path d="M75 1990.3 L107.1 1985.8 L128.6 2011.6 L117.9 2043.7 L83.9 2047.2 L64.3 2023.4 Z" fill="#d9d9d9" stroke="#000" stroke-width="3.6" stroke-linejoin="miter"/>
<path d="M82.86 2007.14C83.71 2011.07 85.57 2021.64 87.14 2026.79C88.71 2031.93 89.57 2034.64 90.71 2032.86C91.86 2031.07 92.14 2023.71 92.86 2017.86C93.57 2012 93.14 2002.5 94.29 2003.57C95.43 2004.64 96.93 2017.79 98.57 2023.21C100.21 2028.64 101.5 2032.5 102.5 2030.71C103.5 2028.93 103.21 2020 103.57 2014.29C103.93 2008.57 103.29 2001.07 104.29 2002.14C105.29 2003.21 107.14 2014.64 108.57 2019.64C110 2024.64 110.86 2025.64 111.43 2027.14" fill="none" stroke="#000" stroke-width="1.4" stroke-linecap="round"/>
<circle cx="86.79" cy="1984.64" r="2.4" fill="#2a2a2a"/>
<circle cx="100.71" cy="1981.43" r="2.4" fill="#2a2a2a"/>
<circle cx="121.43" cy="1993.93" r="2.4" fill="#2a2a2a"/>
<circle cx="130.36" cy="2023.21" r="2.4" fill="#2a2a2a"/>
<circle cx="122.14" cy="2040" r="2.4" fill="#2a2a2a"/>
<circle cx="105.71" cy="2051.43" r="2.4" fill="#2a2a2a"/>
<circle cx="71.43" cy="2039.29" r="2.4" fill="#2a2a2a"/>
<circle cx="66.43" cy="2035" r="2.4" fill="#2a2a2a"/>
<circle cx="63.57" cy="2003.57" r="2.4" fill="#2a2a2a"/>
<text x="191" y="2139.3" font-size="42.2" fill="#000">pUL37x1</text>
<text x="498" y="2156.4" font-size="42.2" fill="#000">Fusion</text>
<path d="M462 2111.2 L481.6 2111.2 L481.6 2179.4 L493.05 2179.4 L471.8 2200.4 L450.55 2179.4 L462 2179.4 Z" fill="#70ad47" stroke="#3b6127" stroke-width="4.2" stroke-linejoin="miter"/>
<path d="M179 2021.5C182.17 2022.25 191.83 2023.75 198 2026C204.17 2028.25 210.5 2030.83 216 2035C221.5 2039.17 227 2044.83 231 2051C235 2057.17 237.92 2065.17 240 2072C242.08 2078.83 242.92 2088.67 243.5 2092" fill="none" stroke="#000" stroke-width="4" stroke-dasharray="4 3.9"/><path d="M6.02 0 L-5.33 -4.82 L-2.58 0 L-5.33 4.82 Z" fill="#000" transform="translate(243.5 2092) rotate(80.07)"/>
<path d="M345.7 2101C345.83 2097.83 345.78 2087.83 346.5 2082C347.22 2076.17 348.08 2071 350 2066C351.92 2061 355 2056.17 358 2052C361 2047.83 364.92 2043.83 368 2041C371.08 2038.17 375.08 2036 376.5 2035" fill="none" stroke="#000" stroke-width="4" stroke-dasharray="4 3.9"/><path d="M6.02 0 L-5.33 -4.82 L-2.58 0 L-5.33 4.82 Z" fill="#000" transform="translate(376.5 2035) rotate(-35.22)"/>
<path d="M362.5 2141C364.58 2142.08 370.08 2145.75 375 2147.5C379.92 2149.25 386.17 2151 392 2151.5C397.83 2152 404.67 2151.5 410 2150.5C415.33 2149.5 419.83 2147.42 424 2145.5C428.17 2143.58 433.17 2140.08 435 2139" fill="none" stroke="#000" stroke-width="4" stroke-dasharray="4 3.9"/><path d="M6.02 0 L-5.33 -4.82 L-2.58 0 L-5.33 4.82 Z" fill="#000" transform="translate(435 2139) rotate(-30.58)"/>
<path d="M576 1960.5C578.33 1958.75 585 1952.75 590 1950C595 1947.25 600.67 1944.67 606 1944C611.33 1943.33 616.83 1944.17 622 1946C627.17 1947.83 632.33 1951.75 637 1955C641.67 1958.25 647.83 1963.75 650 1965.5" fill="none" stroke="#000" stroke-width="4" stroke-dasharray="4 3.9"/><path d="M6.02 0 L-5.33 -4.82 L-2.58 0 L-5.33 4.82 Z" fill="#000" transform="translate(650 1965.5) rotate(38.93)"/>
<path d="M606.5 2116C609.42 2114.33 618.58 2109.75 624 2106C629.42 2102.25 634.67 2098.17 639 2093.5C643.33 2088.83 647 2083.08 650 2078C653 2072.92 655.83 2065.5 657 2063" fill="none" stroke="#000" stroke-width="4" stroke-dasharray="4 3.9"/><path d="M6.02 0 L-5.33 -4.82 L-2.58 0 L-5.33 4.82 Z" fill="#000" transform="translate(657 2063) rotate(-64.98)"/>
<path d="M931 1955C936.67 1953.75 953.5 1949.75 965 1947.5C976.5 1945.25 984.17 1943.33 1000 1941.5C1015.83 1939.67 1040 1937.17 1060 1936.5C1080 1935.83 1100 1936.08 1120 1937.5C1140 1938.92 1159.92 1941.5 1180 1945C1200.08 1948.5 1230.42 1956.25 1240.5 1958.5" fill="none" stroke="#000" stroke-width="4" stroke-dasharray="4 3.9"/><path d="M6.02 0 L-5.33 -4.82 L-2.58 0 L-5.33 4.82 Z" fill="#000" transform="translate(1240.5 1958.5) rotate(12.58)"/>
<path d="M696.43 1940C697.43 1937.2 704.1 1927.67 710 1923.57C715.9 1919.47 729.57 1913.66 738.57 1910.71C747.57 1907.76 766.79 1903.2 774.29 1902.5C781.79 1901.8 787.14 1903.36 792.14 1905.71C797.14 1908.06 804.5 1915.59 810 1919.29C815.5 1922.99 824.68 1928.04 831.43 1932.14C838.18 1936.24 856.21 1950.62 858.21 1948.57C860.21 1946.52 849.21 1926.1 845.71 1917.5C842.21 1908.9 833.21 1890.79 833.21 1887.14C833.21 1883.49 840.46 1887.83 845.71 1891.43C850.96 1895.03 864.21 1906.86 870.71 1912.86C877.21 1918.86 887.39 1927.89 892.14 1934.29C896.89 1940.69 901.89 1951.67 904.64 1958.57C907.39 1965.47 911.24 1978.07 911.79 1983.57C912.34 1989.07 910.32 1995.26 908.57 1997.86C906.82 2000.46 902.59 2003.04 899.29 2002.14C895.99 2001.24 888.75 1993.73 885 1991.43C881.25 1989.13 875.5 1985.31 872.5 1985.71C869.5 1986.11 865.82 1990.59 863.57 1994.29C861.32 1997.99 858.18 2007.14 856.43 2012.14C854.68 2017.14 852.32 2024.5 851.07 2030C849.82 2035.5 848.75 2046.83 847.5 2051.43C846.25 2056.03 844.39 2060.86 842.14 2062.86C839.89 2064.86 834.93 2065.21 831.43 2065.71C827.93 2066.21 820.64 2065.63 817.14 2066.43C813.64 2067.23 809.43 2069.03 806.43 2071.43C803.43 2073.83 798.71 2080.22 795.71 2083.57C792.71 2086.92 788.25 2093.56 785 2095.36C781.75 2097.16 775.5 2097.28 772.5 2096.43C769.5 2095.58 764.32 2091.79 763.57 2089.29C762.82 2086.79 764.64 2081.87 767.14 2078.57C769.64 2075.27 777.43 2069.41 781.43 2065.71C785.43 2062.01 791.46 2055.89 795.71 2052.14C799.96 2048.39 807.54 2042.53 811.79 2038.93C816.04 2035.33 823.72 2030.68 826.07 2026.43C828.42 2022.18 828.57 2013.82 828.57 2008.57C828.57 2003.32 827.67 1994.68 826.07 1988.93C824.47 1983.18 820.89 1972.65 817.14 1967.5C813.39 1962.35 805.29 1955.79 799.29 1952.14C793.29 1948.49 781.79 1943.63 774.29 1941.43C766.79 1939.23 753.21 1937.03 745.71 1936.43C738.21 1935.83 726.71 1936.14 720.71 1937.14C714.71 1938.14 706.26 1943.17 702.86 1943.57C699.46 1943.97 695.43 1942.8 696.43 1940Z" fill="#8faadc" stroke="#2f5597" stroke-width="1.6"/>
<clipPath id="hRM1"><ellipse cx="735.6" cy="2006.4" rx="72.3" ry="51.8" transform="rotate(-12 735.6 2006.4)"/></clipPath><ellipse cx="735.6" cy="2006.4" rx="86.3" ry="65.8" fill="#c55a11" stroke="#9c4a10" stroke-width="1.2" transform="rotate(-12 735.6 2006.4)"/><ellipse cx="735.6" cy="2006.4" rx="72.3" ry="51.8" fill="#f4b183" transform="rotate(-12 735.6 2006.4)"/><g clip-path="url(#hRM1)" fill="#c55a11" stroke="#9a4a12" stroke-width="0.9" stroke-linejoin="round"><path d="M668.83 1997.15 L670.8 1999.1 L672.73 2001.37 L674.64 2003.96 L676.5 2006.86 L678.33 2010.08 L680.1 2013.62 L681.83 2017.49 L683.51 2021.67 L685.14 2026.17 L686.71 2030.99 L688.22 2036.12 L689.69 2041.57 L691.09 2047.33 L692.45 2053.42 L698.41 2052.3 L697.32 2046.03 L696.13 2040.06 L694.85 2034.39 L693.47 2029.01 L691.99 2023.93 L690.41 2019.15 L688.74 2014.66 L686.96 2010.46 L685.08 2006.55 L683.1 2002.94 L681.01 1999.61 L678.8 1996.59 L676.48 1993.85 L674.03 1991.42Z"/><path d="M714.62 2054.52 L713.28 2048.61 L711.93 2042.75 L710.54 2036.93 L709.11 2031.15 L707.64 2025.43 L706.1 2019.75 L704.51 2014.12 L702.84 2008.55 L701.1 2003.03 L699.28 1997.57 L697.38 1992.17 L695.38 1986.83 L693.29 1981.55 L691.11 1976.33 L690.32 1976.52 L690.79 1982.16 L691.35 1987.81 L692.01 1993.46 L692.76 1999.13 L693.59 2004.82 L694.51 2010.52 L695.49 2016.23 L696.55 2021.97 L697.67 2027.73 L698.85 2033.51 L700.07 2039.32 L701.34 2045.15 L702.64 2051.01 L703.96 2056.91Z"/><path d="M706.67 1959 L707.3 1965.79 L707.98 1972.65 L708.7 1979.56 L709.47 1986.54 L710.29 1993.59 L711.16 2000.7 L712.08 2007.87 L713.06 2015.1 L714.1 2022.39 L715.19 2029.75 L716.34 2037.17 L717.56 2044.65 L718.83 2052.19 L720.17 2059.78 L726.97 2058.79 L726.1 2051.14 L725.24 2043.57 L724.39 2036.07 L723.56 2028.65 L722.73 2021.29 L721.92 2014 L721.13 2006.78 L720.36 1999.62 L719.6 1992.54 L718.87 1985.53 L718.16 1978.58 L717.47 1971.7 L716.82 1964.89 L716.19 1958.14Z"/><path d="M736.69 2045.67 L736.64 2039.98 L736.59 2034.3 L736.54 2028.64 L736.48 2023 L736.39 2017.37 L736.29 2011.75 L736.15 2006.14 L735.98 2000.55 L735.77 1994.96 L735.52 1989.39 L735.22 1983.82 L734.86 1978.26 L734.45 1972.71 L733.98 1967.16 L733.17 1967.12 L732.19 1972.61 L731.31 1978.12 L730.55 1983.66 L729.88 1989.21 L729.3 1994.79 L728.82 2000.39 L728.42 2006 L728.1 2011.63 L727.86 2017.28 L727.69 2022.95 L727.59 2028.63 L727.54 2034.33 L727.55 2040.04 L727.59 2045.76Z"/><path d="M736.68 1954.4 L737.71 1958.48 L738.77 1962.52 L739.87 1966.51 L741.02 1970.45 L742.23 1974.34 L743.51 1978.17 L744.87 1981.95 L746.31 1985.67 L747.84 1989.32 L749.47 1992.91 L751.2 1996.43 L753.03 1999.87 L754.98 2003.25 L757.04 2006.54 L757.82 2006.31 L757.76 2002.43 L757.59 1998.55 L757.32 1994.67 L756.94 1990.8 L756.47 1986.91 L755.91 1983.02 L755.27 1979.12 L754.55 1975.21 L753.76 1971.28 L752.9 1967.33 L751.99 1963.37 L751.04 1959.38 L750.05 1955.36 L749.04 1951.31Z"/><path d="M770.72 2050.15 L770.89 2044.88 L771.07 2039.61 L771.25 2034.35 L771.42 2029.09 L771.58 2023.84 L771.71 2018.58 L771.81 2013.33 L771.87 2008.08 L771.9 2002.83 L771.88 1997.57 L771.81 1992.31 L771.69 1987.04 L771.5 1981.76 L771.26 1976.47 L770.45 1976.38 L769.1 1981.51 L767.86 1986.66 L766.74 1991.84 L765.73 1997.04 L764.83 2002.25 L764.03 2007.49 L763.33 2012.74 L762.73 2018.01 L762.21 2023.29 L761.78 2028.58 L761.42 2033.88 L761.13 2039.19 L760.89 2044.52 L760.71 2049.85Z"/><path d="M776.43 1956.55 L775.67 1962.57 L775.06 1968.58 L774.59 1974.6 L774.26 1980.62 L774.09 1986.64 L774.08 1992.65 L774.21 1998.66 L774.5 2004.67 L774.95 2010.67 L775.56 2016.67 L776.33 2022.66 L777.25 2028.63 L778.34 2034.6 L779.59 2040.55 L785.56 2039.45 L784.78 2033.57 L784.11 2027.69 L783.55 2021.83 L783.1 2015.98 L782.76 2010.14 L782.54 2004.31 L782.43 1998.48 L782.44 1992.66 L782.56 1986.83 L782.8 1981.01 L783.17 1975.19 L783.65 1969.38 L784.26 1963.56 L785 1957.73Z"/><path d="M783.77 1967.42 L784.01 1970.53 L784.32 1973.62 L784.71 1976.66 L785.19 1979.66 L785.76 1982.62 L786.43 1985.53 L787.19 1988.39 L788.06 1991.19 L789.04 1993.93 L790.13 1996.61 L791.33 1999.22 L792.65 2001.75 L794.08 2004.21 L795.62 2006.57 L796.38 2006.29 L796.06 2003.51 L795.73 2000.75 L795.4 1998 L795.06 1995.25 L794.72 1992.5 L794.37 1989.74 L794.02 1986.97 L793.68 1984.18 L793.34 1981.37 L793.02 1978.53 L792.71 1975.67 L792.42 1972.77 L792.17 1969.84 L791.94 1966.87Z"/></g><ellipse cx="735.6" cy="2006.4" rx="72.3" ry="51.8" fill="none" stroke="#9a4a12" stroke-width="1" transform="rotate(-12 735.6 2006.4)"/>
<circle cx="809.29" cy="2031.07" r="18.8" fill="none" stroke="#000" stroke-width="1.5"/>
<line x1="794.3" y1="2042.3" x2="684.8" y2="2321.5" stroke="#000" stroke-width="1.6"/>
<line x1="826" y1="2023.2" x2="975" y2="2198" stroke="#000" stroke-width="1.6"/>
<text x="776.5" y="1853.2" font-size="42.2" fill="#000" text-anchor="middle" font-weight="bold">MENC</text>
<line x1="714.5" y1="1861.2" x2="838.8" y2="1861.2" stroke="#000" stroke-width="4"/>
<circle cx="705.7" cy="2123.9" r="38" fill="#000"/><text x="705.7" y="2140.7" font-size="48" fill="#fff" text-anchor="middle" font-weight="bold">2</text>
<clipPath id="hZC"><circle cx="854.3" cy="2323.6" r="175"/></clipPath>
<g clip-path="url(#hZC)">
<path d="M661.43 2292.14C669.76 2290.95 691.19 2288.39 711.43 2285C731.67 2281.61 759.05 2276.96 782.86 2271.79C806.67 2266.61 830.48 2260.06 854.29 2253.93C878.1 2247.8 904.88 2240.95 925.71 2235C946.55 2229.05 959.64 2224.76 979.29 2218.21C998.93 2211.67 1032.86 2199.46 1043.57 2195.71 L1043.57 2127.14 L661.43 2127.14 Z" fill="#c55a11"/>
<path d="M693.57 2237.86 L725.71 2200.36 L757.86 2180.71 L820.36 2153.93 L826.43 2184.29 L810.71 2202.86 L747.14 2222.86 L723.93 2224.29 Z" fill="#f4b183" stroke="#a8480c" stroke-width="1.2" stroke-linejoin="round"/>
<path d="M865 2141.43 L911.43 2134.29 L997.14 2162.86 L963.21 2180.71 L897.14 2185 L876.43 2174.29 Z" fill="#f4b183" stroke="#a8480c" stroke-width="1.2" stroke-linejoin="round"/>
<path d="M661.43 2396.79C667.68 2395.71 678.69 2393.51 698.93 2390.36C719.17 2387.2 756.96 2382.92 782.86 2377.86C808.75 2372.8 832.86 2365.77 854.29 2360C875.71 2354.23 893.57 2349.29 911.43 2343.21C929.29 2337.14 947.14 2330.3 961.43 2323.57C975.71 2316.85 986.13 2309.88 997.14 2302.86C1008.15 2295.83 1019.17 2288.1 1027.5 2281.43C1035.83 2274.76 1043.87 2265.95 1047.14 2262.86 L1047.14 2512.86 L661.43 2512.86 Z" fill="#8faadc" stroke="#2f5597" stroke-width="2.4"/>
<path d="M818.57 2502.14C820.95 2498.57 826.31 2488.15 832.86 2480.71C839.4 2473.27 847.14 2464.94 857.86 2457.5C868.57 2450.06 882.86 2440.65 897.14 2436.07C911.43 2431.49 928.1 2429.7 943.57 2430C959.05 2430.3 977.5 2434.17 990 2437.86C1002.5 2441.55 1013.81 2449.76 1018.57 2452.14 L1018.57 2512.86 L818.57 2512.86 Z" fill="#fff" stroke="#2f5597" stroke-width="2.4"/>
<g transform="translate(763.21 2279.64) rotate(-15.5)">
<path d="M-21 27 L-8.5 27 L-8.5 40 L8.5 40 L8.5 27 L21 27 L21 113 L-21 113 Z" fill="#4472c4"/>
<rect x="-22.5" y="-19" width="45" height="39" fill="#92041f"/>
<path d="M-6.2 18 L6.2 18 L6.2 46 L13.5 46 L0 72 L-13.5 46 L-6.2 46 Z" fill="#92041f" stroke="#fff" stroke-width="1.8" stroke-linejoin="miter"/>
<rect x="-5.3" y="14" width="10.6" height="8" fill="#92041f"/>
</g>
<g transform="translate(857.86 2260.36) rotate(-15.5)">
<path d="M-21 27 L-8.5 27 L-8.5 40 L8.5 40 L8.5 27 L21 27 L21 113 L-21 113 Z" fill="#4472c4"/>
<rect x="-22.5" y="-19" width="45" height="39" fill="#92041f"/>
<path d="M-6.2 18 L6.2 18 L6.2 46 L13.5 46 L0 72 L-13.5 46 L-6.2 46 Z" fill="#92041f" stroke="#fff" stroke-width="1.8" stroke-linejoin="miter"/>
<rect x="-5.3" y="14" width="10.6" height="8" fill="#92041f"/>
</g>
<g transform="translate(945.36 2228.21) rotate(-15.5)">
<path d="M-21 27 L-8.5 27 L-8.5 40 L8.5 40 L8.5 27 L21 27 L21 113 L-21 113 Z" fill="#4472c4"/>
<rect x="-22.5" y="-19" width="45" height="39" fill="#92041f"/>
<path d="M-6.2 18 L6.2 18 L6.2 46 L13.5 46 L0 72 L-13.5 46 L-6.2 46 Z" fill="#92041f" stroke="#fff" stroke-width="1.8" stroke-linejoin="miter"/>
<rect x="-5.3" y="14" width="10.6" height="8" fill="#92041f"/>
</g>
<path d="M825.71 2434.29C823.93 2431.61 820.95 2422.68 815 2418.21C809.05 2413.75 798.93 2409.88 790 2407.5C781.07 2405.12 767.86 2407.8 761.43 2403.93C755 2400.06 753.81 2392.32 751.43 2384.29C749.05 2376.25 749.52 2368.81 747.14 2355.71C744.76 2342.62 740.12 2321.19 737.14 2305.71C734.17 2290.24 730.3 2275.95 729.29 2262.86C728.27 2249.76 728.99 2236.67 731.07 2227.14C733.15 2217.62 737.02 2210.71 741.79 2205.71C746.55 2200.71 756.67 2198.57 759.64 2197.14" fill="none" stroke="#fff" stroke-opacity="0.55" stroke-width="7" stroke-linecap="round"/>
<path d="M825.71 2434.29C823.93 2431.61 820.95 2422.68 815 2418.21C809.05 2413.75 798.93 2409.88 790 2407.5C781.07 2405.12 767.86 2407.8 761.43 2403.93C755 2400.06 753.81 2392.32 751.43 2384.29C749.05 2376.25 749.52 2368.81 747.14 2355.71C744.76 2342.62 740.12 2321.19 737.14 2305.71C734.17 2290.24 730.3 2275.95 729.29 2262.86C728.27 2249.76 728.99 2236.67 731.07 2227.14C733.15 2217.62 737.02 2210.71 741.79 2205.71C746.55 2200.71 756.67 2198.57 759.64 2197.14" fill="none" stroke="#000" stroke-width="1.4" stroke-dasharray="1.5 2"/>
<path d="M4 0 L-4 -3.6 L-4 3.6 Z" fill="#000" transform="translate(762.14 2196.43) rotate(-12)"/>
<text transform="translate(771.43 2207.5) rotate(-24)" font-size="25">Ca<tspan font-size="17" dy="-9">2+</tspan></text>
<text transform="translate(815 2411.07) rotate(-20)" font-size="25">Ca<tspan font-size="17" dy="-9">2+</tspan></text>
<text transform="translate(745.36 2450.36) rotate(-20)" font-size="25">Ca<tspan font-size="17" dy="-9">2+</tspan></text>
<text transform="translate(809.64 2459.29) rotate(-20)" font-size="25">Ca<tspan font-size="17" dy="-9">2+</tspan></text>
<text transform="translate(767.86 2251.43) rotate(-14.5)" font-size="36.5" font-weight="bold">PTPIP51</text>
<text transform="translate(908.57 2407.5) rotate(-21)" font-size="36.5" font-weight="bold">VAP-B</text>
</g>
<circle cx="854.3" cy="2323.6" r="173.5" fill="none" stroke="#000" stroke-width="4.6"/>
<path d="M1049.7 2350 L1069.7 2350 L1069.7 2256.6 L1081.2 2256.6 L1059.7 2237.6 L1038.2 2256.6 L1049.7 2256.6 Z" fill="#70ad47" stroke="#3b6127" stroke-width="4.2" stroke-linejoin="miter"/>
<path d="M1049.7 2363.6 L1069.7 2363.6 L1069.7 2457.2 L1081.2 2457.2 L1059.7 2476.2 L1038.2 2457.2 L1049.7 2457.2 Z" fill="#70ad47" stroke="#3b6127" stroke-width="4.2" stroke-linejoin="miter"/>
<text x="1090.5" y="2338.6" font-size="42.2" fill="#000">Respiration</text>
<text x="1090.5" y="2402.1" font-size="42.2" fill="#000">Mitophagy</text>
<text x="1091" y="2441.4" font-size="40" font-weight="bold" font-family="'Liberation Serif', serif">Δψ<tspan font-size="27.2" dy="8">m</tspan></text>
<text x="1424.4" y="1848" font-size="42.2" fill="#000" text-anchor="middle" font-weight="bold">IMC</text>
<line x1="1385.7" y1="1855.2" x2="1463.2" y2="1855.2" stroke="#000" stroke-width="4"/>
<path d="M1251.64 2024.97C1249.95 2022.47 1245.92 2014.74 1247.17 2007.98C1248.42 2001.22 1256.51 1984.83 1260.58 1976.69C1264.65 1968.56 1271.53 1955.82 1276.23 1949.87C1280.92 1943.92 1286.6 1937.67 1294.11 1934.22C1301.62 1930.78 1319.86 1928.1 1329.87 1925.28C1339.88 1922.47 1357.81 1917.55 1365.63 1914.11C1373.46 1910.67 1381.37 1904.89 1385.75 1900.7C1390.13 1896.5 1394.23 1887.16 1396.92 1884.16C1399.62 1881.15 1401.22 1879.3 1404.97 1879.24C1408.73 1879.18 1418.61 1881.21 1423.75 1883.71C1428.88 1886.21 1437.75 1893.18 1441.63 1897.12C1445.51 1901.06 1450.52 1907.93 1451.46 1911.87C1452.4 1915.82 1450.96 1922.72 1448.33 1925.28C1445.7 1927.85 1437.26 1928.51 1432.69 1930.2C1428.12 1931.89 1419.08 1934.73 1415.7 1937.35C1412.32 1939.98 1408.8 1945.85 1408.55 1948.98C1408.3 1952.11 1411.16 1957.7 1413.91 1959.7C1416.67 1961.71 1422.46 1963.41 1428.22 1963.28C1433.97 1963.16 1447.53 1960.19 1455.04 1958.81C1462.55 1957.43 1475.48 1956.45 1481.86 1953.45C1488.24 1950.44 1496.57 1939.98 1500.63 1937.35C1504.7 1934.73 1507.29 1932.61 1510.92 1934.67C1514.55 1936.74 1522.49 1946.85 1526.56 1952.11C1530.63 1957.36 1536.84 1966.9 1539.97 1972.22C1543.1 1977.54 1547.22 1985.72 1548.91 1990.1C1550.6 1994.48 1553.29 2001.95 1552.04 2003.51C1550.79 2005.08 1544.17 2003.78 1539.97 2001.28C1535.78 1998.78 1527.1 1989.32 1522.09 1985.63C1517.09 1981.94 1509.84 1977.03 1504.21 1974.9C1498.58 1972.78 1488.12 1970.43 1481.86 1970.43C1475.6 1970.43 1465.64 1972.78 1459.51 1974.9C1453.38 1977.03 1442.93 1982.13 1438.05 1985.63C1433.17 1989.14 1427.52 1995.43 1424.64 1999.94C1421.76 2004.44 1418.99 2012.31 1417.49 2017.82C1415.99 2023.33 1414.54 2031.89 1413.91 2039.28C1413.29 2046.66 1412.52 2061.81 1413.02 2070.57C1413.52 2079.33 1415.99 2094.35 1417.49 2101.86C1418.99 2109.37 1421.93 2119.2 1423.75 2124.21C1425.56 2129.22 1431.7 2134.99 1430.45 2137.62C1429.2 2140.25 1420.13 2142.36 1414.81 2142.99C1409.49 2143.61 1397.46 2141.28 1392.45 2142.09C1387.45 2142.91 1382.8 2146.29 1379.04 2148.8C1375.29 2151.3 1368.57 2158.72 1365.63 2159.97C1362.69 2161.22 1358.66 2160.24 1358.03 2157.74C1357.41 2155.23 1358.85 2146.79 1361.16 2142.09C1363.48 2137.4 1370.82 2129.22 1374.57 2124.21C1378.33 2119.2 1384.54 2111.34 1387.98 2106.33C1391.43 2101.32 1396.66 2094.08 1399.16 2088.45C1401.66 2082.82 1404.8 2072.98 1405.86 2066.1C1406.93 2059.21 1407.07 2046.79 1406.76 2039.28C1406.45 2031.77 1405.63 2019.96 1403.63 2012.45C1401.63 2004.94 1396.52 1991.89 1392.45 1985.63C1388.39 1979.37 1380.83 1971.76 1374.57 1967.75C1368.31 1963.75 1355.26 1958.27 1347.75 1957.02C1340.24 1955.77 1327.81 1957 1320.93 1958.81C1314.05 1960.63 1304.21 1965.61 1298.58 1969.99C1292.95 1974.37 1285.08 1984.16 1280.7 1990.1C1276.32 1996.05 1270.29 2007.45 1267.29 2012.45C1264.28 2017.46 1261.43 2024.11 1259.24 2025.86C1257.05 2027.62 1253.33 2027.47 1251.64 2024.97Z" fill="#8faadc" stroke="#2f5597" stroke-width="1.6"/>
<clipPath id="hRM2"><ellipse cx="1333.6" cy="2048.3" rx="57.5" ry="74.3" transform="rotate(14 1333.6 2048.3)"/></clipPath><ellipse cx="1333.6" cy="2048.3" rx="71.5" ry="88.3" fill="#c55a11" stroke="#9c4a10" stroke-width="1.2" transform="rotate(14 1333.6 2048.3)"/><ellipse cx="1333.6" cy="2048.3" rx="57.5" ry="74.3" fill="#f4b183" transform="rotate(14 1333.6 2048.3)"/><g clip-path="url(#hRM2)" fill="#c55a11" stroke="#9a4a12" stroke-width="0.9" stroke-linejoin="round"><path d="M1393.83 2025.94 L1389.24 2023.78 L1384.66 2021.63 L1380.11 2019.5 L1375.57 2017.39 L1371.04 2015.32 L1366.52 2013.28 L1362.01 2011.28 L1357.5 2009.33 L1352.99 2007.43 L1348.48 2005.58 L1343.96 2003.79 L1339.44 2002.05 L1334.9 2000.38 L1330.35 1998.78 L1330.01 1999.41 L1333.87 2002.31 L1337.81 2005.13 L1341.83 2007.88 L1345.91 2010.55 L1350.06 2013.16 L1354.28 2015.7 L1358.55 2018.18 L1362.89 2020.6 L1367.28 2022.96 L1371.73 2025.28 L1376.22 2027.55 L1380.77 2029.79 L1385.35 2031.99 L1389.97 2034.18Z"/><path d="M1375.66 1996.64 L1372.7 1995.68 L1369.77 1994.69 L1366.86 1993.66 L1363.99 1992.61 L1361.13 1991.53 L1358.29 1990.44 L1355.47 1989.33 L1352.66 1988.2 L1349.86 1987.06 L1347.06 1985.91 L1344.26 1984.74 L1341.46 1983.57 L1338.66 1982.38 L1335.84 1981.19 L1335.45 1981.79 L1337.75 1983.84 L1340.14 1985.8 L1342.6 1987.68 L1345.14 1989.46 L1347.75 1991.16 L1350.42 1992.77 L1353.15 1994.29 L1355.95 1995.73 L1358.79 1997.09 L1361.69 1998.37 L1364.64 1999.57 L1367.63 2000.7 L1370.67 2001.76 L1373.74 2002.76Z"/><path d="M1313.84 1990.68 L1314.96 1991.3 L1316.07 1991.93 L1317.16 1992.56 L1318.25 1993.19 L1319.34 1993.81 L1320.42 1994.42 L1321.51 1995.03 L1322.6 1995.62 L1323.69 1996.21 L1324.79 1996.78 L1325.91 1997.35 L1327.03 1997.9 L1328.17 1998.43 L1329.34 1998.96 L1329.81 1998.42 L1329.1 1997.34 L1328.34 1996.3 L1327.54 1995.29 L1326.68 1994.32 L1325.79 1993.39 L1324.85 1992.49 L1323.87 1991.63 L1322.86 1990.8 L1321.81 1990.01 L1320.73 1989.24 L1319.63 1988.51 L1318.49 1987.8 L1317.34 1987.12 L1316.16 1986.46Z"/><path d="M1286.81 2017.32 L1291.22 2018.2 L1295.61 2019.12 L1299.98 2020.06 L1304.33 2021.03 L1308.66 2022.01 L1312.99 2023 L1317.31 2023.99 L1321.62 2024.99 L1325.93 2025.98 L1330.25 2026.97 L1334.58 2027.95 L1338.92 2028.91 L1343.27 2029.86 L1347.65 2030.8 L1347.92 2030.13 L1344.06 2027.82 L1340.12 2025.65 L1336.12 2023.59 L1332.05 2021.67 L1327.91 2019.86 L1323.72 2018.17 L1319.47 2016.59 L1315.18 2015.13 L1310.83 2013.77 L1306.45 2012.52 L1302.02 2011.36 L1297.56 2010.29 L1293.07 2009.3 L1288.54 2008.39Z"/><path d="M1393.26 2057.37 L1386.37 2055.05 L1379.51 2052.69 L1372.68 2050.31 L1365.88 2047.91 L1359.11 2045.49 L1352.36 2043.06 L1345.63 2040.62 L1338.91 2038.17 L1332.22 2035.72 L1325.54 2033.27 L1318.87 2030.82 L1312.21 2028.38 L1305.55 2025.94 L1298.9 2023.51 L1297.91 2025.68 L1304.13 2029.1 L1310.42 2032.43 L1316.79 2035.65 L1323.21 2038.79 L1329.7 2041.82 L1336.25 2044.77 L1342.86 2047.63 L1349.53 2050.41 L1356.24 2053.1 L1363.01 2055.72 L1369.83 2058.26 L1376.69 2060.73 L1383.6 2063.14 L1390.55 2065.49Z"/><path d="M1391.66 2036.71 L1389.6 2036.87 L1387.55 2037.07 L1385.51 2037.31 L1383.48 2037.6 L1381.47 2037.95 L1379.47 2038.35 L1377.49 2038.82 L1375.53 2039.35 L1373.59 2039.95 L1371.67 2040.62 L1369.78 2041.37 L1367.92 2042.19 L1366.09 2043.09 L1364.3 2044.08 L1364.46 2044.78 L1366.5 2044.86 L1368.51 2044.9 L1370.5 2044.92 L1372.49 2044.9 L1374.46 2044.85 L1376.43 2044.77 L1378.39 2044.67 L1380.35 2044.56 L1382.31 2044.42 L1384.27 2044.27 L1386.23 2044.12 L1388.2 2043.95 L1390.17 2043.8 L1392.15 2043.65Z"/><path d="M1274.46 2046.62 L1280.88 2048.23 L1287.28 2049.91 L1293.64 2051.66 L1299.98 2053.45 L1306.3 2055.29 L1312.6 2057.18 L1318.88 2059.1 L1325.15 2061.05 L1331.42 2063.03 L1337.69 2065.04 L1343.95 2067.07 L1350.23 2069.13 L1356.51 2071.2 L1362.81 2073.29 L1363.12 2072.64 L1357.41 2069.21 L1351.61 2065.93 L1345.73 2062.81 L1339.77 2059.84 L1333.73 2057.02 L1327.62 2054.35 L1321.44 2051.82 L1315.2 2049.43 L1308.9 2047.18 L1302.54 2045.06 L1296.13 2043.07 L1289.67 2041.2 L1283.16 2039.44 L1276.62 2037.79Z"/><path d="M1389.23 2080.93 L1381.6 2078.27 L1373.93 2075.85 L1366.22 2073.69 L1358.49 2071.8 L1350.73 2070.17 L1342.94 2068.82 L1335.13 2067.75 L1327.3 2066.96 L1319.45 2066.47 L1311.59 2066.27 L1303.73 2066.36 L1295.86 2066.75 L1288.01 2067.44 L1280.16 2068.44 L1280.22 2069.39 L1288.08 2069.64 L1295.87 2070.04 L1303.62 2070.61 L1311.31 2071.33 L1318.95 2072.23 L1326.56 2073.3 L1334.13 2074.53 L1341.68 2075.95 L1349.19 2077.55 L1356.69 2079.34 L1364.16 2081.31 L1371.62 2083.49 L1379.06 2085.87 L1386.48 2088.47Z"/><path d="M1372.37 2090.87 L1368.34 2090.15 L1364.3 2089.41 L1360.25 2088.69 L1356.2 2087.97 L1352.12 2087.26 L1348.04 2086.58 L1343.94 2085.92 L1339.82 2085.29 L1335.69 2084.69 L1331.54 2084.13 L1327.36 2083.61 L1323.16 2083.14 L1318.93 2082.71 L1314.68 2082.33 L1314.51 2083.03 L1318.46 2084.65 L1322.44 2086.18 L1326.43 2087.63 L1330.43 2088.99 L1334.45 2090.26 L1338.48 2091.46 L1342.52 2092.59 L1346.57 2093.65 L1350.63 2094.63 L1354.69 2095.56 L1358.76 2096.43 L1362.82 2097.25 L1366.89 2098.03 L1370.96 2098.77Z"/><path d="M1284.78 2098.38 L1289.01 2097.18 L1293.22 2096.29 L1297.43 2095.7 L1301.64 2095.41 L1305.87 2095.41 L1310.13 2095.69 L1314.43 2096.27 L1318.79 2097.13 L1323.21 2098.29 L1327.71 2099.74 L1332.28 2101.5 L1336.95 2103.57 L1341.71 2105.96 L1346.56 2108.67 L1346.99 2108.09 L1342.77 2104.38 L1338.46 2101.04 L1334.07 2098.07 L1329.59 2095.48 L1325.05 2093.27 L1320.44 2091.46 L1315.77 2090.04 L1311.05 2089.02 L1306.31 2088.4 L1301.54 2088.18 L1296.76 2088.37 L1291.98 2088.95 L1287.22 2089.91 L1282.48 2091.26Z"/></g><ellipse cx="1333.6" cy="2048.3" rx="57.5" ry="74.3" fill="none" stroke="#9a4a12" stroke-width="1" transform="rotate(14 1333.6 2048.3)"/>
<clipPath id="hRM3"><ellipse cx="1482.6" cy="2061.2" rx="53.3" ry="76.2" transform="rotate(-4 1482.6 2061.2)"/></clipPath><ellipse cx="1482.6" cy="2061.2" rx="67.3" ry="90.2" fill="#c55a11" stroke="#9c4a10" stroke-width="1.2" transform="rotate(-4 1482.6 2061.2)"/><ellipse cx="1482.6" cy="2061.2" rx="53.3" ry="76.2" fill="#f4b183" transform="rotate(-4 1482.6 2061.2)"/><g clip-path="url(#hRM3)" fill="#c55a11" stroke="#9a4a12" stroke-width="0.9" stroke-linejoin="round"><path d="M1444.32 2005.8 L1447.83 2005.97 L1451.31 2006.07 L1454.75 2006.07 L1458.16 2005.99 L1461.52 2005.81 L1464.85 2005.52 L1468.12 2005.14 L1471.36 2004.64 L1474.54 2004.03 L1477.66 2003.31 L1480.73 2002.47 L1483.73 2001.52 L1486.67 2000.44 L1489.53 1999.24 L1489.37 1998.54 L1486.3 1998.67 L1483.22 1998.79 L1480.14 1998.9 L1477.05 1999 L1473.95 1999.09 L1470.82 1999.17 L1467.67 1999.23 L1464.49 1999.27 L1461.29 1999.28 L1458.05 1999.27 L1454.77 1999.23 L1451.46 1999.15 L1448.11 1999.03 L1444.73 1998.86Z"/><path d="M1529.7 2022.61 L1524.5 2022.37 L1519.28 2022.12 L1514.03 2021.87 L1508.75 2021.63 L1503.44 2021.4 L1498.11 2021.19 L1492.74 2020.99 L1487.35 2020.83 L1481.92 2020.69 L1476.46 2020.59 L1470.97 2020.52 L1465.44 2020.5 L1459.88 2020.52 L1454.27 2020.6 L1454.2 2021.31 L1459.68 2022.51 L1465.14 2023.62 L1470.59 2024.63 L1476.02 2025.55 L1481.44 2026.38 L1486.85 2027.12 L1492.23 2027.79 L1497.6 2028.38 L1502.94 2028.9 L1508.27 2029.36 L1513.57 2029.75 L1518.85 2030.09 L1524.11 2030.38 L1529.34 2030.63Z"/><path d="M1434.05 2023.74 L1435.25 2023.9 L1436.46 2024.04 L1437.67 2024.14 L1438.88 2024.21 L1440.1 2024.23 L1441.33 2024.2 L1442.55 2024.13 L1443.77 2024.01 L1445 2023.84 L1446.22 2023.61 L1447.43 2023.33 L1448.64 2022.98 L1449.84 2022.58 L1451.03 2022.12 L1450.96 2021.4 L1449.73 2021.15 L1448.51 2020.92 L1447.32 2020.7 L1446.13 2020.51 L1444.96 2020.32 L1443.8 2020.15 L1442.65 2020 L1441.51 2019.85 L1440.37 2019.7 L1439.24 2019.56 L1438.12 2019.43 L1436.99 2019.28 L1435.88 2019.14 L1434.76 2018.98Z"/><path d="M1530.92 2029.54 L1528.95 2029.92 L1526.99 2030.26 L1525.02 2030.59 L1523.06 2030.9 L1521.08 2031.2 L1519.11 2031.49 L1517.12 2031.78 L1515.13 2032.06 L1513.13 2032.35 L1511.11 2032.65 L1509.07 2032.96 L1507.02 2033.27 L1504.94 2033.61 L1502.84 2033.95 L1502.78 2034.67 L1504.83 2035.32 L1506.91 2035.87 L1508.99 2036.33 L1511.09 2036.69 L1513.2 2036.97 L1515.32 2037.15 L1517.43 2037.25 L1519.55 2037.26 L1521.67 2037.2 L1523.78 2037.06 L1525.89 2036.85 L1527.99 2036.57 L1530.09 2036.23 L1532.18 2035.84Z"/><path d="M1429.64 2048.49 L1433.84 2048.19 L1438.01 2047.85 L1442.15 2047.47 L1446.26 2047.03 L1450.35 2046.54 L1454.39 2045.98 L1458.41 2045.36 L1462.39 2044.66 L1466.33 2043.89 L1470.24 2043.03 L1474.11 2042.09 L1477.93 2041.06 L1481.72 2039.93 L1485.45 2038.71 L1485.35 2038 L1481.43 2037.86 L1477.5 2037.78 L1473.56 2037.75 L1469.61 2037.78 L1465.64 2037.85 L1461.65 2037.97 L1457.65 2038.13 L1453.63 2038.33 L1449.59 2038.56 L1445.53 2038.81 L1441.45 2039.08 L1437.34 2039.37 L1433.21 2039.66 L1429.05 2039.96Z"/><path d="M1535.75 2049.54 L1529.03 2050.86 L1522.29 2052.06 L1515.55 2053.15 L1508.79 2054.15 L1502.03 2055.06 L1495.24 2055.89 L1488.44 2056.64 L1481.62 2057.32 L1474.78 2057.92 L1467.91 2058.47 L1461.01 2058.95 L1454.08 2059.37 L1447.11 2059.74 L1440.09 2060.06 L1440.05 2060.77 L1447.01 2061.83 L1453.99 2062.68 L1460.98 2063.32 L1467.97 2063.75 L1474.97 2063.99 L1481.96 2064.04 L1488.94 2063.89 L1495.92 2063.55 L1502.88 2063.04 L1509.83 2062.34 L1516.77 2061.48 L1523.68 2060.45 L1530.58 2059.26 L1537.46 2057.93Z"/><path d="M1428.48 2079.47 L1435.15 2079.21 L1441.79 2078.89 L1448.4 2078.49 L1454.98 2078.02 L1461.53 2077.47 L1468.04 2076.82 L1474.53 2076.08 L1480.98 2075.24 L1487.39 2074.29 L1493.77 2073.23 L1500.1 2072.07 L1506.4 2070.78 L1512.64 2069.38 L1518.85 2067.85 L1518.75 2067.14 L1512.37 2067.31 L1505.99 2067.5 L1499.6 2067.73 L1493.2 2067.98 L1486.79 2068.25 L1480.36 2068.54 L1473.91 2068.84 L1467.45 2069.15 L1460.96 2069.47 L1454.46 2069.78 L1447.93 2070.09 L1441.37 2070.39 L1434.79 2070.66 L1428.18 2070.91Z"/><path d="M1536 2076.15 L1529.41 2077.1 L1522.84 2078.21 L1516.29 2079.49 L1509.77 2080.95 L1503.28 2082.58 L1496.83 2084.4 L1490.41 2086.41 L1484.04 2088.61 L1477.71 2091.01 L1471.44 2093.61 L1465.23 2096.41 L1459.09 2099.41 L1453.01 2102.62 L1447.01 2106.03 L1447.3 2106.68 L1453.86 2104.63 L1460.38 2102.64 L1466.87 2100.73 L1473.32 2098.88 L1479.74 2097.12 L1486.15 2095.43 L1492.54 2093.82 L1498.92 2092.3 L1505.29 2090.86 L1511.66 2089.51 L1518.04 2088.26 L1524.42 2087.12 L1530.8 2086.08 L1537.21 2085.16Z"/><path d="M1532.35 2091.96 L1528.98 2092.18 L1525.59 2092.45 L1522.19 2092.78 L1518.77 2093.16 L1515.33 2093.61 L1511.88 2094.13 L1508.41 2094.71 L1504.93 2095.38 L1501.45 2096.12 L1497.95 2096.95 L1494.45 2097.86 L1490.94 2098.87 L1487.43 2099.96 L1483.92 2101.15 L1484.05 2101.85 L1487.75 2101.74 L1491.4 2101.6 L1495.02 2101.44 L1498.6 2101.26 L1502.15 2101.05 L1505.66 2100.83 L1509.15 2100.59 L1512.6 2100.35 L1516.02 2100.1 L1519.42 2099.84 L1522.79 2099.59 L1526.14 2099.34 L1529.47 2099.11 L1532.77 2098.9Z"/><path d="M1467.14 2127.47 L1469.93 2125.32 L1472.9 2123.31 L1476.05 2121.43 L1479.38 2119.66 L1482.91 2118.01 L1486.63 2116.47 L1490.54 2115.03 L1494.66 2113.7 L1498.99 2112.46 L1503.53 2111.33 L1508.28 2110.29 L1513.25 2109.34 L1518.44 2108.49 L1523.86 2107.73 L1523.85 2107.01 L1518.36 2106.59 L1513.02 2106.4 L1507.84 2106.44 L1502.82 2106.71 L1497.96 2107.22 L1493.28 2107.95 L1488.76 2108.91 L1484.43 2110.1 L1480.27 2111.5 L1476.31 2113.12 L1472.53 2114.96 L1468.95 2117 L1465.57 2119.24 L1462.39 2121.68Z"/></g><ellipse cx="1482.6" cy="2061.2" rx="53.3" ry="76.2" fill="none" stroke="#9a4a12" stroke-width="1" transform="rotate(-4 1482.6 2061.2)"/>
<path d="M1585.8 2106.2 L1606.2 2106.2 L1606.2 1994.6 L1617.75 1994.6 L1596 1974 L1574.25 1994.6 L1585.8 1994.6 Z" fill="#70ad47" stroke="#3b6127" stroke-width="4.2" stroke-linejoin="miter"/>
<text x="1629.2" y="2005.8" font-size="42.2" fill="#000">Respiration</text>
<text x="1629.2" y="2061.6" font-size="42.2" fill="#000">Virus</text>
<text x="1629.2" y="2113" font-size="42.2" fill="#000">replication</text>
<circle cx="1576.6" cy="2171.1" r="38" fill="#000"/><text x="1576.6" y="2187.9" font-size="48" fill="#fff" text-anchor="middle" font-weight="bold">3</text>
<path d="M1296.5 2154C1296.75 2157.67 1296.42 2169.33 1298 2176C1299.58 2182.67 1302 2188.92 1306 2194C1310 2199.08 1314.67 2203.5 1322 2206.5C1329.33 2209.5 1337 2210.92 1350 2212C1363 2213.08 1383.33 2212.92 1400 2213C1416.67 2213.08 1438 2213.5 1450 2212.5C1462 2211.5 1465.67 2210.25 1472 2207C1478.33 2203.75 1483.42 2199.25 1488 2193C1492.58 2186.75 1497.58 2173.42 1499.5 2169.5" fill="none" stroke="#000" stroke-width="4" stroke-dasharray="4 3.9"/><path d="M7 0 L-6.2 -5.6 L-3 0 L-6.2 5.6 Z" fill="#000" transform="translate(1499.5 2169.5) rotate(-63.92)"/><path d="M7 0 L-6.2 -5.6 L-3 0 L-6.2 5.6 Z" fill="#000" transform="translate(1296.5 2154) rotate(-93.9)"/>
<text x="1369.5" y="2253.9" font-size="40" font-weight="bold" font-family="'Liberation Serif', serif">Δψ<tspan font-size="27.2" dy="8">m</tspan></text>
</g>
</svg>
</body>
</html>
